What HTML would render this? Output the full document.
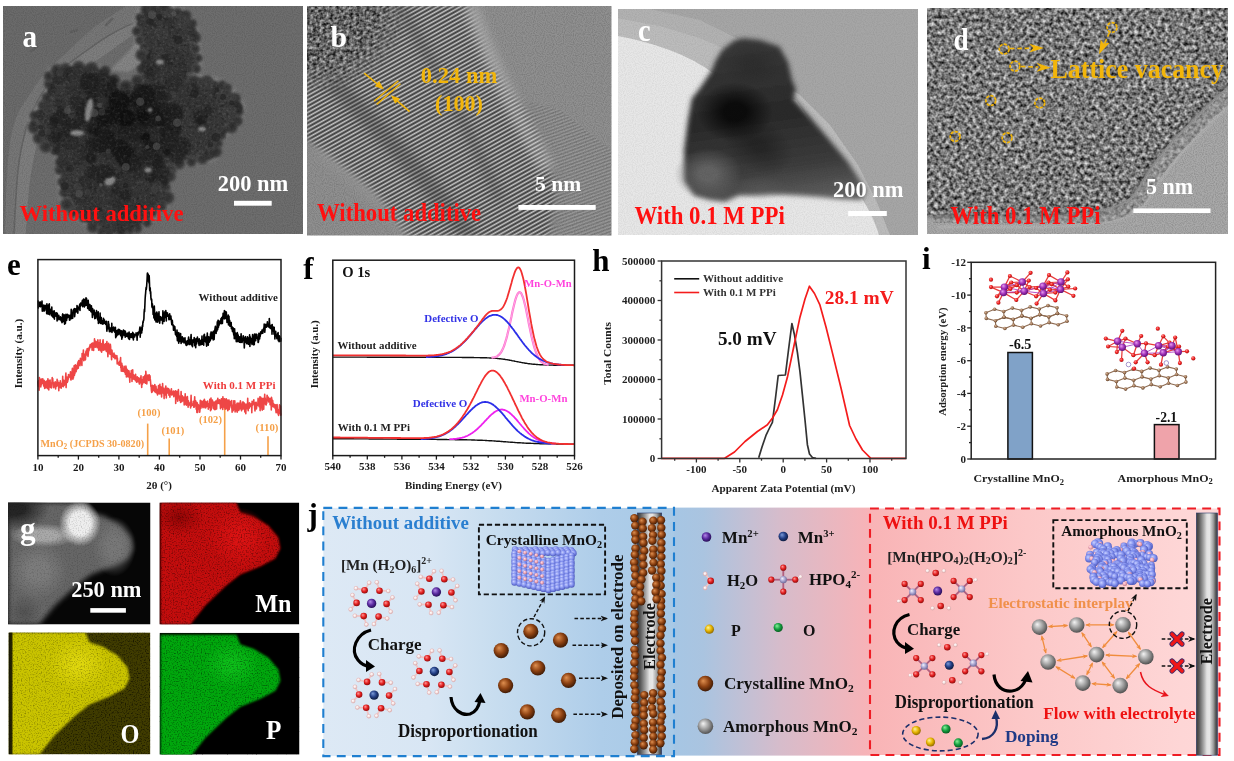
<!DOCTYPE html>
<html lang="en"><head><meta charset="utf-8"><title>MnO2 figure</title>
<style>html,body{margin:0;padding:0;width:1234px;height:761px;overflow:hidden;background:#fff}svg{display:block}</style>
</head><body>
<svg width="1234" height="761" viewBox="0 0 1234 761" font-family='"Liberation Serif","Times New Roman",serif' font-weight="bold">
<defs>

<filter id="blur1" x="-20%" y="-20%" width="140%" height="140%"><feGaussianBlur stdDeviation="1.2"/></filter>
<filter id="blur2" x="-20%" y="-20%" width="140%" height="140%"><feGaussianBlur stdDeviation="2.5"/></filter>
<filter id="blur4" x="-30%" y="-30%" width="160%" height="160%"><feGaussianBlur stdDeviation="4"/></filter>
<filter id="blur8" x="-30%" y="-30%" width="160%" height="160%"><feGaussianBlur stdDeviation="8"/></filter>
<filter id="noiseD" x="0" y="0" width="100%" height="100%">
  <feTurbulence type="fractalNoise" baseFrequency="0.38" numOctaves="2" seed="7" result="n"/>
  <feColorMatrix in="n" type="matrix" values="0 0 0 0 0  0 0 0 0 0  0 0 0 0 0  -2.2 0 0 0 1.1" result="a"/>
  <feComposite in="a" in2="SourceGraphic" operator="in"/>
</filter>
<filter id="noiseL" x="0" y="0" width="100%" height="100%">
  <feTurbulence type="fractalNoise" baseFrequency="0.38" numOctaves="2" seed="11" result="n"/>
  <feColorMatrix in="n" type="matrix" values="0 0 0 0 1  0 0 0 0 1  0 0 0 0 1  2.2 0 0 0 -1.1" result="a"/>
  <feComposite in="a" in2="SourceGraphic" operator="in"/>
</filter>
<filter id="grain" x="0" y="0" width="100%" height="100%">
  <feTurbulence type="fractalNoise" baseFrequency="0.9" numOctaves="1" seed="3" result="n"/>
  <feColorMatrix in="n" type="matrix" values="0 0 0 0 0  0 0 0 0 0  0 0 0 0 0  -1.2 0 0 0 0.75" result="a"/>
  <feComposite in="a" in2="SourceGraphic" operator="in"/>
</filter>
<pattern id="fringe" width="3.7" height="20" patternUnits="userSpaceOnUse" patternTransform="rotate(61)">
  <rect width="3.7" height="20" fill="#c8c8c8"/><rect x="0.3" width="2.3" height="20" fill="#686868"/><rect x="0.8" width="1.3" height="20" fill="#3a3a3a"/>
</pattern>
<radialGradient id="gPart" cx="50%" cy="50%" r="50%"><stop offset="0" stop-color="#2e2e2e"/><stop offset="0.7" stop-color="#3e3e3e"/><stop offset="1" stop-color="#5a5a5a"/></radialGradient>
<filter id="tex" x="0" y="0" width="100%" height="100%" color-interpolation-filters="sRGB">
  <feTurbulence type="fractalNoise" baseFrequency="0.26" numOctaves="2" seed="7" result="n"/>
  <feColorMatrix in="n" type="matrix" values="1.2 0 0 0 -0.13  1.2 0 0 0 -0.13  1.2 0 0 0 -0.13  0 0 0 0 1" result="g"/>
  <feComposite in="g" in2="SourceGraphic" operator="in"/>
</filter>
<filter id="tex2" x="0" y="0" width="100%" height="100%" color-interpolation-filters="sRGB">
  <feTurbulence type="fractalNoise" baseFrequency="0.3" numOctaves="2" seed="2" result="n"/>
  <feColorMatrix in="n" type="matrix" values="1.2 0 0 0 -0.22  1.2 0 0 0 -0.22  1.2 0 0 0 -0.22  0 0 0 0 1" result="g"/>
  <feComposite in="g" in2="SourceGraphic" operator="in"/>
</filter>
<pattern id="fringe2" width="3.2" height="20" patternUnits="userSpaceOnUse" patternTransform="rotate(70)">
  <rect width="3.2" height="20" fill="#aaa"/><rect width="1.5" height="20" fill="#444"/>
</pattern>
<linearGradient id="gPc" x1="0.35" y1="0.05" x2="0.5" y2="1"><stop offset="0" stop-color="#383838"/><stop offset="0.45" stop-color="#2a2a2a"/><stop offset="0.78" stop-color="#3c3c3c"/><stop offset="1" stop-color="#5e5e5e"/></linearGradient>
<radialGradient id="gmB" cx="0.1" cy="0.05" r="0.75"><stop offset="0" stop-color="#fff"/><stop offset="0.6" stop-color="#fff"/><stop offset="1" stop-color="#000"/></radialGradient>
<mask id="mB" maskUnits="userSpaceOnUse" x="307" y="6" width="120" height="110"><rect x="307" y="6" width="120" height="110" fill="url(#gmB)"/></mask>
<clipPath id="cpA"><rect x="3" y="6" width="300" height="228"/></clipPath>
<clipPath id="cpB"><rect x="307" y="6" width="304.5" height="229.5"/></clipPath>
<clipPath id="cpC"><rect x="618" y="9" width="300" height="226"/></clipPath>
<clipPath id="cpD"><rect x="927" y="8" width="301" height="226"/></clipPath>


<clipPath id="cpG1"><rect x="8" y="502.5" width="142.5" height="122"/></clipPath>
<clipPath id="cpG2"><rect x="159.4" y="502.5" width="139.8" height="122"/></clipPath>
<clipPath id="cpG3"><rect x="8.5" y="632.4" width="141.8" height="122"/></clipPath>
<clipPath id="cpG4"><rect x="159.5" y="632.8" width="140" height="121.6"/></clipPath>
<filter id="speck" x="0" y="0" width="100%" height="100%">
  <feTurbulence type="fractalNoise" baseFrequency="0.75" numOctaves="1" seed="5" result="n"/>
  <feColorMatrix in="n" type="matrix" values="0 0 0 0 0  0 0 0 0 0  0 0 0 0 0  -2.6 0 0 0 1.35" result="a"/>
  <feComposite in="a" in2="SourceGraphic" operator="in"/>
</filter>
<filter id="speckS" x="0" y="0" width="100%" height="100%">
  <feTurbulence type="fractalNoise" baseFrequency="0.8" numOctaves="1" seed="9" result="n"/>
  <feColorMatrix in="n" type="matrix" values="0 0 0 0 0  0 0 0 0 0  0 0 0 0 0  9 0 0 0 -5.6" result="a"/>
  <feComposite in="a" in2="SourceGraphic" operator="in"/>
</filter>

<radialGradient id="gBr" cx="45%" cy="42%" r="60%" fx="35%" fy="32%"><stop offset="0" stop-color="#e09050"/><stop offset="0.55" stop-color="#8e4212"/><stop offset="1" stop-color="#3a1804"/></radialGradient>
<radialGradient id="gGy" cx="45%" cy="42%" r="60%" fx="35%" fy="32%"><stop offset="0" stop-color="#f4f4f4"/><stop offset="0.55" stop-color="#9a9a9a"/><stop offset="1" stop-color="#4a4a4a"/></radialGradient>
<radialGradient id="gPu" cx="45%" cy="42%" r="60%" fx="35%" fy="32%"><stop offset="0" stop-color="#b48ae8"/><stop offset="0.55" stop-color="#5a2aa0"/><stop offset="1" stop-color="#220c50"/></radialGradient>
<radialGradient id="gBl" cx="45%" cy="42%" r="60%" fx="35%" fy="32%"><stop offset="0" stop-color="#7a9ad8"/><stop offset="0.55" stop-color="#233f86"/><stop offset="1" stop-color="#0c1838"/></radialGradient>
<radialGradient id="gRd" cx="45%" cy="42%" r="60%" fx="35%" fy="32%"><stop offset="0" stop-color="#ff9a9a"/><stop offset="0.55" stop-color="#e42020"/><stop offset="1" stop-color="#8a0a0a"/></radialGradient>
<radialGradient id="gWh" cx="45%" cy="42%" r="60%" fx="35%" fy="32%"><stop offset="0" stop-color="#ffffff"/><stop offset="0.55" stop-color="#f6e4e4"/><stop offset="1" stop-color="#c8a0a0"/></radialGradient>
<radialGradient id="gYe" cx="45%" cy="42%" r="60%" fx="35%" fy="32%"><stop offset="0" stop-color="#fff59a"/><stop offset="0.55" stop-color="#e6b400"/><stop offset="1" stop-color="#8a6400"/></radialGradient>
<radialGradient id="gGr" cx="45%" cy="42%" r="60%" fx="35%" fy="32%"><stop offset="0" stop-color="#8af09a"/><stop offset="0.55" stop-color="#14a040"/><stop offset="1" stop-color="#06541c"/></radialGradient>
<radialGradient id="gLv" cx="45%" cy="42%" r="60%" fx="35%" fy="32%"><stop offset="0" stop-color="#f4f4ff"/><stop offset="0.55" stop-color="#a8a4d0"/><stop offset="1" stop-color="#6a6494"/></radialGradient>
<radialGradient id="gCb" cx="45%" cy="42%" r="60%" fx="35%" fy="32%"><stop offset="0" stop-color="#c8d0ff"/><stop offset="0.55" stop-color="#8290ee"/><stop offset="1" stop-color="#4a56b8"/></radialGradient>
<radialGradient id="gPk" cx="45%" cy="42%" r="60%" fx="35%" fy="32%"><stop offset="0" stop-color="#ffe0e8"/><stop offset="0.55" stop-color="#f0a8b8"/><stop offset="1" stop-color="#b07080"/></radialGradient>
<radialGradient id="gCa" cx="45%" cy="42%" r="60%" fx="35%" fy="32%"><stop offset="0" stop-color="#d8b8a0"/><stop offset="0.55" stop-color="#a07858"/><stop offset="1" stop-color="#5a3a24"/></radialGradient>
<radialGradient id="gOx" cx="45%" cy="42%" r="60%" fx="35%" fy="32%"><stop offset="0" stop-color="#ff9090"/><stop offset="0.55" stop-color="#ee2020"/><stop offset="1" stop-color="#a01010"/></radialGradient>
<radialGradient id="gMn" cx="45%" cy="42%" r="60%" fx="35%" fy="32%"><stop offset="0" stop-color="#e8a0f0"/><stop offset="0.55" stop-color="#a030b8"/><stop offset="1" stop-color="#5a1070"/></radialGradient>
<linearGradient id="jBlue" x1="0" x2="1" y1="0" y2="0"><stop offset="0" stop-color="#dde9f5"/><stop offset="0.3" stop-color="#d8e6f4"/><stop offset="0.45" stop-color="#cbdff0"/><stop offset="0.79" stop-color="#aecde9"/><stop offset="1" stop-color="#a8c9e6"/></linearGradient>
<linearGradient id="jMid" x1="0" x2="1" y1="0" y2="0"><stop offset="0" stop-color="#a6c6e4"/><stop offset="0.15" stop-color="#aac4e0"/><stop offset="0.54" stop-color="#d6bccb"/><stop offset="1" stop-color="#f8b3b7"/></linearGradient>
<linearGradient id="jPink" x1="0" x2="1" y1="0" y2="0"><stop offset="0" stop-color="#f9b4b6"/><stop offset="0.45" stop-color="#fcc8c8"/><stop offset="0.89" stop-color="#fed6d6"/><stop offset="1" stop-color="#fed8d8"/></linearGradient>
<linearGradient id="gEl" x1="0" x2="1" y1="0" y2="0"><stop offset="0" stop-color="#3a3a3a"/><stop offset="0.12" stop-color="#555"/><stop offset="0.35" stop-color="#a8a8a8"/><stop offset="0.5" stop-color="#e2e2e2"/><stop offset="0.62" stop-color="#e6e6e6"/><stop offset="0.8" stop-color="#a0a0a0"/><stop offset="0.92" stop-color="#555"/><stop offset="1" stop-color="#383c48"/></linearGradient>
<marker id="ahK" viewBox="0 0 10 10" refX="8" refY="5" markerWidth="5" markerHeight="5" orient="auto-start-reverse"><path d="M0,1 L10,5 L0,9 L3,5Z" fill="#111"/></marker>
<marker id="ahO" viewBox="0 0 10 10" refX="8" refY="5" markerWidth="4.2" markerHeight="4.2" orient="auto-start-reverse"><path d="M0,1 L10,5 L0,9 L3,5Z" fill="#f08c3c"/></marker>
<marker id="ahR" viewBox="0 0 10 10" refX="6" refY="5" markerWidth="5" markerHeight="5" orient="auto"><path d="M0,0 L10,5 L0,10 L3,5Z" fill="#e8141c"/></marker>
<radialGradient id="sb1"><stop offset="0.1" stop-color="#0c0c0c" stop-opacity="0.55"/><stop offset="1" stop-color="#0c0c0c" stop-opacity="0"/></radialGradient>
<radialGradient id="sb2"><stop offset="0.3" stop-color="#0a0a0a" stop-opacity="0.95"/><stop offset="1" stop-color="#0a0a0a" stop-opacity="0"/></radialGradient>
<radialGradient id="sb3"><stop offset="0.2" stop-color="#141414" stop-opacity="0.45"/><stop offset="1" stop-color="#141414" stop-opacity="0"/></radialGradient>
<radialGradient id="sb4"><stop offset="0.2" stop-color="#2a2a2a" stop-opacity="0.6"/><stop offset="1" stop-color="#2a2a2a" stop-opacity="0"/></radialGradient>
<radialGradient id="sb5"><stop offset="0.25" stop-color="#6a6a6a" stop-opacity="0.85"/><stop offset="1" stop-color="#6a6a6a" stop-opacity="0"/></radialGradient>
<radialGradient id="sb6"><stop offset="0.0" stop-color="#5a5a5a" stop-opacity="0.6"/><stop offset="1" stop-color="#5a5a5a" stop-opacity="0"/></radialGradient>
<radialGradient id="sb7"><stop offset="0.0" stop-color="#6a6a6a" stop-opacity="0.5"/><stop offset="1" stop-color="#6a6a6a" stop-opacity="0"/></radialGradient>
<radialGradient id="sb8"><stop offset="0.3" stop-color="#222" stop-opacity="0.95"/><stop offset="1" stop-color="#222" stop-opacity="0"/></radialGradient>
<radialGradient id="sb9"><stop offset="0.4" stop-color="#a8a8a8" stop-opacity="1.0"/><stop offset="1" stop-color="#a8a8a8" stop-opacity="0"/></radialGradient>
<radialGradient id="sb10"><stop offset="0.5" stop-color="#eeeeee" stop-opacity="1.0"/><stop offset="1" stop-color="#eeeeee" stop-opacity="0"/></radialGradient>
<radialGradient id="sb11"><stop offset="0.3" stop-color="#7c7c7c" stop-opacity="0.8"/><stop offset="1" stop-color="#7c7c7c" stop-opacity="0"/></radialGradient>
<radialGradient id="sb12"><stop offset="0.3" stop-color="#7e7e7e" stop-opacity="0.9"/><stop offset="1" stop-color="#7e7e7e" stop-opacity="0"/></radialGradient>
<radialGradient id="sb13"><stop offset="0.0" stop-color="#4a4a4a" stop-opacity="0.7"/><stop offset="1" stop-color="#4a4a4a" stop-opacity="0"/></radialGradient>
<radialGradient id="sb14"><stop offset="0.2" stop-color="#e01414" stop-opacity="0.8"/><stop offset="1" stop-color="#e01414" stop-opacity="0"/></radialGradient>
<radialGradient id="sb15"><stop offset="0.0" stop-color="#700000" stop-opacity="0.6"/><stop offset="1" stop-color="#700000" stop-opacity="0"/></radialGradient>
<radialGradient id="sb16"><stop offset="0.2" stop-color="#e4dc10" stop-opacity="0.8"/><stop offset="1" stop-color="#e4dc10" stop-opacity="0"/></radialGradient>
<radialGradient id="sb17"><stop offset="0.2" stop-color="#10c41c" stop-opacity="0.8"/><stop offset="1" stop-color="#10c41c" stop-opacity="0"/></radialGradient>
</defs>
<rect width="1234" height="761" fill="#fff"/>
<text x="7.0" y="275.3" font-size="31" fill="#000">e</text>
<line x1="147.7" y1="423.6" x2="147.7" y2="455.6" stroke="#f5a048" stroke-width="1.6" />
<line x1="169.2" y1="438.6" x2="169.2" y2="455.6" stroke="#f5a048" stroke-width="1.6" />
<line x1="224.7" y1="407.0" x2="224.7" y2="455.6" stroke="#f5a048" stroke-width="1.6" />
<line x1="268.0" y1="436.2" x2="268.0" y2="455.6" stroke="#f5a048" stroke-width="1.6" />
<polyline points="37.9,381.3 38.1,384.4 38.4,386.5 38.6,380.5 38.9,382.1 39.1,390.2 39.4,377.5 39.6,382.0 39.8,383.7 40.1,379.1 40.3,385.8 40.6,383.4 40.8,387.0 41.1,382.8 41.3,384.9 41.5,379.0 41.8,382.9 42.0,379.2 42.3,383.3 42.5,383.0 42.8,378.7 43.0,383.7 43.2,380.4 43.5,384.0 43.7,385.8 44.0,380.2 44.2,386.6 44.5,382.4 44.7,388.4 44.9,381.4 45.2,384.0 45.4,387.8 45.7,387.8 45.9,387.7 46.2,381.7 46.4,383.9 46.7,383.7 46.9,386.7 47.1,380.6 47.4,388.2 47.6,385.0 47.9,378.7 48.1,380.4 48.4,389.4 48.6,381.0 48.8,390.0 49.1,380.6 49.3,384.6 49.6,380.4 49.8,382.6 50.1,380.1 50.3,385.9 50.5,387.4 50.8,382.8 51.0,383.8 51.3,384.0 51.5,387.9 51.8,385.8 52.0,381.9 52.2,377.6 52.5,381.5 52.7,378.5 53.0,382.7 53.2,383.5 53.5,382.4 53.7,387.6 53.9,385.0 54.2,384.4 54.4,384.2 54.7,386.6 54.9,385.9 55.2,381.9 55.4,382.1 55.6,389.0 55.9,385.7 56.1,386.6 56.4,384.9 56.6,385.0 56.9,386.1 57.1,379.4 57.3,385.6 57.6,380.5 57.8,385.6 58.1,385.7 58.3,382.3 58.6,386.1 58.8,390.7 59.0,382.8 59.3,386.3 59.5,383.1 59.8,384.0 60.0,387.5 60.3,380.7 60.5,382.6 60.8,386.0 61.0,384.1 61.2,388.1 61.5,384.0 61.7,386.8 62.0,386.0 62.2,383.1 62.5,383.9 62.7,376.3 62.9,384.9 63.2,381.4 63.4,386.8 63.7,380.2 63.9,382.6 64.2,383.3 64.4,385.1 64.6,380.9 64.9,380.4 65.1,382.6 65.4,381.1 65.6,377.6 65.9,373.1 66.1,387.6 66.3,380.9 66.6,382.5 66.8,381.2 67.1,377.1 67.3,382.4 67.6,379.9 67.8,381.1 68.0,377.9 68.3,379.3 68.5,374.6 68.8,375.3 69.0,375.9 69.3,375.8 69.5,376.8 69.7,374.7 70.0,377.3 70.2,375.9 70.5,371.8 70.7,378.9 71.0,379.9 71.2,372.8 71.4,378.9 71.7,378.4 71.9,375.7 72.2,370.4 72.4,368.2 72.7,375.7 72.9,379.2 73.1,373.1 73.4,377.9 73.6,372.8 73.9,375.2 74.1,365.7 74.4,375.5 74.6,371.6 74.9,373.7 75.1,367.0 75.3,364.7 75.6,366.9 75.8,368.5 76.1,371.8 76.3,365.8 76.6,369.2 76.8,369.6 77.0,368.0 77.3,365.9 77.5,363.9 77.8,363.6 78.0,361.8 78.3,368.2 78.5,363.0 78.7,360.6 79.0,362.8 79.2,362.6 79.5,364.2 79.7,362.5 80.0,365.8 80.2,360.6 80.4,358.3 80.7,360.3 80.9,362.2 81.2,361.1 81.4,361.8 81.7,364.3 81.9,365.4 82.1,353.5 82.4,359.1 82.6,353.5 82.9,358.0 83.1,356.5 83.4,350.1 83.6,357.0 83.8,360.6 84.1,357.2 84.3,354.1 84.6,357.0 84.8,359.0 85.1,354.6 85.3,359.9 85.5,359.5 85.8,352.8 86.0,351.4 86.3,350.7 86.5,350.1 86.8,353.9 87.0,355.0 87.2,348.5 87.5,351.1 87.7,350.4 88.0,356.5 88.2,354.6 88.5,350.7 88.7,348.0 89.0,350.7 89.2,347.7 89.4,349.3 89.7,346.1 89.9,348.0 90.2,344.5 90.4,345.9 90.7,344.9 90.9,347.0 91.1,344.9 91.4,346.7 91.6,343.6 91.9,344.8 92.1,350.3 92.4,346.8 92.6,343.1 92.8,346.1 93.1,346.2 93.3,346.0 93.6,350.4 93.8,342.8 94.1,347.3 94.3,346.0 94.5,338.9 94.8,345.8 95.0,340.8 95.3,341.2 95.5,347.3 95.8,343.9 96.0,344.3 96.2,341.8 96.5,344.6 96.7,345.4 97.0,344.6 97.2,347.8 97.5,344.5 97.7,340.4 97.9,339.9 98.2,347.4 98.4,343.1 98.7,350.1 98.9,345.7 99.2,342.7 99.4,345.3 99.6,349.0 99.9,346.7 100.1,339.8 100.4,350.8 100.6,345.6 100.9,345.7 101.1,349.4 101.3,348.1 101.6,352.3 101.8,343.6 102.1,350.6 102.3,345.0 102.6,349.1 102.8,341.2 103.1,339.9 103.3,342.5 103.5,349.1 103.8,350.2 104.0,344.2 104.3,349.6 104.5,348.0 104.8,345.3 105.0,347.6 105.2,345.7 105.5,343.8 105.7,347.4 106.0,350.5 106.2,351.1 106.5,350.2 106.7,342.8 106.9,341.6 107.2,352.0 107.4,347.9 107.7,352.0 107.9,356.7 108.2,349.6 108.4,352.1 108.6,343.3 108.9,350.3 109.1,348.6 109.4,353.0 109.6,350.2 109.9,352.8 110.1,354.3 110.3,344.2 110.6,346.6 110.8,352.9 111.1,352.5 111.3,354.8 111.6,359.8 111.8,350.1 112.0,350.3 112.3,354.9 112.5,353.7 112.8,356.4 113.0,356.5 113.3,356.5 113.5,354.6 113.7,357.4 114.0,353.0 114.2,354.5 114.5,357.5 114.7,356.6 115.0,358.8 115.2,356.8 115.4,355.3 115.7,358.1 115.9,358.0 116.2,358.4 116.4,358.2 116.7,356.2 116.9,355.7 117.2,363.9 117.4,358.1 117.6,363.5 117.9,362.5 118.1,362.7 118.4,362.9 118.6,364.0 118.9,363.3 119.1,365.1 119.3,363.6 119.6,361.2 119.8,363.0 120.1,365.2 120.3,361.5 120.6,357.5 120.8,367.7 121.0,365.0 121.3,371.3 121.5,368.0 121.8,363.2 122.0,368.5 122.3,365.3 122.5,371.3 122.7,371.0 123.0,368.9 123.2,371.5 123.5,370.7 123.7,369.6 124.0,368.7 124.2,366.4 124.4,370.0 124.7,372.1 124.9,368.9 125.2,370.6 125.4,374.3 125.7,368.8 125.9,366.1 126.1,367.1 126.4,376.9 126.6,369.7 126.9,372.2 127.1,369.3 127.4,370.7 127.6,376.1 127.8,371.9 128.1,376.9 128.3,372.8 128.6,376.4 128.8,370.6 129.1,371.8 129.3,375.6 129.5,375.2 129.8,382.2 130.0,373.8 130.3,376.4 130.5,377.4 130.8,373.2 131.0,375.3 131.3,370.6 131.5,377.6 131.7,370.6 132.0,381.5 132.2,372.2 132.5,376.7 132.7,369.9 133.0,379.0 133.2,376.5 133.4,378.1 133.7,374.9 133.9,379.2 134.2,379.2 134.4,377.3 134.7,375.8 134.9,375.9 135.1,379.0 135.4,380.6 135.6,374.2 135.9,379.1 136.1,379.7 136.4,380.0 136.6,382.2 136.8,378.2 137.1,381.4 137.3,376.7 137.6,381.0 137.8,381.8 138.1,377.8 138.3,379.8 138.5,381.6 138.8,378.0 139.0,379.6 139.3,384.0 139.5,384.0 139.8,382.4 140.0,378.3 140.2,380.4 140.5,382.5 140.7,380.8 141.0,375.8 141.2,381.1 141.5,383.8 141.7,387.5 141.9,383.0 142.2,379.8 142.4,384.2 142.7,380.9 142.9,382.9 143.2,376.9 143.4,381.3 143.6,381.8 143.9,382.5 144.1,376.7 144.4,380.9 144.6,379.4 144.9,375.2 145.1,382.5 145.4,382.5 145.6,383.3 145.8,371.4 146.1,374.7 146.3,378.7 146.6,379.3 146.8,384.0 147.1,379.3 147.3,379.1 147.5,378.9 147.8,375.1 148.0,378.8 148.3,379.5 148.5,379.0 148.8,380.5 149.0,378.4 149.2,374.7 149.5,377.0 149.7,379.9 150.0,375.9 150.2,378.4 150.5,381.1 150.7,383.5 150.9,386.5 151.2,386.6 151.4,390.5 151.7,392.4 151.9,387.2 152.2,391.9 152.4,385.3 152.6,390.6 152.9,386.5 153.1,389.7 153.4,388.7 153.6,385.9 153.9,390.5 154.1,385.5 154.3,390.9 154.6,391.6 154.8,384.6 155.1,388.5 155.3,390.3 155.6,387.0 155.8,392.5 156.0,386.4 156.3,390.3 156.5,392.9 156.8,389.4 157.0,392.4 157.3,391.1 157.5,395.0 157.7,392.1 158.0,389.0 158.2,391.8 158.5,385.6 158.7,392.9 159.0,389.8 159.2,393.9 159.5,387.8 159.7,386.6 159.9,384.4 160.2,393.7 160.4,390.9 160.7,391.6 160.9,386.7 161.2,390.1 161.4,393.5 161.6,397.0 161.9,388.8 162.1,393.1 162.4,392.9 162.6,383.5 162.9,390.8 163.1,391.3 163.3,390.6 163.6,393.6 163.8,388.3 164.1,398.6 164.3,390.6 164.6,389.9 164.8,390.7 165.0,390.9 165.3,395.0 165.5,387.9 165.8,386.1 166.0,388.2 166.3,397.9 166.5,393.0 166.7,390.0 167.0,390.5 167.2,393.1 167.5,388.4 167.7,389.3 168.0,388.4 168.2,392.5 168.4,390.6 168.7,388.7 168.9,395.3 169.2,390.7 169.4,390.1 169.7,393.9 169.9,397.3 170.1,393.5 170.4,391.9 170.6,392.5 170.9,394.3 171.1,391.2 171.4,388.8 171.6,393.9 171.8,395.0 172.1,392.7 172.3,394.6 172.6,391.9 172.8,393.1 173.1,392.3 173.3,391.0 173.5,391.8 173.8,396.7 174.0,393.9 174.3,395.3 174.5,391.6 174.8,395.6 175.0,394.8 175.3,393.9 175.5,390.8 175.7,403.4 176.0,395.7 176.2,393.9 176.5,399.0 176.7,398.6 177.0,391.4 177.2,395.4 177.4,392.5 177.7,401.1 177.9,395.0 178.2,396.5 178.4,389.6 178.7,395.4 178.9,397.5 179.1,398.1 179.4,396.0 179.6,400.4 179.9,397.0 180.1,399.1 180.4,396.5 180.6,402.4 180.8,399.5 181.1,391.6 181.3,397.0 181.6,399.1 181.8,401.7 182.1,401.1 182.3,395.7 182.5,399.1 182.8,400.8 183.0,399.2 183.3,397.8 183.5,400.7 183.8,397.1 184.0,398.7 184.2,405.0 184.5,399.9 184.7,403.9 185.0,403.0 185.2,393.7 185.5,402.8 185.7,403.0 185.9,404.5 186.2,397.4 186.4,405.2 186.7,400.3 186.9,398.9 187.2,398.2 187.4,396.6 187.6,400.7 187.9,400.6 188.1,407.2 188.4,400.8 188.6,405.7 188.9,403.4 189.1,403.1 189.4,404.3 189.6,403.6 189.8,403.4 190.1,405.1 190.3,402.3 190.6,407.9 190.8,403.7 191.1,395.3 191.3,406.1 191.5,403.8 191.8,403.8 192.0,404.4 192.3,404.7 192.5,405.3 192.8,403.9 193.0,405.1 193.2,401.4 193.5,404.7 193.7,407.2 194.0,401.3 194.2,407.1 194.5,400.8 194.7,396.8 194.9,403.4 195.2,405.9 195.4,404.7 195.7,400.8 195.9,401.7 196.2,409.2 196.4,403.3 196.6,404.6 196.9,412.5 197.1,402.6 197.4,404.7 197.6,412.4 197.9,404.8 198.1,404.4 198.3,409.0 198.6,405.0 198.8,408.7 199.1,406.1 199.3,406.9 199.6,412.3 199.8,411.7 200.0,408.9 200.3,400.4 200.5,404.0 200.8,408.4 201.0,406.9 201.3,405.9 201.5,404.8 201.7,401.0 202.0,406.8 202.2,401.6 202.5,405.5 202.7,404.5 203.0,407.7 203.2,402.0 203.5,401.0 203.7,400.4 203.9,406.9 204.2,402.9 204.4,399.4 204.7,402.3 204.9,404.4 205.2,408.0 205.4,406.7 205.6,401.5 205.9,407.6 206.1,404.5 206.4,406.0 206.6,404.0 206.9,402.9 207.1,401.8 207.3,406.3 207.6,401.0 207.8,406.4 208.1,405.9 208.3,409.3 208.6,405.4 208.8,403.7 209.0,406.5 209.3,406.4 209.5,407.4 209.8,399.3 210.0,405.1 210.3,401.3 210.5,410.8 210.7,402.8 211.0,398.1 211.2,409.8 211.5,403.7 211.7,405.5 212.0,405.5 212.2,402.1 212.4,400.1 212.7,402.5 212.9,401.9 213.2,408.3 213.4,403.8 213.7,402.4 213.9,407.3 214.1,409.1 214.4,402.0 214.6,409.6 214.9,402.9 215.1,405.3 215.4,405.2 215.6,409.4 215.8,401.0 216.1,404.5 216.3,403.0 216.6,408.9 216.8,402.1 217.1,400.1 217.3,400.3 217.6,402.3 217.8,398.3 218.0,403.4 218.3,401.6 218.5,403.1 218.8,400.4 219.0,403.3 219.3,401.2 219.5,403.7 219.7,399.9 220.0,403.4 220.2,402.6 220.5,408.8 220.7,405.2 221.0,403.7 221.2,405.9 221.4,398.7 221.7,407.2 221.9,404.1 222.2,403.1 222.4,398.5 222.7,409.5 222.9,396.8 223.1,404.4 223.4,398.8 223.6,403.3 223.9,402.7 224.1,404.4 224.4,407.6 224.6,398.7 224.8,399.4 225.1,405.5 225.3,409.1 225.6,400.6 225.8,407.3 226.1,405.4 226.3,398.7 226.5,406.7 226.8,408.8 227.0,399.7 227.3,403.3 227.5,404.4 227.8,410.7 228.0,403.5 228.2,400.4 228.5,401.7 228.7,405.0 229.0,400.0 229.2,409.4 229.5,402.6 229.7,401.6 229.9,401.7 230.2,404.5 230.4,405.5 230.7,404.9 230.9,401.3 231.2,406.9 231.4,407.8 231.7,400.5 231.9,407.9 232.1,412.3 232.4,405.0 232.6,409.9 232.9,409.0 233.1,410.7 233.4,405.2 233.6,408.2 233.8,400.8 234.1,406.3 234.3,409.4 234.6,407.6 234.8,400.9 235.1,411.9 235.3,404.6 235.5,405.4 235.8,410.6 236.0,408.2 236.3,407.9 236.5,408.2 236.8,405.4 237.0,403.3 237.2,412.3 237.5,408.8 237.7,405.5 238.0,403.1 238.2,406.2 238.5,408.1 238.7,410.5 238.9,409.3 239.2,407.1 239.4,403.2 239.7,405.0 239.9,409.0 240.2,406.6 240.4,400.8 240.6,402.5 240.9,406.7 241.1,404.6 241.4,409.8 241.6,410.8 241.9,406.8 242.1,404.0 242.3,405.5 242.6,402.1 242.8,403.9 243.1,409.1 243.3,402.1 243.6,405.2 243.8,407.7 244.0,406.7 244.3,403.0 244.5,404.6 244.8,412.0 245.0,403.8 245.3,405.3 245.5,404.7 245.8,413.7 246.0,406.0 246.2,408.0 246.5,405.2 246.7,404.7 247.0,403.7 247.2,408.7 247.5,407.3 247.7,398.4 247.9,404.1 248.2,410.7 248.4,403.5 248.7,403.5 248.9,408.2 249.2,408.2 249.4,406.8 249.6,402.9 249.9,404.1 250.1,405.4 250.4,405.6 250.6,406.5 250.9,404.5 251.1,405.5 251.3,403.7 251.6,403.6 251.8,412.7 252.1,401.2 252.3,405.3 252.6,403.7 252.8,402.9 253.0,403.6 253.3,401.5 253.5,403.0 253.8,399.9 254.0,404.3 254.3,405.1 254.5,402.8 254.7,408.1 255.0,410.9 255.2,405.1 255.5,402.6 255.7,404.4 256.0,405.0 256.2,402.4 256.4,408.9 256.7,406.1 256.9,405.2 257.2,405.0 257.4,405.5 257.7,404.5 257.9,403.1 258.1,398.4 258.4,401.3 258.6,404.8 258.9,403.7 259.1,406.6 259.4,399.3 259.6,402.2 259.9,396.7 260.1,410.6 260.3,406.1 260.6,402.7 260.8,397.3 261.1,407.7 261.3,402.3 261.6,403.6 261.8,398.5 262.0,409.5 262.3,410.1 262.5,403.0 262.8,407.5 263.0,398.3 263.3,403.2 263.5,406.7 263.7,409.3 264.0,401.8 264.2,398.7 264.5,400.1 264.7,394.2 265.0,403.8 265.2,398.1 265.4,403.7 265.7,404.6 265.9,400.2 266.2,404.9 266.4,402.8 266.7,403.3 266.9,398.2 267.1,395.3 267.4,396.5 267.6,397.0 267.9,400.5 268.1,399.6 268.4,397.3 268.6,402.0 268.8,401.6 269.1,399.7 269.3,401.4 269.6,401.3 269.8,398.5 270.1,404.6 270.3,398.5 270.5,403.1 270.8,402.5 271.0,400.0 271.3,410.0 271.5,397.4 271.8,399.1 272.0,406.7 272.2,402.7 272.5,402.5 272.7,400.5 273.0,405.2 273.2,403.4 273.5,407.0 273.7,406.1 274.0,406.8 274.2,404.3 274.4,404.8 274.7,406.9 274.9,407.2 275.2,408.6 275.4,408.5 275.7,404.9 275.9,410.9 276.1,412.7 276.4,406.9 276.6,407.3 276.9,412.5 277.1,404.6 277.4,409.6 277.6,410.2 277.8,409.6 278.1,414.2 278.3,412.1 278.6,415.4 278.8,410.6 279.1,411.7 279.3,409.9 279.5,404.8 279.8,409.9 280.0,411.3 280.3,413.8 280.5,406.0 280.8,415.2 281.0,413.3" fill="none" stroke="#ee4646" stroke-width="1.6" stroke-linejoin="round" />
<polyline points="37.9,301.6 38.1,301.1 38.4,307.9 38.6,302.8 38.9,304.4 39.1,302.8 39.4,305.0 39.6,305.9 39.8,306.2 40.1,301.7 40.3,304.2 40.6,306.8 40.8,302.6 41.1,305.0 41.3,306.1 41.5,303.8 41.8,304.4 42.0,301.1 42.3,311.2 42.5,309.6 42.8,309.7 43.0,306.5 43.2,305.6 43.5,305.1 43.7,308.1 44.0,311.2 44.2,306.6 44.5,308.1 44.7,310.5 44.9,305.3 45.2,306.6 45.4,306.8 45.7,308.6 45.9,305.6 46.2,306.2 46.4,307.5 46.7,313.7 46.9,303.7 47.1,311.2 47.4,307.0 47.6,311.4 47.9,308.2 48.1,314.2 48.4,308.1 48.6,304.8 48.8,312.7 49.1,310.6 49.3,303.7 49.6,314.8 49.8,312.3 50.1,312.5 50.3,309.3 50.5,311.9 50.8,313.2 51.0,312.3 51.3,311.4 51.5,315.6 51.8,307.0 52.0,313.8 52.2,314.5 52.5,311.1 52.7,317.0 53.0,312.3 53.2,311.5 53.5,313.5 53.7,313.9 53.9,317.9 54.2,310.8 54.4,319.1 54.7,312.3 54.9,315.1 55.2,314.5 55.4,315.4 55.6,314.4 55.9,316.1 56.1,315.7 56.4,312.7 56.6,314.9 56.9,315.0 57.1,321.0 57.3,313.3 57.6,316.7 57.8,318.4 58.1,319.7 58.3,317.5 58.6,318.3 58.8,315.2 59.0,317.6 59.3,318.5 59.5,318.4 59.8,319.5 60.0,318.6 60.3,319.9 60.5,316.9 60.8,320.0 61.0,317.6 61.2,317.9 61.5,321.4 61.7,318.0 62.0,322.6 62.2,322.2 62.5,314.6 62.7,313.9 62.9,316.1 63.2,314.9 63.4,319.5 63.7,321.6 63.9,321.6 64.2,314.9 64.4,317.9 64.6,324.1 64.9,317.0 65.1,316.9 65.4,323.5 65.6,319.0 65.9,314.4 66.1,319.5 66.3,314.5 66.6,320.4 66.8,318.5 67.1,318.3 67.3,314.3 67.6,316.8 67.8,317.3 68.0,317.0 68.3,315.6 68.5,315.4 68.8,315.1 69.0,315.4 69.3,317.7 69.5,320.2 69.7,318.3 70.0,320.0 70.2,317.7 70.5,315.0 70.7,316.3 71.0,317.5 71.2,309.4 71.4,313.0 71.7,318.6 71.9,314.3 72.2,315.7 72.4,315.7 72.7,318.1 72.9,313.2 73.1,310.6 73.4,309.8 73.6,311.1 73.9,310.5 74.1,309.0 74.4,308.6 74.6,316.7 74.9,314.1 75.1,311.3 75.3,310.9 75.6,309.1 75.8,308.8 76.1,310.0 76.3,311.9 76.6,311.1 76.8,311.5 77.0,305.5 77.3,306.6 77.5,307.3 77.8,313.2 78.0,309.4 78.3,308.3 78.5,307.4 78.7,309.0 79.0,308.9 79.2,307.0 79.5,305.4 79.7,304.6 80.0,310.5 80.2,303.6 80.4,306.4 80.7,303.0 80.9,304.9 81.2,304.7 81.4,305.1 81.7,304.2 81.9,303.5 82.1,301.9 82.4,300.4 82.6,306.7 82.9,301.4 83.1,300.4 83.4,302.3 83.6,299.1 83.8,301.6 84.1,302.6 84.3,307.0 84.6,305.2 84.8,301.3 85.1,299.3 85.3,305.7 85.5,301.1 85.8,302.8 86.0,297.8 86.3,305.2 86.5,298.3 86.8,301.5 87.0,301.2 87.2,303.1 87.5,302.4 87.7,308.5 88.0,301.8 88.2,300.4 88.5,305.1 88.7,304.0 89.0,309.5 89.2,310.1 89.4,307.9 89.7,310.3 89.9,304.5 90.2,307.2 90.4,308.4 90.7,307.7 90.9,311.7 91.1,310.4 91.4,305.8 91.6,311.9 91.9,312.5 92.1,310.5 92.4,317.4 92.6,308.6 92.8,315.2 93.1,313.1 93.3,310.8 93.6,312.1 93.8,312.9 94.1,310.1 94.3,311.8 94.5,316.0 94.8,318.7 95.0,313.8 95.3,313.0 95.5,314.5 95.8,318.1 96.0,315.0 96.2,317.0 96.5,310.6 96.7,316.5 97.0,314.8 97.2,316.8 97.5,313.9 97.7,320.0 97.9,317.7 98.2,311.7 98.4,323.4 98.7,320.4 98.9,322.3 99.2,321.4 99.4,321.4 99.6,317.3 99.9,318.7 100.1,313.0 100.4,323.4 100.6,317.1 100.9,317.3 101.1,321.3 101.3,317.6 101.6,320.6 101.8,323.6 102.1,321.4 102.3,320.7 102.6,320.9 102.8,324.2 103.1,323.9 103.3,322.7 103.5,318.2 103.8,323.2 104.0,320.1 104.3,323.3 104.5,320.1 104.8,323.4 105.0,321.6 105.2,321.5 105.5,323.7 105.7,324.4 106.0,324.2 106.2,323.8 106.5,321.2 106.7,328.2 106.9,331.2 107.2,326.6 107.4,328.4 107.7,326.2 107.9,328.8 108.2,327.2 108.4,321.6 108.6,325.8 108.9,324.0 109.1,329.2 109.4,331.7 109.6,327.7 109.9,327.5 110.1,329.6 110.3,328.4 110.6,330.9 110.8,331.6 111.1,331.0 111.3,329.6 111.6,331.2 111.8,323.4 112.0,332.4 112.3,327.6 112.5,327.7 112.8,330.8 113.0,328.9 113.3,328.8 113.5,329.5 113.7,327.0 114.0,330.7 114.2,328.1 114.5,330.0 114.7,332.1 115.0,331.0 115.2,332.5 115.4,327.2 115.7,337.7 115.9,334.2 116.2,336.8 116.4,331.0 116.7,332.7 116.9,335.8 117.2,330.6 117.4,330.3 117.6,333.4 117.9,330.5 118.1,334.6 118.4,329.4 118.6,332.4 118.9,331.8 119.1,330.8 119.3,334.0 119.6,329.5 119.8,333.1 120.1,330.5 120.3,330.8 120.6,335.6 120.8,332.4 121.0,333.9 121.3,335.3 121.5,330.7 121.8,339.1 122.0,332.9 122.3,337.7 122.5,335.6 122.7,336.3 123.0,331.1 123.2,331.0 123.5,330.1 123.7,332.3 124.0,333.2 124.2,335.1 124.4,332.4 124.7,334.1 124.9,330.9 125.2,337.1 125.4,331.6 125.7,336.2 125.9,333.8 126.1,333.3 126.4,335.1 126.6,335.9 126.9,336.3 127.1,335.1 127.4,333.8 127.6,336.7 127.8,333.1 128.1,335.0 128.3,335.1 128.6,338.6 128.8,334.7 129.1,332.0 129.3,338.0 129.5,339.4 129.8,334.0 130.0,333.8 130.3,334.1 130.5,334.2 130.8,335.3 131.0,337.4 131.3,333.7 131.5,335.0 131.7,336.8 132.0,333.6 132.2,336.5 132.5,337.7 132.7,332.4 133.0,332.9 133.2,336.6 133.4,340.0 133.7,333.9 133.9,333.8 134.2,335.8 134.4,334.8 134.7,336.9 134.9,335.9 135.1,335.0 135.4,334.6 135.6,335.1 135.9,334.8 136.1,332.8 136.4,334.6 136.6,334.7 136.8,334.9 137.1,340.1 137.3,333.9 137.6,335.6 137.8,332.5 138.1,334.9 138.3,333.2 138.5,332.1 138.8,332.9 139.0,331.8 139.3,332.5 139.5,330.6 139.8,327.9 140.0,327.0 140.2,337.3 140.5,332.8 140.7,329.1 141.0,331.5 141.2,330.5 141.5,328.1 141.7,333.0 141.9,327.1 142.2,330.1 142.4,325.3 142.7,326.5 142.9,321.9 143.2,322.4 143.4,320.6 143.6,320.6 143.9,318.7 144.1,312.9 144.4,309.2 144.6,311.7 144.9,304.7 145.1,299.5 145.4,295.1 145.6,293.3 145.8,290.6 146.1,287.6 146.3,289.4 146.6,286.7 146.8,283.7 147.1,279.1 147.3,274.0 147.5,273.0 147.8,280.9 148.0,276.2 148.3,274.4 148.5,276.0 148.8,275.8 149.0,282.9 149.2,275.8 149.5,283.9 149.7,290.3 150.0,291.0 150.2,287.7 150.5,294.0 150.7,291.9 150.9,297.6 151.2,299.9 151.4,298.9 151.7,299.6 151.9,306.6 152.2,307.6 152.4,303.9 152.6,308.0 152.9,306.9 153.1,314.4 153.4,309.4 153.6,310.2 153.9,317.9 154.1,311.1 154.3,306.0 154.6,313.5 154.8,320.0 155.1,317.0 155.3,314.8 155.6,313.4 155.8,316.4 156.0,322.0 156.3,318.9 156.5,315.8 156.8,312.1 157.0,312.5 157.3,322.2 157.5,317.5 157.7,320.0 158.0,316.9 158.2,320.7 158.5,313.7 158.7,316.6 159.0,311.7 159.2,322.3 159.5,316.9 159.7,323.1 159.9,319.9 160.2,316.5 160.4,320.0 160.7,320.0 160.9,319.3 161.2,317.5 161.4,319.4 161.6,318.2 161.9,320.2 162.1,317.9 162.4,316.7 162.6,323.8 162.9,310.7 163.1,313.2 163.3,316.7 163.6,318.9 163.8,318.2 164.1,321.4 164.3,312.7 164.6,315.8 164.8,317.4 165.0,311.5 165.3,313.2 165.5,313.5 165.8,310.6 166.0,316.0 166.3,321.0 166.5,313.8 166.7,312.5 167.0,312.9 167.2,312.9 167.5,313.0 167.7,316.1 168.0,314.6 168.2,315.8 168.4,315.0 168.7,315.9 168.9,319.8 169.2,318.3 169.4,319.4 169.7,313.8 169.9,319.2 170.1,316.1 170.4,318.5 170.6,319.0 170.9,316.0 171.1,319.0 171.4,320.8 171.6,322.7 171.8,324.6 172.1,321.8 172.3,320.3 172.6,323.9 172.8,324.7 173.1,326.2 173.3,325.0 173.5,330.2 173.8,329.0 174.0,326.9 174.3,326.2 174.5,330.0 174.8,326.5 175.0,328.6 175.3,332.4 175.5,334.5 175.7,334.8 176.0,334.9 176.2,333.8 176.5,334.0 176.7,336.4 177.0,330.1 177.2,338.0 177.4,340.7 177.7,332.3 177.9,335.6 178.2,336.3 178.4,336.3 178.7,343.3 178.9,332.9 179.1,336.6 179.4,336.9 179.6,341.4 179.9,338.3 180.1,334.6 180.4,339.4 180.6,333.5 180.8,338.7 181.1,343.5 181.3,338.5 181.6,340.1 181.8,338.0 182.1,338.5 182.3,336.7 182.5,341.9 182.8,337.5 183.0,338.1 183.3,340.1 183.5,339.9 183.8,341.6 184.0,343.0 184.2,340.3 184.5,338.3 184.7,341.0 185.0,337.7 185.2,342.2 185.5,341.2 185.7,344.1 185.9,341.2 186.2,345.5 186.4,345.2 186.7,341.8 186.9,342.8 187.2,340.9 187.4,343.7 187.6,344.7 187.9,342.5 188.1,342.7 188.4,338.6 188.6,337.1 188.9,339.4 189.1,343.0 189.4,344.5 189.6,343.9 189.8,344.5 190.1,342.7 190.3,339.9 190.6,339.6 190.8,338.4 191.1,334.6 191.3,339.5 191.5,344.8 191.8,340.1 192.0,345.7 192.3,341.9 192.5,346.7 192.8,342.8 193.0,339.9 193.2,341.8 193.5,342.1 193.7,341.3 194.0,340.9 194.2,337.5 194.5,338.2 194.7,345.7 194.9,340.0 195.2,339.3 195.4,340.7 195.7,347.8 195.9,341.9 196.2,338.8 196.4,341.3 196.6,344.0 196.9,339.8 197.1,338.9 197.4,337.1 197.6,339.1 197.9,339.2 198.1,339.3 198.3,341.5 198.6,342.3 198.8,343.5 199.1,345.5 199.3,338.8 199.6,341.4 199.8,341.3 200.0,343.3 200.3,342.2 200.5,340.7 200.8,345.0 201.0,341.2 201.3,340.0 201.5,340.5 201.7,342.5 202.0,336.0 202.2,344.3 202.5,343.2 202.7,343.9 203.0,339.7 203.2,341.2 203.5,342.6 203.7,345.3 203.9,335.1 204.2,339.6 204.4,334.4 204.7,341.3 204.9,337.9 205.2,336.9 205.4,339.5 205.6,341.9 205.9,339.2 206.1,340.8 206.4,343.7 206.6,346.3 206.9,336.1 207.1,341.9 207.3,333.1 207.6,340.5 207.8,340.4 208.1,343.6 208.3,345.3 208.6,336.7 208.8,338.9 209.0,341.8 209.3,342.2 209.5,337.2 209.8,338.1 210.0,339.6 210.3,340.7 210.5,333.9 210.7,338.9 211.0,332.0 211.2,334.1 211.5,338.6 211.7,332.4 212.0,334.2 212.2,337.9 212.4,336.0 212.7,333.4 212.9,332.2 213.2,340.0 213.4,331.2 213.7,335.3 213.9,331.2 214.1,339.5 214.4,334.5 214.6,330.8 214.9,329.6 215.1,328.2 215.4,326.3 215.6,332.5 215.8,332.8 216.1,333.4 216.3,328.3 216.6,330.6 216.8,331.1 217.1,326.8 217.3,321.8 217.6,329.7 217.8,327.9 218.0,320.4 218.3,324.5 218.5,327.3 218.8,320.6 219.0,325.5 219.3,322.8 219.5,324.1 219.7,323.4 220.0,322.2 220.2,321.6 220.5,321.5 220.7,321.7 221.0,318.5 221.2,323.7 221.4,318.6 221.7,323.4 221.9,317.5 222.2,317.3 222.4,323.4 222.7,316.3 222.9,318.7 223.1,313.2 223.4,318.8 223.6,313.6 223.9,317.1 224.1,316.3 224.4,310.6 224.6,311.0 224.8,318.9 225.1,315.6 225.3,313.4 225.6,318.3 225.8,311.5 226.1,317.5 226.3,312.1 226.5,315.9 226.8,318.7 227.0,322.4 227.3,322.1 227.5,317.3 227.8,316.4 228.0,317.1 228.2,315.1 228.5,324.9 228.7,323.4 229.0,316.3 229.2,323.0 229.5,322.5 229.7,320.3 229.9,326.3 230.2,324.4 230.4,322.4 230.7,325.6 230.9,325.9 231.2,322.5 231.4,328.8 231.7,327.6 231.9,326.6 232.1,326.9 232.4,331.3 232.6,331.6 232.9,330.2 233.1,327.7 233.4,328.5 233.6,333.7 233.8,335.2 234.1,333.3 234.3,338.7 234.6,328.7 234.8,333.8 235.1,338.5 235.3,332.9 235.5,334.1 235.8,333.6 236.0,338.2 236.3,341.7 236.5,337.1 236.8,339.6 237.0,340.2 237.2,332.6 237.5,333.5 237.7,341.6 238.0,336.3 238.2,335.0 238.5,341.2 238.7,339.2 238.9,338.9 239.2,340.7 239.4,342.1 239.7,336.9 239.9,338.4 240.2,342.5 240.4,340.7 240.6,339.9 240.9,337.6 241.1,333.7 241.4,342.3 241.6,339.0 241.9,342.5 242.1,341.4 242.3,342.0 242.6,338.5 242.8,339.1 243.1,336.0 243.3,335.8 243.6,338.4 243.8,340.6 244.0,340.5 244.3,347.9 244.5,343.1 244.8,340.3 245.0,338.3 245.3,337.0 245.5,336.7 245.8,341.9 246.0,338.4 246.2,342.8 246.5,340.0 246.7,343.6 247.0,341.9 247.2,342.8 247.5,336.8 247.7,341.9 247.9,339.4 248.2,344.3 248.4,338.1 248.7,339.6 248.9,340.8 249.2,338.4 249.4,344.8 249.6,334.9 249.9,346.5 250.1,341.4 250.4,337.0 250.6,341.3 250.9,342.7 251.1,342.2 251.3,341.0 251.6,338.8 251.8,343.3 252.1,344.5 252.3,340.7 252.6,334.6 252.8,335.1 253.0,339.8 253.3,337.3 253.5,342.4 253.8,345.0 254.0,339.8 254.3,344.4 254.5,334.0 254.7,339.6 255.0,337.9 255.2,339.6 255.5,340.4 255.7,340.6 256.0,334.0 256.2,335.6 256.4,337.6 256.7,336.8 256.9,334.5 257.2,338.4 257.4,337.3 257.7,339.0 257.9,337.4 258.1,342.5 258.4,342.1 258.6,340.6 258.9,333.2 259.1,335.6 259.4,335.9 259.6,338.9 259.9,336.3 260.1,336.5 260.3,335.3 260.6,332.0 260.8,331.8 261.1,333.6 261.3,331.8 261.6,332.0 261.8,333.5 262.0,330.0 262.3,330.2 262.5,330.2 262.8,333.1 263.0,331.1 263.3,330.3 263.5,328.9 263.7,328.1 264.0,328.9 264.2,324.0 264.5,328.3 264.7,332.3 265.0,329.9 265.2,324.8 265.4,326.5 265.7,326.2 265.9,324.3 266.2,325.1 266.4,327.1 266.7,325.0 266.9,326.2 267.1,326.6 267.4,321.8 267.6,325.0 267.9,324.6 268.1,324.6 268.4,324.3 268.6,324.1 268.8,326.9 269.1,327.2 269.3,318.5 269.6,323.3 269.8,326.4 270.1,328.1 270.3,325.8 270.5,327.2 270.8,325.5 271.0,328.7 271.3,325.5 271.5,328.3 271.8,326.5 272.0,334.2 272.2,324.5 272.5,329.6 272.7,328.5 273.0,330.3 273.2,330.8 273.5,328.7 273.7,327.0 274.0,334.3 274.2,327.3 274.4,334.3 274.7,331.2 274.9,338.9 275.2,333.3 275.4,333.3 275.7,331.3 275.9,335.7 276.1,336.4 276.4,335.9 276.6,335.2 276.9,338.8 277.1,334.8 277.4,337.3 277.6,333.5 277.8,338.4 278.1,332.6 278.3,340.7 278.6,338.4 278.8,336.8 279.1,341.7 279.3,335.8 279.5,339.8 279.8,336.2 280.0,336.8 280.3,339.0 280.5,341.2 280.8,341.2 281.0,337.6" fill="none" stroke="#000" stroke-width="1.6" stroke-linejoin="round" />
<rect x="37.9" y="259.6" width="243.1" height="196.0" fill="none" stroke="#1a1a1a" stroke-width="1.5"/>
<line x1="37.9" y1="455.6" x2="37.9" y2="459.6" stroke="#1a1a1a" stroke-width="1.3" />
<line x1="58.2" y1="455.6" x2="58.2" y2="457.8" stroke="#1a1a1a" stroke-width="1.3" />
<line x1="78.4" y1="455.6" x2="78.4" y2="459.6" stroke="#1a1a1a" stroke-width="1.3" />
<line x1="98.7" y1="455.6" x2="98.7" y2="457.8" stroke="#1a1a1a" stroke-width="1.3" />
<line x1="118.9" y1="455.6" x2="118.9" y2="459.6" stroke="#1a1a1a" stroke-width="1.3" />
<line x1="139.2" y1="455.6" x2="139.2" y2="457.8" stroke="#1a1a1a" stroke-width="1.3" />
<line x1="159.4" y1="455.6" x2="159.4" y2="459.6" stroke="#1a1a1a" stroke-width="1.3" />
<line x1="179.7" y1="455.6" x2="179.7" y2="457.8" stroke="#1a1a1a" stroke-width="1.3" />
<line x1="200.0" y1="455.6" x2="200.0" y2="459.6" stroke="#1a1a1a" stroke-width="1.3" />
<line x1="220.2" y1="455.6" x2="220.2" y2="457.8" stroke="#1a1a1a" stroke-width="1.3" />
<line x1="240.5" y1="455.6" x2="240.5" y2="459.6" stroke="#1a1a1a" stroke-width="1.3" />
<line x1="260.7" y1="455.6" x2="260.7" y2="457.8" stroke="#1a1a1a" stroke-width="1.3" />
<line x1="281.0" y1="455.6" x2="281.0" y2="459.6" stroke="#1a1a1a" stroke-width="1.3" />
<text x="37.9" y="471.0" font-size="11" fill="#1a1a1a" text-anchor="middle">10</text>
<text x="78.4" y="471.0" font-size="11" fill="#1a1a1a" text-anchor="middle">20</text>
<text x="118.9" y="471.0" font-size="11" fill="#1a1a1a" text-anchor="middle">30</text>
<text x="159.4" y="471.0" font-size="11" fill="#1a1a1a" text-anchor="middle">40</text>
<text x="200.0" y="471.0" font-size="11" fill="#1a1a1a" text-anchor="middle">50</text>
<text x="240.5" y="471.0" font-size="11" fill="#1a1a1a" text-anchor="middle">60</text>
<text x="281.0" y="471.0" font-size="11" fill="#1a1a1a" text-anchor="middle">70</text>
<text x="146.3" y="489.4" font-size="11" fill="#1a1a1a" textLength="25.5" lengthAdjust="spacingAndGlyphs">2θ (°)</text>
<text x="22.3" y="353.6" font-size="11" fill="#1a1a1a" textLength="69.5" lengthAdjust="spacingAndGlyphs" text-anchor="middle" transform="rotate(-90 22.3 353.6)">Intensity (a.u.)</text>
<text x="198.6" y="301.3" font-size="10.9" fill="#222" textLength="79.4" lengthAdjust="spacingAndGlyphs">Without additive</text>
<text x="202.8" y="389.2" font-size="10.9" fill="#ee3b3b" textLength="72.8" lengthAdjust="spacingAndGlyphs">With 0.1 M PPi</text>
<text x="40.6" y="446.7" font-size="10.3" fill="#f5a048" textLength="103.5" lengthAdjust="spacingAndGlyphs">MnO<tspan font-size="7.5" dy="2">2</tspan><tspan dy="-2"> (JCPDS 30-0820)</tspan></text>
<text x="149.0" y="415.6" font-size="10.3" fill="#f5a048" textLength="22.8" lengthAdjust="spacingAndGlyphs" text-anchor="middle">(100)</text>
<text x="172.8" y="433.6" font-size="10.3" fill="#f5a048" textLength="22.8" lengthAdjust="spacingAndGlyphs" text-anchor="middle">(101)</text>
<text x="210.5" y="422.6" font-size="10.3" fill="#f5a048" textLength="22.8" lengthAdjust="spacingAndGlyphs" text-anchor="middle">(102)</text>
<text x="267.0" y="431.2" font-size="10.3" fill="#f5a048" textLength="22.8" lengthAdjust="spacingAndGlyphs" text-anchor="middle">(110)</text>
<text x="303.3" y="278.8" font-size="31" fill="#000">f</text>
<polyline points="332.8,357.1 333.7,357.1 334.5,357.1 335.4,357.1 336.3,357.1 337.1,357.1 338.0,357.1 338.8,357.1 339.7,357.1 340.6,357.1 341.4,357.1 342.3,357.1 343.2,357.1 344.0,357.1 344.9,357.1 345.7,357.1 346.6,357.1 347.5,357.1 348.3,357.1 349.2,357.1 350.1,357.1 350.9,357.1 351.8,357.1 352.7,357.1 353.5,357.1 354.4,357.1 355.2,357.1 356.1,357.1 357.0,357.1 357.8,357.1 358.7,357.1 359.6,357.1 360.4,357.1 361.3,357.1 362.1,357.1 363.0,357.1 363.9,357.1 364.7,357.1 365.6,357.1 366.5,357.1 367.3,357.2 368.2,357.2 369.1,357.2 369.9,357.2 370.8,357.2 371.6,357.2 372.5,357.2 373.4,357.2 374.2,357.2 375.1,357.2 376.0,357.2 376.8,357.2 377.7,357.2 378.6,357.2 379.4,357.2 380.3,357.2 381.1,357.2 382.0,357.2 382.9,357.2 383.7,357.2 384.6,357.2 385.5,357.2 386.3,357.2 387.2,357.2 388.0,357.2 388.9,357.2 389.8,357.2 390.6,357.2 391.5,357.2 392.4,357.2 393.2,357.2 394.1,357.2 395.0,357.2 395.8,357.2 396.7,357.2 397.5,357.2 398.4,357.2 399.3,357.2 400.1,357.2 401.0,357.2 401.9,357.3 402.7,357.3 403.6,357.3 404.4,357.3 405.3,357.3 406.2,357.3 407.0,357.3 407.9,357.3 408.8,357.3 409.6,357.3 410.5,357.3 411.4,357.3 412.2,357.3 413.1,357.3 413.9,357.3 414.8,357.3 415.7,357.3 416.5,357.3 417.4,357.3 418.3,357.3 419.1,357.3 420.0,357.3 420.8,357.3 421.7,357.3 422.6,357.3 423.4,357.3 424.3,357.3 425.2,357.3 426.0,357.3 426.9,357.3 427.8,357.3 428.6,357.3 429.5,357.3 430.3,357.3 431.2,357.3 432.1,357.3 432.9,357.3 433.8,357.3 434.7,357.3 435.5,357.3 436.4,357.4 437.2,357.4 438.1,357.4 439.0,357.4 439.8,357.4 440.7,357.4 441.6,357.4 442.4,357.4 443.3,357.4 444.2,357.4 445.0,357.4 445.9,357.4 446.7,357.4 447.6,357.4 448.5,357.4 449.3,357.4 450.2,357.4 451.1,357.4 451.9,357.4 452.8,357.4 453.6,357.4 454.5,357.4 455.4,357.4 456.2,357.4 457.1,357.4 458.0,357.4 458.8,357.4 459.7,357.4 460.6,357.4 461.4,357.4 462.3,357.5 463.1,357.5 464.0,357.5 464.9,357.5 465.7,357.5 466.6,357.5 467.5,357.5 468.3,357.5 469.2,357.5 470.1,357.5 470.9,357.5 471.8,357.5 472.6,357.5 473.5,357.5 474.4,357.6 475.2,357.6 476.1,357.6 477.0,357.6 477.8,357.6 478.7,357.6 479.5,357.6 480.4,357.7 481.3,357.7 482.1,357.7 483.0,357.7 483.9,357.7 484.7,357.8 485.6,357.8 486.5,357.8 487.3,357.9 488.2,357.9 489.0,357.9 489.9,358.0 490.8,358.0 491.6,358.1 492.5,358.1 493.4,358.2 494.2,358.2 495.1,358.3 495.9,358.4 496.8,358.4 497.7,358.5 498.5,358.6 499.4,358.7 500.3,358.8 501.1,358.9 502.0,359.0 502.9,359.1 503.7,359.2 504.6,359.3 505.4,359.5 506.3,359.6 507.2,359.7 508.0,359.9 508.9,360.0 509.8,360.2 510.6,360.4 511.5,360.5 512.3,360.7 513.2,360.9 514.1,361.0 514.9,361.2 515.8,361.4 516.7,361.6 517.5,361.7 518.4,361.9 519.3,362.1 520.1,362.2 521.0,362.4 521.8,362.6 522.7,362.7 523.6,362.9 524.4,363.0 525.3,363.2 526.2,363.3 527.0,363.4 527.9,363.6 528.7,363.7 529.6,363.8 530.5,363.9 531.3,364.0 532.2,364.1 533.1,364.2 533.9,364.3 534.8,364.3 535.7,364.4 536.5,364.5 537.4,364.5 538.2,364.6 539.1,364.6 540.0,364.7 540.8,364.7 541.7,364.8 542.6,364.8 543.4,364.9 544.3,364.9 545.2,364.9 546.0,365.0 546.9,365.0 547.7,365.0 548.6,365.0 549.5,365.1 550.3,365.1 551.2,365.1 552.1,365.1 552.9,365.1 553.8,365.2 554.6,365.2 555.5,365.2 556.4,365.2 557.2,365.2 558.1,365.2 559.0,365.2 559.8,365.2 560.7,365.2 561.6,365.3 562.4,365.3 563.3,365.3 564.1,365.3 565.0,365.3 565.9,365.3 566.7,365.3 567.6,365.3 568.5,365.3 569.3,365.3 570.2,365.3 571.0,365.3 571.9,365.3 572.8,365.3 573.6,365.3 574.5,365.3" fill="none" stroke="#111" stroke-width="1.4" stroke-linejoin="round" />
<polyline points="332.8,438.7 333.7,438.7 334.5,438.7 335.4,438.7 336.3,438.7 337.1,438.7 338.0,438.7 338.8,438.7 339.7,438.7 340.6,438.8 341.4,438.8 342.3,438.8 343.2,438.8 344.0,438.8 344.9,438.8 345.7,438.8 346.6,438.8 347.5,438.8 348.3,438.8 349.2,438.8 350.1,438.8 350.9,438.8 351.8,438.8 352.7,438.8 353.5,438.8 354.4,438.9 355.2,438.9 356.1,438.9 357.0,438.9 357.8,438.9 358.7,438.9 359.6,438.9 360.4,438.9 361.3,438.9 362.1,438.9 363.0,438.9 363.9,438.9 364.7,438.9 365.6,438.9 366.5,438.9 367.3,438.9 368.2,438.9 369.1,439.0 369.9,439.0 370.8,439.0 371.6,439.0 372.5,439.0 373.4,439.0 374.2,439.0 375.1,439.0 376.0,439.0 376.8,439.0 377.7,439.0 378.6,439.0 379.4,439.0 380.3,439.0 381.1,439.0 382.0,439.0 382.9,439.0 383.7,439.1 384.6,439.1 385.5,439.1 386.3,439.1 387.2,439.1 388.0,439.1 388.9,439.1 389.8,439.1 390.6,439.1 391.5,439.1 392.4,439.1 393.2,439.1 394.1,439.1 395.0,439.1 395.8,439.1 396.7,439.1 397.5,439.2 398.4,439.2 399.3,439.2 400.1,439.2 401.0,439.2 401.9,439.2 402.7,439.2 403.6,439.2 404.4,439.2 405.3,439.2 406.2,439.2 407.0,439.2 407.9,439.2 408.8,439.2 409.6,439.2 410.5,439.2 411.4,439.3 412.2,439.3 413.1,439.3 413.9,439.3 414.8,439.3 415.7,439.3 416.5,439.3 417.4,439.3 418.3,439.3 419.1,439.3 420.0,439.3 420.8,439.3 421.7,439.3 422.6,439.3 423.4,439.3 424.3,439.3 425.2,439.4 426.0,439.4 426.9,439.4 427.8,439.4 428.6,439.4 429.5,439.4 430.3,439.4 431.2,439.4 432.1,439.4 432.9,439.4 433.8,439.4 434.7,439.4 435.5,439.4 436.4,439.4 437.2,439.5 438.1,439.5 439.0,439.5 439.8,439.5 440.7,439.5 441.6,439.5 442.4,439.5 443.3,439.5 444.2,439.5 445.0,439.5 445.9,439.5 446.7,439.5 447.6,439.6 448.5,439.6 449.3,439.6 450.2,439.6 451.1,439.6 451.9,439.6 452.8,439.6 453.6,439.6 454.5,439.6 455.4,439.7 456.2,439.7 457.1,439.7 458.0,439.7 458.8,439.7 459.7,439.7 460.6,439.7 461.4,439.7 462.3,439.8 463.1,439.8 464.0,439.8 464.9,439.8 465.7,439.8 466.6,439.8 467.5,439.9 468.3,439.9 469.2,439.9 470.1,439.9 470.9,439.9 471.8,440.0 472.6,440.0 473.5,440.0 474.4,440.0 475.2,440.1 476.1,440.1 477.0,440.1 477.8,440.2 478.7,440.2 479.5,440.2 480.4,440.3 481.3,440.3 482.1,440.3 483.0,440.4 483.9,440.4 484.7,440.4 485.6,440.5 486.5,440.5 487.3,440.6 488.2,440.6 489.0,440.7 489.9,440.7 490.8,440.8 491.6,440.8 492.5,440.9 493.4,440.9 494.2,441.0 495.1,441.0 495.9,441.1 496.8,441.2 497.7,441.2 498.5,441.3 499.4,441.3 500.3,441.4 501.1,441.5 502.0,441.5 502.9,441.6 503.7,441.7 504.6,441.7 505.4,441.8 506.3,441.9 507.2,441.9 508.0,442.0 508.9,442.1 509.8,442.1 510.6,442.2 511.5,442.3 512.3,442.3 513.2,442.4 514.1,442.4 514.9,442.5 515.8,442.6 516.7,442.6 517.5,442.7 518.4,442.7 519.3,442.8 520.1,442.8 521.0,442.9 521.8,442.9 522.7,443.0 523.6,443.0 524.4,443.1 525.3,443.1 526.2,443.2 527.0,443.2 527.9,443.2 528.7,443.3 529.6,443.3 530.5,443.3 531.3,443.4 532.2,443.4 533.1,443.4 533.9,443.5 534.8,443.5 535.7,443.5 536.5,443.6 537.4,443.6 538.2,443.6 539.1,443.6 540.0,443.7 540.8,443.7 541.7,443.7 542.6,443.7 543.4,443.7 544.3,443.8 545.2,443.8 546.0,443.8 546.9,443.8 547.7,443.8 548.6,443.8 549.5,443.9 550.3,443.9 551.2,443.9 552.1,443.9 552.9,443.9 553.8,443.9 554.6,443.9 555.5,443.9 556.4,444.0 557.2,444.0 558.1,444.0 559.0,444.0 559.8,444.0 560.7,444.0 561.6,444.0 562.4,444.0 563.3,444.0 564.1,444.1 565.0,444.1 565.9,444.1 566.7,444.1 567.6,444.1 568.5,444.1 569.3,444.1 570.2,444.1 571.0,444.1 571.9,444.1 572.8,444.1 573.6,444.1 574.5,444.2" fill="none" stroke="#111" stroke-width="1.4" stroke-linejoin="round" />
<polyline points="491.6,357.7 492.5,357.6 493.4,357.5 494.2,357.4 495.1,357.1 495.9,356.8 496.8,356.4 497.7,355.9 498.5,355.2 499.4,354.4 500.3,353.3 501.1,352.1 502.0,350.6 502.9,348.8 503.7,346.8 504.6,344.5 505.4,341.8 506.3,338.9 507.2,335.6 508.0,332.1 508.9,328.4 509.8,324.5 510.6,320.4 511.5,316.4 512.3,312.3 513.2,308.4 514.1,304.7 514.9,301.4 515.8,298.4 516.7,295.9 517.5,294.1 518.4,292.8 519.3,292.2 520.1,292.3 521.0,293.1 521.8,294.6 522.7,296.7 523.6,299.3 524.4,302.5 525.3,306.1 526.2,310.1 527.0,314.2 527.9,318.6 528.7,322.9 529.6,327.2 530.5,331.4 531.3,335.5 532.2,339.3 533.1,342.8 533.9,346.0 534.8,348.9 535.7,351.5 536.5,353.8 537.4,355.8 538.2,357.5 539.1,359.0 540.0,360.2 540.8,361.2 541.7,362.0 542.6,362.7 543.4,363.2 544.3,363.7 545.2,364.0 546.0,364.3 546.9,364.5 547.7,364.7 548.6,364.8" fill="none" stroke="#ff6ccf" stroke-width="2.2" stroke-linejoin="round" />
<polyline points="491.6,357.7 492.5,357.6 493.4,357.5 494.2,357.4 495.1,357.1 495.9,356.8 496.8,356.4 497.7,355.9 498.5,355.2 499.4,354.4 500.3,353.3 501.1,352.1 502.0,350.6 502.9,348.8 503.7,346.8 504.6,344.5 505.4,341.8 506.3,338.9 507.2,335.6 508.0,332.1 508.9,328.4 509.8,324.5 510.6,320.4 511.5,316.4 512.3,312.3 513.2,308.4 514.1,304.7 514.9,301.4 515.8,298.4 516.7,295.9 517.5,294.1 518.4,292.8 519.3,292.2 520.1,292.3 521.0,293.1 521.8,294.6 522.7,296.7 523.6,299.3 524.4,302.5 525.3,306.1 526.2,310.1 527.0,314.2 527.9,318.6 528.7,322.9 529.6,327.2 530.5,331.4 531.3,335.5 532.2,339.3 533.1,342.8 533.9,346.0 534.8,348.9 535.7,351.5 536.5,353.8 537.4,355.8 538.2,357.5 539.1,359.0 540.0,360.2 540.8,361.2 541.7,362.0 542.6,362.7 543.4,363.2 544.3,363.7 545.2,364.0 546.0,364.3 546.9,364.5 547.7,364.7 548.6,364.8" fill="none" stroke="#ffd0f0" stroke-width="0.6" stroke-linejoin="round" />
<polyline points="426.0,357.0 426.9,357.0 427.8,357.0 428.6,356.9 429.5,356.9 430.3,356.8 431.2,356.8 432.1,356.7 432.9,356.6 433.8,356.5 434.7,356.4 435.5,356.3 436.4,356.2 437.2,356.1 438.1,356.0 439.0,355.8 439.8,355.6 440.7,355.5 441.6,355.3 442.4,355.1 443.3,354.8 444.2,354.6 445.0,354.3 445.9,354.1 446.7,353.8 447.6,353.4 448.5,353.1 449.3,352.7 450.2,352.3 451.1,351.9 451.9,351.4 452.8,350.9 453.6,350.4 454.5,349.9 455.4,349.3 456.2,348.7 457.1,348.1 458.0,347.5 458.8,346.8 459.7,346.1 460.6,345.3 461.4,344.5 462.3,343.7 463.1,342.9 464.0,342.1 464.9,341.2 465.7,340.3 466.6,339.3 467.5,338.4 468.3,337.4 469.2,336.4 470.1,335.4 470.9,334.4 471.8,333.4 472.6,332.4 473.5,331.4 474.4,330.3 475.2,329.3 476.1,328.3 477.0,327.3 477.8,326.3 478.7,325.3 479.5,324.4 480.4,323.4 481.3,322.5 482.1,321.7 483.0,320.8 483.9,320.1 484.7,319.3 485.6,318.6 486.5,318.0 487.3,317.4 488.2,316.8 489.0,316.3 489.9,315.9 490.8,315.6 491.6,315.3 492.5,315.0 493.4,314.9 494.2,314.8 495.1,314.8 495.9,314.9 496.8,315.0 497.7,315.2 498.5,315.5 499.4,315.8 500.3,316.2 501.1,316.7 502.0,317.3 502.9,317.9 503.7,318.6 504.6,319.3 505.4,320.1 506.3,321.0 507.2,321.9 508.0,322.8 508.9,323.8 509.8,324.9 510.6,326.0 511.5,327.1 512.3,328.2 513.2,329.3 514.1,330.5 514.9,331.7 515.8,332.9 516.7,334.1 517.5,335.3 518.4,336.6 519.3,337.8 520.1,339.0 521.0,340.1 521.8,341.3 522.7,342.5 523.6,343.6 524.4,344.7 525.3,345.8 526.2,346.8 527.0,347.8 527.9,348.8 528.7,349.8 529.6,350.7 530.5,351.6 531.3,352.5 532.2,353.3 533.1,354.1 533.9,354.8 534.8,355.5 535.7,356.2 536.5,356.8 537.4,357.5 538.2,358.0 539.1,358.6 540.0,359.1 540.8,359.6 541.7,360.0 542.6,360.4 543.4,360.8 544.3,361.2 545.2,361.5 546.0,361.9 546.9,362.2 547.7,362.4 548.6,362.7 549.5,362.9 550.3,363.2 551.2,363.4 552.1,363.5 552.9,363.7 553.8,363.9 554.6,364.0 555.5,364.1 556.4,364.3 557.2,364.4 558.1,364.5 559.0,364.6 559.8,364.6 560.7,364.7 561.6,364.8 562.4,364.8 563.3,364.9 564.1,364.9 565.0,365.0 565.9,365.0" fill="none" stroke="#2a2ee8" stroke-width="1.8" stroke-linejoin="round" />
<polyline points="332.8,355.3 333.7,355.3 334.5,355.3 335.4,355.3 336.3,355.3 337.1,355.3 338.0,355.3 338.8,355.3 339.7,355.3 340.6,355.3 341.4,355.3 342.3,355.3 343.2,355.3 344.0,355.3 344.9,355.3 345.7,355.3 346.6,355.3 347.5,355.3 348.3,355.3 349.2,355.3 350.1,355.3 350.9,355.3 351.8,355.3 352.7,355.3 353.5,355.3 354.4,355.3 355.2,355.3 356.1,355.3 357.0,355.3 357.8,355.3 358.7,355.3 359.6,355.3 360.4,355.3 361.3,355.3 362.1,355.3 363.0,355.3 363.9,355.3 364.7,355.3 365.6,355.4 366.5,355.4 367.3,355.4 368.2,355.4 369.1,355.4 369.9,355.4 370.8,355.4 371.6,355.4 372.5,355.4 373.4,355.4 374.2,355.4 375.1,355.4 376.0,355.4 376.8,355.4 377.7,355.4 378.6,355.4 379.4,355.4 380.3,355.4 381.1,355.4 382.0,355.4 382.9,355.4 383.7,355.4 384.6,355.4 385.5,355.4 386.3,355.4 387.2,355.4 388.0,355.4 388.9,355.4 389.8,355.4 390.6,355.5 391.5,355.5 392.4,355.5 393.2,355.5 394.1,355.5 395.0,355.5 395.8,355.5 396.7,355.5 397.5,355.5 398.4,355.5 399.3,355.5 400.1,355.5 401.0,355.5 401.9,355.5 402.7,355.5 403.6,355.5 404.4,355.5 405.3,355.5 406.2,355.6 407.0,355.6 407.9,355.6 408.8,355.6 409.6,355.6 410.5,355.6 411.4,355.6 412.2,355.6 413.1,355.6 413.9,355.6 414.8,355.6 415.7,355.6 416.5,355.6 417.4,355.6 418.3,355.6 419.1,355.6 420.0,355.6 420.8,355.6 421.7,355.6 422.6,355.6 423.4,355.6 424.3,355.6 425.2,355.6 426.0,355.6 426.9,355.6 427.8,355.6 428.6,355.5 429.5,355.5 430.3,355.5 431.2,355.4 432.1,355.4 432.9,355.3 433.8,355.3 434.7,355.2 435.5,355.1 436.4,355.0 437.2,354.9 438.1,354.8 439.0,354.7 439.8,354.6 440.7,354.4 441.6,354.3 442.4,354.1 443.3,353.9 444.2,353.7 445.0,353.4 445.9,353.2 446.7,352.9 447.6,352.6 448.5,352.3 449.3,351.9 450.2,351.6 451.1,351.2 451.9,350.7 452.8,350.3 453.6,349.8 454.5,349.3 455.4,348.8 456.2,348.2 457.1,347.6 458.0,347.0 458.8,346.3 459.7,345.6 460.6,344.9 461.4,344.1 462.3,343.3 463.1,342.5 464.0,341.7 464.9,340.8 465.7,339.9 466.6,339.0 467.5,338.1 468.3,337.1 469.2,336.2 470.1,335.2 470.9,334.2 471.8,333.1 472.6,332.1 473.5,331.1 474.4,330.0 475.2,328.9 476.1,327.8 477.0,326.7 477.8,325.6 478.7,324.5 479.5,323.3 480.4,322.1 481.3,321.0 482.1,319.8 483.0,318.6 483.9,317.5 484.7,316.4 485.6,315.4 486.5,314.4 487.3,313.6 488.2,312.8 489.0,312.2 489.9,311.7 490.8,311.3 491.6,311.0 492.5,310.9 493.4,310.8 494.2,310.8 495.1,310.8 495.9,310.8 496.8,310.8 497.7,310.8 498.5,310.6 499.4,310.3 500.3,309.8 501.1,309.2 502.0,308.3 502.9,307.2 503.7,305.9 504.6,304.2 505.4,302.3 506.3,300.1 507.2,297.7 508.0,295.0 508.9,292.1 509.8,289.1 510.6,286.0 511.5,282.9 512.3,279.8 513.2,276.9 514.1,274.2 514.9,271.9 515.8,269.9 516.7,268.5 517.5,267.7 518.4,267.4 519.3,267.9 520.1,269.0 521.0,270.8 521.8,273.3 522.7,276.4 523.6,280.0 524.4,284.2 525.3,288.7 526.2,293.6 527.0,298.7 527.9,303.8 528.7,309.0 529.6,314.2 530.5,319.2 531.3,323.9 532.2,328.5 533.1,332.7 533.9,336.6 534.8,340.1 535.7,343.3 536.5,346.2 537.4,348.7 538.2,350.9 539.1,352.9 540.0,354.6 540.8,356.0 541.7,357.2 542.6,358.3 543.4,359.2 544.3,360.0 545.2,360.6 546.0,361.2 546.9,361.7 547.7,362.1 548.6,362.4 549.5,362.7 550.3,363.0 551.2,363.3 552.1,363.5 552.9,363.7 553.8,363.8 554.6,364.0 555.5,364.1 556.4,364.2 557.2,364.4 558.1,364.5 559.0,364.6 559.8,364.6 560.7,364.7 561.6,364.8 562.4,364.8 563.3,364.9 564.1,364.9 565.0,365.0 565.9,365.0 566.7,365.1 567.6,365.1 568.5,365.1 569.3,365.2 570.2,365.2 571.0,365.2 571.9,365.2 572.8,365.2 573.6,365.3 574.5,365.3" fill="none" stroke="#f23030" stroke-width="1.8" stroke-linejoin="round" />
<polyline points="449.3,439.3 450.2,439.2 451.1,439.2 451.9,439.2 452.8,439.1 453.6,439.0 454.5,438.9 455.4,438.9 456.2,438.8 457.1,438.6 458.0,438.5 458.8,438.4 459.7,438.2 460.6,438.0 461.4,437.8 462.3,437.6 463.1,437.3 464.0,437.1 464.9,436.8 465.7,436.4 466.6,436.1 467.5,435.7 468.3,435.3 469.2,434.8 470.1,434.4 470.9,433.8 471.8,433.3 472.6,432.7 473.5,432.1 474.4,431.4 475.2,430.7 476.1,430.0 477.0,429.3 477.8,428.5 478.7,427.7 479.5,426.8 480.4,426.0 481.3,425.1 482.1,424.2 483.0,423.3 483.9,422.4 484.7,421.4 485.6,420.5 486.5,419.6 487.3,418.7 488.2,417.8 489.0,416.9 489.9,416.0 490.8,415.2 491.6,414.4 492.5,413.7 493.4,413.0 494.2,412.3 495.1,411.7 495.9,411.2 496.8,410.8 497.7,410.4 498.5,410.1 499.4,409.8 500.3,409.6 501.1,409.6 502.0,409.5 502.9,409.6 503.7,409.8 504.6,410.0 505.4,410.3 506.3,410.7 507.2,411.2 508.0,411.7 508.9,412.3 509.8,413.0 510.6,413.7 511.5,414.4 512.3,415.3 513.2,416.1 514.1,417.0 514.9,418.0 515.8,418.9 516.7,419.9 517.5,420.9 518.4,422.0 519.3,423.0 520.1,424.0 521.0,425.0 521.8,426.0 522.7,427.0 523.6,428.0 524.4,429.0 525.3,429.9 526.2,430.8 527.0,431.7 527.9,432.5 528.7,433.3 529.6,434.1 530.5,434.9 531.3,435.6 532.2,436.2 533.1,436.9 533.9,437.5 534.8,438.0 535.7,438.6 536.5,439.0 537.4,439.5 538.2,439.9 539.1,440.3 540.0,440.7 540.8,441.0 541.7,441.3 542.6,441.6 543.4,441.9 544.3,442.1 545.2,442.3 546.0,442.5 546.9,442.7 547.7,442.8 548.6,443.0 549.5,443.1 550.3,443.2 551.2,443.3 552.1,443.4 552.9,443.5 553.8,443.5 554.6,443.6 555.5,443.7" fill="none" stroke="#ee22ee" stroke-width="1.8" stroke-linejoin="round" />
<polyline points="420.8,439.0 421.7,439.0 422.6,439.0 423.4,438.9 424.3,438.9 425.2,438.8 426.0,438.8 426.9,438.7 427.8,438.6 428.6,438.5 429.5,438.4 430.3,438.3 431.2,438.2 432.1,438.1 432.9,437.9 433.8,437.8 434.7,437.6 435.5,437.4 436.4,437.2 437.2,437.0 438.1,436.7 439.0,436.5 439.8,436.2 440.7,435.9 441.6,435.5 442.4,435.2 443.3,434.8 444.2,434.4 445.0,434.0 445.9,433.5 446.7,433.0 447.6,432.5 448.5,431.9 449.3,431.4 450.2,430.8 451.1,430.1 451.9,429.5 452.8,428.8 453.6,428.0 454.5,427.3 455.4,426.5 456.2,425.7 457.1,424.9 458.0,424.0 458.8,423.2 459.7,422.3 460.6,421.4 461.4,420.4 462.3,419.5 463.1,418.6 464.0,417.6 464.9,416.7 465.7,415.7 466.6,414.7 467.5,413.8 468.3,412.9 469.2,411.9 470.1,411.0 470.9,410.2 471.8,409.3 472.6,408.5 473.5,407.7 474.4,407.0 475.2,406.2 476.1,405.6 477.0,405.0 477.8,404.4 478.7,403.9 479.5,403.4 480.4,403.0 481.3,402.7 482.1,402.4 483.0,402.2 483.9,402.1 484.7,402.0 485.6,402.0 486.5,402.1 487.3,402.2 488.2,402.4 489.0,402.7 489.9,403.0 490.8,403.4 491.6,403.8 492.5,404.4 493.4,404.9 494.2,405.6 495.1,406.3 495.9,407.0 496.8,407.8 497.7,408.6 498.5,409.5 499.4,410.3 500.3,411.3 501.1,412.2 502.0,413.2 502.9,414.2 503.7,415.2 504.6,416.2 505.4,417.3 506.3,418.3 507.2,419.4 508.0,420.4 508.9,421.4 509.8,422.4 510.6,423.4 511.5,424.4 512.3,425.4 513.2,426.4 514.1,427.3 514.9,428.2 515.8,429.1 516.7,430.0 517.5,430.8 518.4,431.6 519.3,432.4 520.1,433.1 521.0,433.8 521.8,434.5 522.7,435.1 523.6,435.7 524.4,436.3 525.3,436.9 526.2,437.4 527.0,437.9 527.9,438.4 528.7,438.8 529.6,439.2 530.5,439.6 531.3,440.0 532.2,440.3 533.1,440.6 533.9,440.9 534.8,441.2 535.7,441.4 536.5,441.6 537.4,441.9 538.2,442.0 539.1,442.2 540.0,442.4 540.8,442.5 541.7,442.7 542.6,442.8 543.4,442.9 544.3,443.0 545.2,443.1 546.0,443.2 546.9,443.3 547.7,443.4 548.6,443.5 549.5,443.5 550.3,443.6 551.2,443.6" fill="none" stroke="#2a2ee8" stroke-width="1.8" stroke-linejoin="round" />
<polyline points="332.8,437.5 333.7,437.5 334.5,437.5 335.4,437.5 336.3,437.5 337.1,437.5 338.0,437.5 338.8,437.5 339.7,437.5 340.6,437.6 341.4,437.6 342.3,437.6 343.2,437.6 344.0,437.6 344.9,437.6 345.7,437.6 346.6,437.6 347.5,437.6 348.3,437.6 349.2,437.6 350.1,437.6 350.9,437.6 351.8,437.6 352.7,437.6 353.5,437.6 354.4,437.7 355.2,437.7 356.1,437.7 357.0,437.7 357.8,437.7 358.7,437.7 359.6,437.7 360.4,437.7 361.3,437.7 362.1,437.7 363.0,437.7 363.9,437.7 364.7,437.7 365.6,437.7 366.5,437.7 367.3,437.7 368.2,437.8 369.1,437.8 369.9,437.8 370.8,437.8 371.6,437.8 372.5,437.8 373.4,437.8 374.2,437.8 375.1,437.8 376.0,437.8 376.8,437.8 377.7,437.8 378.6,437.8 379.4,437.8 380.3,437.9 381.1,437.9 382.0,437.9 382.9,437.9 383.7,437.9 384.6,437.9 385.5,437.9 386.3,437.9 387.2,437.9 388.0,437.9 388.9,437.9 389.8,437.9 390.6,437.9 391.5,438.0 392.4,438.0 393.2,438.0 394.1,438.0 395.0,438.0 395.8,438.0 396.7,438.0 397.5,438.0 398.4,438.0 399.3,438.0 400.1,438.0 401.0,438.1 401.9,438.1 402.7,438.1 403.6,438.1 404.4,438.1 405.3,438.1 406.2,438.1 407.0,438.1 407.9,438.1 408.8,438.1 409.6,438.1 410.5,438.2 411.4,438.2 412.2,438.2 413.1,438.2 413.9,438.2 414.8,438.2 415.7,438.2 416.5,438.2 417.4,438.2 418.3,438.2 419.1,438.2 420.0,438.1 420.8,438.1 421.7,438.1 422.6,438.1 423.4,438.1 424.3,438.0 425.2,438.0 426.0,437.9 426.9,437.9 427.8,437.8 428.6,437.8 429.5,437.7 430.3,437.6 431.2,437.5 432.1,437.4 432.9,437.2 433.8,437.1 434.7,436.9 435.5,436.8 436.4,436.6 437.2,436.4 438.1,436.1 439.0,435.9 439.8,435.6 440.7,435.3 441.6,435.0 442.4,434.6 443.3,434.3 444.2,433.8 445.0,433.4 445.9,432.9 446.7,432.4 447.6,431.9 448.5,431.3 449.3,430.7 450.2,430.1 451.1,429.4 451.9,428.7 452.8,428.0 453.6,427.2 454.5,426.3 455.4,425.5 456.2,424.6 457.1,423.6 458.0,422.6 458.8,421.6 459.7,420.5 460.6,419.4 461.4,418.2 462.3,417.0 463.1,415.8 464.0,414.5 464.9,413.2 465.7,411.8 466.6,410.4 467.5,409.0 468.3,407.5 469.2,406.0 470.1,404.4 470.9,402.8 471.8,401.2 472.6,399.5 473.5,397.9 474.4,396.1 475.2,394.4 476.1,392.7 477.0,390.9 477.8,389.2 478.7,387.4 479.5,385.7 480.4,384.1 481.3,382.4 482.1,380.9 483.0,379.4 483.9,377.9 484.7,376.6 485.6,375.4 486.5,374.3 487.3,373.4 488.2,372.5 489.0,371.8 489.9,371.3 490.8,370.9 491.6,370.7 492.5,370.6 493.4,370.7 494.2,370.9 495.1,371.2 495.9,371.7 496.8,372.3 497.7,373.1 498.5,374.0 499.4,374.9 500.3,376.0 501.1,377.2 502.0,378.4 502.9,379.8 503.7,381.2 504.6,382.7 505.4,384.2 506.3,385.8 507.2,387.4 508.0,389.1 508.9,390.9 509.8,392.6 510.6,394.4 511.5,396.2 512.3,398.0 513.2,399.9 514.1,401.7 514.9,403.5 515.8,405.4 516.7,407.2 517.5,409.0 518.4,410.8 519.3,412.5 520.1,414.2 521.0,415.9 521.8,417.6 522.7,419.2 523.6,420.7 524.4,422.2 525.3,423.7 526.2,425.0 527.0,426.4 527.9,427.7 528.7,428.9 529.6,430.0 530.5,431.1 531.3,432.1 532.2,433.1 533.1,434.0 533.9,434.9 534.8,435.7 535.7,436.4 536.5,437.1 537.4,437.8 538.2,438.4 539.1,438.9 540.0,439.4 540.8,439.9 541.7,440.3 542.6,440.7 543.4,441.1 544.3,441.4 545.2,441.7 546.0,441.9 546.9,442.2 547.7,442.4 548.6,442.6 549.5,442.7 550.3,442.9 551.2,443.0 552.1,443.2 552.9,443.3 553.8,443.4 554.6,443.5 555.5,443.5 556.4,443.6 557.2,443.7 558.1,443.7 559.0,443.8 559.8,443.8 560.7,443.9 561.6,443.9 562.4,443.9 563.3,443.9 564.1,444.0 565.0,444.0 565.9,444.0 566.7,444.0 567.6,444.0 568.5,444.1 569.3,444.1 570.2,444.1 571.0,444.1 571.9,444.1 572.8,444.1 573.6,444.1 574.5,444.1" fill="none" stroke="#f23030" stroke-width="1.8" stroke-linejoin="round" />
<rect x="332.8" y="260.2" width="241.7" height="195.4" fill="none" stroke="#1a1a1a" stroke-width="1.5"/>
<line x1="332.8" y1="455.6" x2="332.8" y2="459.6" stroke="#1a1a1a" stroke-width="1.3" />
<line x1="350.1" y1="455.6" x2="350.1" y2="457.8" stroke="#1a1a1a" stroke-width="1.3" />
<line x1="367.3" y1="455.6" x2="367.3" y2="459.6" stroke="#1a1a1a" stroke-width="1.3" />
<line x1="384.6" y1="455.6" x2="384.6" y2="457.8" stroke="#1a1a1a" stroke-width="1.3" />
<line x1="401.9" y1="455.6" x2="401.9" y2="459.6" stroke="#1a1a1a" stroke-width="1.3" />
<line x1="419.1" y1="455.6" x2="419.1" y2="457.8" stroke="#1a1a1a" stroke-width="1.3" />
<line x1="436.4" y1="455.6" x2="436.4" y2="459.6" stroke="#1a1a1a" stroke-width="1.3" />
<line x1="453.6" y1="455.6" x2="453.6" y2="457.8" stroke="#1a1a1a" stroke-width="1.3" />
<line x1="470.9" y1="455.6" x2="470.9" y2="459.6" stroke="#1a1a1a" stroke-width="1.3" />
<line x1="488.2" y1="455.6" x2="488.2" y2="457.8" stroke="#1a1a1a" stroke-width="1.3" />
<line x1="505.4" y1="455.6" x2="505.4" y2="459.6" stroke="#1a1a1a" stroke-width="1.3" />
<line x1="522.7" y1="455.6" x2="522.7" y2="457.8" stroke="#1a1a1a" stroke-width="1.3" />
<line x1="540.0" y1="455.6" x2="540.0" y2="459.6" stroke="#1a1a1a" stroke-width="1.3" />
<line x1="557.2" y1="455.6" x2="557.2" y2="457.8" stroke="#1a1a1a" stroke-width="1.3" />
<line x1="574.5" y1="455.6" x2="574.5" y2="459.6" stroke="#1a1a1a" stroke-width="1.3" />
<text x="332.8" y="470.4" font-size="11" fill="#1a1a1a" text-anchor="middle">540</text>
<text x="367.3" y="470.4" font-size="11" fill="#1a1a1a" text-anchor="middle">538</text>
<text x="401.9" y="470.4" font-size="11" fill="#1a1a1a" text-anchor="middle">536</text>
<text x="436.4" y="470.4" font-size="11" fill="#1a1a1a" text-anchor="middle">534</text>
<text x="470.9" y="470.4" font-size="11" fill="#1a1a1a" text-anchor="middle">532</text>
<text x="505.4" y="470.4" font-size="11" fill="#1a1a1a" text-anchor="middle">530</text>
<text x="540.0" y="470.4" font-size="11" fill="#1a1a1a" text-anchor="middle">528</text>
<text x="574.5" y="470.4" font-size="11" fill="#1a1a1a" text-anchor="middle">526</text>
<text x="405.0" y="488.6" font-size="11" fill="#1a1a1a" textLength="97.0" lengthAdjust="spacingAndGlyphs">Binding Energy (eV)</text>
<text x="318.2" y="354.3" font-size="11" fill="#1a1a1a" textLength="68.0" lengthAdjust="spacingAndGlyphs" text-anchor="middle" transform="rotate(-90 318.2 354.3)">Intensity (a.u.)</text>
<text x="342.3" y="276.8" font-size="14" fill="#111" textLength="28.0" lengthAdjust="spacingAndGlyphs">O 1s</text>
<text x="337.6" y="348.5" font-size="10.9" fill="#222" textLength="79.0" lengthAdjust="spacingAndGlyphs">Without additive</text>
<text x="337.7" y="431.3" font-size="10.9" fill="#222" textLength="72.3" lengthAdjust="spacingAndGlyphs">With 0.1 M PPi</text>
<text x="424.3" y="322.0" font-size="10.9" fill="#3232e6" textLength="54.3" lengthAdjust="spacingAndGlyphs">Defective O</text>
<text x="412.7" y="406.6" font-size="10.9" fill="#3232e6" textLength="54.7" lengthAdjust="spacingAndGlyphs">Defective O</text>
<text x="524.3" y="287.3" font-size="10.6" fill="#ff44dd" textLength="47.3" lengthAdjust="spacingAndGlyphs">Mn-O-Mn</text>
<text x="519.4" y="401.5" font-size="10.6" fill="#ff44dd" textLength="48.0" lengthAdjust="spacingAndGlyphs">Mn-O-Mn</text>
<text x="592.3" y="271.3" font-size="31" fill="#000">h</text>
<polyline points="758.7,457.8 762.0,447.0 766.2,434.8 769.5,428.0 772.4,422.3 775.5,398.0 778.2,375.5 785.4,375.0 788.5,350.0 791.9,323.5 794.5,335.0 797.4,352.4 800.0,372.0 802.4,394.8 805.0,420.0 807.4,444.7 809.5,454.0 812.4,457.5 816.0,458.3" fill="none" stroke="#333" stroke-width="1.7" stroke-linejoin="round" />
<polyline points="661.6,458.3 724.6,458.3 734.5,452.0 745.0,441.5 757.4,431.5 767.4,424.8 772.5,418.0 777.4,409.8 782.5,395.0 787.4,377.3 793.5,348.0 799.9,317.4 805.0,299.0 809.4,286.2 814.5,293.5 819.9,304.9 826.0,327.0 832.3,352.4 841.0,388.0 849.6,425.5 856.0,439.0 862.5,450.0 870.8,458.3 906.0,458.3" fill="none" stroke="#f41c1c" stroke-width="1.7" stroke-linejoin="round" />
<rect x="661.6" y="261.0" width="244.4" height="197.5" fill="none" stroke="#333" stroke-width="1.5"/>
<line x1="657.6" y1="458.5" x2="661.6" y2="458.5" stroke="#333" stroke-width="1.3" />
<line x1="659.4" y1="438.8" x2="661.6" y2="438.8" stroke="#333" stroke-width="1.3" />
<line x1="657.6" y1="419.0" x2="661.6" y2="419.0" stroke="#333" stroke-width="1.3" />
<line x1="659.4" y1="399.2" x2="661.6" y2="399.2" stroke="#333" stroke-width="1.3" />
<line x1="657.6" y1="379.5" x2="661.6" y2="379.5" stroke="#333" stroke-width="1.3" />
<line x1="659.4" y1="359.8" x2="661.6" y2="359.8" stroke="#333" stroke-width="1.3" />
<line x1="657.6" y1="340.0" x2="661.6" y2="340.0" stroke="#333" stroke-width="1.3" />
<line x1="659.4" y1="320.2" x2="661.6" y2="320.2" stroke="#333" stroke-width="1.3" />
<line x1="657.6" y1="300.5" x2="661.6" y2="300.5" stroke="#333" stroke-width="1.3" />
<line x1="659.4" y1="280.8" x2="661.6" y2="280.8" stroke="#333" stroke-width="1.3" />
<line x1="657.6" y1="261.0" x2="661.6" y2="261.0" stroke="#333" stroke-width="1.3" />
<text x="655.2" y="462.2" font-size="11" fill="#222" text-anchor="end">0</text>
<text x="655.2" y="422.7" font-size="11" fill="#222" textLength="33.2" lengthAdjust="spacingAndGlyphs" text-anchor="end">100000</text>
<text x="655.2" y="383.2" font-size="11" fill="#222" textLength="33.2" lengthAdjust="spacingAndGlyphs" text-anchor="end">200000</text>
<text x="655.2" y="343.7" font-size="11" fill="#222" textLength="33.2" lengthAdjust="spacingAndGlyphs" text-anchor="end">300000</text>
<text x="655.2" y="304.2" font-size="11" fill="#222" textLength="33.2" lengthAdjust="spacingAndGlyphs" text-anchor="end">400000</text>
<text x="655.2" y="264.7" font-size="11" fill="#222" textLength="33.2" lengthAdjust="spacingAndGlyphs" text-anchor="end">500000</text>
<line x1="674.7" y1="458.5" x2="674.7" y2="460.7" stroke="#333" stroke-width="1.3" />
<line x1="696.4" y1="458.5" x2="696.4" y2="462.5" stroke="#333" stroke-width="1.3" />
<line x1="718.1" y1="458.5" x2="718.1" y2="460.7" stroke="#333" stroke-width="1.3" />
<line x1="739.8" y1="458.5" x2="739.8" y2="462.5" stroke="#333" stroke-width="1.3" />
<line x1="761.5" y1="458.5" x2="761.5" y2="460.7" stroke="#333" stroke-width="1.3" />
<line x1="783.2" y1="458.5" x2="783.2" y2="462.5" stroke="#333" stroke-width="1.3" />
<line x1="804.9" y1="458.5" x2="804.9" y2="460.7" stroke="#333" stroke-width="1.3" />
<line x1="826.6" y1="458.5" x2="826.6" y2="462.5" stroke="#333" stroke-width="1.3" />
<line x1="848.3" y1="458.5" x2="848.3" y2="460.7" stroke="#333" stroke-width="1.3" />
<line x1="870.0" y1="458.5" x2="870.0" y2="462.5" stroke="#333" stroke-width="1.3" />
<line x1="891.7" y1="458.5" x2="891.7" y2="460.7" stroke="#333" stroke-width="1.3" />
<text x="696.4" y="473.2" font-size="11" fill="#222" text-anchor="middle">-100</text>
<text x="739.8" y="473.2" font-size="11" fill="#222" text-anchor="middle">-50</text>
<text x="783.2" y="473.2" font-size="11" fill="#222" text-anchor="middle">0</text>
<text x="826.6" y="473.2" font-size="11" fill="#222" text-anchor="middle">50</text>
<text x="870.0" y="473.2" font-size="11" fill="#222" text-anchor="middle">100</text>
<text x="711.5" y="491.6" font-size="11" fill="#222" textLength="143.9" lengthAdjust="spacingAndGlyphs">Apparent Zata Potential (mV)</text>
<text x="611.3" y="353.4" font-size="11" fill="#222" textLength="62.6" lengthAdjust="spacingAndGlyphs" text-anchor="middle" transform="rotate(-90 611.3 353.4)">Total Counts</text>
<line x1="674.2" y1="278.8" x2="699.2" y2="278.8" stroke="#111" stroke-width="1.6" />
<line x1="674.2" y1="292.5" x2="699.2" y2="292.5" stroke="#f41c1c" stroke-width="1.6" />
<text x="702.9" y="282.4" font-size="10.9" fill="#333" textLength="80.2" lengthAdjust="spacingAndGlyphs">Without additive</text>
<text x="702.9" y="296.2" font-size="10.9" fill="#333" textLength="72.9" lengthAdjust="spacingAndGlyphs">With 0.1 M PPi</text>
<text x="824.8" y="304.1" font-size="19.6" fill="#f41c1c" textLength="69.0" lengthAdjust="spacingAndGlyphs">28.1 mV</text>
<text x="718.0" y="345.2" font-size="19.6" fill="#111" textLength="58.5" lengthAdjust="spacingAndGlyphs">5.0 mV</text>
<text x="922.0" y="269.0" font-size="31" fill="#000">i</text>
<rect x="1007.9" y="352.5" width="24.5" height="106.5" fill="#80a2c8" stroke="#111" stroke-width="1.5"/>
<rect x="1154.4" y="424.6" width="24.6" height="34.4" fill="#efa3aa" stroke="#111" stroke-width="1.5"/>
<rect x="971.2" y="262.3" width="244.4" height="196.7" fill="none" stroke="#222" stroke-width="1.5"/>
<line x1="967.2" y1="459.0" x2="971.2" y2="459.0" stroke="#222" stroke-width="1.3" />
<line x1="969.0" y1="442.6" x2="971.2" y2="442.6" stroke="#222" stroke-width="1.3" />
<line x1="967.2" y1="426.2" x2="971.2" y2="426.2" stroke="#222" stroke-width="1.3" />
<line x1="969.0" y1="409.8" x2="971.2" y2="409.8" stroke="#222" stroke-width="1.3" />
<line x1="967.2" y1="393.4" x2="971.2" y2="393.4" stroke="#222" stroke-width="1.3" />
<line x1="969.0" y1="377.0" x2="971.2" y2="377.0" stroke="#222" stroke-width="1.3" />
<line x1="967.2" y1="360.7" x2="971.2" y2="360.7" stroke="#222" stroke-width="1.3" />
<line x1="969.0" y1="344.3" x2="971.2" y2="344.3" stroke="#222" stroke-width="1.3" />
<line x1="967.2" y1="327.9" x2="971.2" y2="327.9" stroke="#222" stroke-width="1.3" />
<line x1="969.0" y1="311.5" x2="971.2" y2="311.5" stroke="#222" stroke-width="1.3" />
<line x1="967.2" y1="295.1" x2="971.2" y2="295.1" stroke="#222" stroke-width="1.3" />
<line x1="969.0" y1="278.7" x2="971.2" y2="278.7" stroke="#222" stroke-width="1.3" />
<line x1="967.2" y1="262.3" x2="971.2" y2="262.3" stroke="#222" stroke-width="1.3" />
<text x="966.0" y="462.7" font-size="11" fill="#222" text-anchor="end">0</text>
<text x="966.0" y="429.9" font-size="11" fill="#222" text-anchor="end">-2</text>
<text x="966.0" y="397.1" font-size="11" fill="#222" text-anchor="end">-4</text>
<text x="966.0" y="364.4" font-size="11" fill="#222" text-anchor="end">-6</text>
<text x="966.0" y="331.6" font-size="11" fill="#222" text-anchor="end">-8</text>
<text x="966.0" y="298.8" font-size="11" fill="#222" text-anchor="end">-10</text>
<text x="966.0" y="266.0" font-size="11" fill="#222" text-anchor="end">-12</text>
<text x="1020.2" y="349.3" font-size="14" fill="#111" textLength="22.5" lengthAdjust="spacingAndGlyphs" text-anchor="middle">-6.5</text>
<text x="1166.4" y="421.9" font-size="14" fill="#111" textLength="21.6" lengthAdjust="spacingAndGlyphs" text-anchor="middle">-2.1</text>
<text x="973.4" y="482.2" font-size="11.3" fill="#222" textLength="90.5" lengthAdjust="spacingAndGlyphs">Crystalline MnO<tspan font-size="8" dy="2.5">2</tspan></text>
<text x="1117.5" y="481.5" font-size="11.3" fill="#222" textLength="95.3" lengthAdjust="spacingAndGlyphs">Amorphous MnO<tspan font-size="8" dy="2.5">2</tspan></text>
<text x="946.0" y="361.6" font-size="10.8" fill="#222" textLength="108.4" lengthAdjust="spacingAndGlyphs" text-anchor="middle" transform="rotate(-90 946.0 361.6)">Adsorption energy (eV)</text>
<g stroke="#8d6a50" stroke-width="1.1">
<line x1="1057.4" y1="313.5" x2="1066.6" y2="315.7"/>
<line x1="1004.1" y1="317.2" x2="1013.2" y2="319.4"/>
<line x1="1031.0" y1="318.2" x2="1039.7" y2="314.7"/>
<line x1="995.4" y1="320.7" x2="1004.1" y2="317.2"/>
<line x1="1057.0" y1="307.8" x2="1057.4" y2="313.4"/>
<line x1="1031.0" y1="318.2" x2="1031.4" y2="323.8"/>
<line x1="1039.3" y1="309.0" x2="1048.0" y2="305.6"/>
<line x1="1048.8" y1="316.9" x2="1057.4" y2="313.5"/>
<line x1="1048.0" y1="305.6" x2="1057.0" y2="307.8"/>
<line x1="1013.2" y1="319.4" x2="1021.9" y2="316.0"/>
<line x1="1030.2" y1="306.9" x2="1039.3" y2="309.0"/>
<line x1="995.8" y1="326.3" x2="1004.9" y2="328.5"/>
<line x1="1039.7" y1="314.7" x2="1048.8" y2="316.9"/>
<line x1="1039.3" y1="309.0" x2="1039.7" y2="314.7"/>
<line x1="1013.5" y1="325.1" x2="1022.7" y2="327.3"/>
<line x1="1021.5" y1="310.3" x2="1021.9" y2="315.9"/>
<line x1="1012.4" y1="308.1" x2="1021.5" y2="310.3"/>
<line x1="1021.5" y1="310.3" x2="1030.2" y2="306.9"/>
<line x1="995.4" y1="320.7" x2="1004.1" y2="317.2"/>
<line x1="1066.6" y1="315.7" x2="1067.0" y2="321.3"/>
<line x1="985.9" y1="312.8" x2="994.6" y2="309.3"/>
<line x1="1048.8" y1="316.9" x2="1057.4" y2="313.4"/>
<line x1="1013.2" y1="319.4" x2="1021.9" y2="315.9"/>
<line x1="1031.4" y1="323.8" x2="1040.5" y2="326.0"/>
<line x1="1021.9" y1="315.9" x2="1031.0" y2="318.2"/>
<line x1="1048.8" y1="316.9" x2="1049.2" y2="322.6"/>
<line x1="1021.9" y1="316.0" x2="1031.0" y2="318.2"/>
<line x1="1004.9" y1="328.5" x2="1013.5" y2="325.1"/>
<line x1="1004.1" y1="317.2" x2="1013.2" y2="319.4"/>
<line x1="1031.0" y1="318.2" x2="1039.7" y2="314.7"/>
<line x1="1058.2" y1="324.8" x2="1067.0" y2="321.3"/>
<line x1="1040.5" y1="326.0" x2="1049.2" y2="322.6"/>
<line x1="1039.7" y1="314.7" x2="1048.8" y2="316.9"/>
<line x1="986.3" y1="318.4" x2="995.4" y2="320.7"/>
<line x1="1013.2" y1="319.4" x2="1013.5" y2="325.1"/>
<line x1="1049.2" y1="322.6" x2="1058.2" y2="324.8"/>
<line x1="1003.7" y1="311.5" x2="1004.1" y2="317.2"/>
<line x1="1022.7" y1="327.3" x2="1031.4" y2="323.8"/>
<line x1="985.9" y1="312.8" x2="986.3" y2="318.4"/>
<line x1="994.6" y1="309.3" x2="1003.7" y2="311.5"/>
<line x1="1003.7" y1="311.5" x2="1012.4" y2="308.1"/>
<line x1="995.4" y1="320.7" x2="995.8" y2="326.3"/>
</g>
<circle cx="1004.1" cy="317.2" r="1.8" fill="url(#gCa)"/>
<circle cx="995.4" cy="320.7" r="1.8" fill="url(#gCa)"/>
<circle cx="986.3" cy="318.4" r="1.8" fill="url(#gCa)"/>
<circle cx="985.9" cy="312.8" r="1.8" fill="url(#gCa)"/>
<circle cx="994.6" cy="309.3" r="1.8" fill="url(#gCa)"/>
<circle cx="1003.7" cy="311.5" r="1.8" fill="url(#gCa)"/>
<circle cx="1021.9" cy="315.9" r="1.8" fill="url(#gCa)"/>
<circle cx="1013.2" cy="319.4" r="1.8" fill="url(#gCa)"/>
<circle cx="1012.4" cy="308.1" r="1.8" fill="url(#gCa)"/>
<circle cx="1021.5" cy="310.3" r="1.8" fill="url(#gCa)"/>
<circle cx="1039.7" cy="314.7" r="1.8" fill="url(#gCa)"/>
<circle cx="1031.0" cy="318.2" r="1.8" fill="url(#gCa)"/>
<circle cx="1030.2" cy="306.9" r="1.8" fill="url(#gCa)"/>
<circle cx="1039.3" cy="309.0" r="1.8" fill="url(#gCa)"/>
<circle cx="1057.4" cy="313.4" r="1.8" fill="url(#gCa)"/>
<circle cx="1048.8" cy="316.9" r="1.8" fill="url(#gCa)"/>
<circle cx="1048.0" cy="305.6" r="1.8" fill="url(#gCa)"/>
<circle cx="1057.0" cy="307.8" r="1.8" fill="url(#gCa)"/>
<circle cx="1013.5" cy="325.1" r="1.8" fill="url(#gCa)"/>
<circle cx="1004.9" cy="328.5" r="1.8" fill="url(#gCa)"/>
<circle cx="995.8" cy="326.3" r="1.8" fill="url(#gCa)"/>
<circle cx="1004.1" cy="317.2" r="1.8" fill="url(#gCa)"/>
<circle cx="1031.4" cy="323.8" r="1.8" fill="url(#gCa)"/>
<circle cx="1022.7" cy="327.3" r="1.8" fill="url(#gCa)"/>
<circle cx="1021.9" cy="316.0" r="1.8" fill="url(#gCa)"/>
<circle cx="1049.2" cy="322.6" r="1.8" fill="url(#gCa)"/>
<circle cx="1040.5" cy="326.0" r="1.8" fill="url(#gCa)"/>
<circle cx="1039.7" cy="314.7" r="1.8" fill="url(#gCa)"/>
<circle cx="1067.0" cy="321.3" r="1.8" fill="url(#gCa)"/>
<circle cx="1058.2" cy="324.8" r="1.8" fill="url(#gCa)"/>
<circle cx="1057.4" cy="313.5" r="1.8" fill="url(#gCa)"/>
<circle cx="1066.6" cy="315.7" r="1.8" fill="url(#gCa)"/>
<g stroke="#e83a3a" stroke-width="1.25">
<line x1="991.0" y1="287.1" x2="1004.4" y2="287.1"/>
<line x1="991.0" y1="287.1" x2="1003.5" y2="292.6"/>
<line x1="997.0" y1="296.3" x2="1003.5" y2="292.6"/>
<line x1="997.0" y1="296.3" x2="1004.4" y2="287.1"/>
<line x1="998.4" y1="302.7" x2="1003.5" y2="292.6"/>
<line x1="1009.9" y1="276.0" x2="1004.4" y2="287.1"/>
<line x1="1009.9" y1="276.0" x2="1022.3" y2="282.0"/>
<line x1="1011.3" y1="282.5" x2="1004.4" y2="287.1"/>
<line x1="1011.3" y1="282.5" x2="1022.3" y2="282.0"/>
<line x1="1011.3" y1="282.5" x2="1003.5" y2="292.6"/>
<line x1="1010.4" y1="288.9" x2="1004.4" y2="287.1"/>
<line x1="1010.4" y1="288.9" x2="1003.5" y2="292.6"/>
<line x1="1010.4" y1="288.9" x2="1022.3" y2="282.0"/>
<line x1="1016.8" y1="292.6" x2="1024.2" y2="291.2"/>
<line x1="1016.8" y1="292.6" x2="1022.3" y2="282.0"/>
<line x1="1016.8" y1="292.6" x2="1003.5" y2="292.6"/>
<line x1="1016.3" y1="300.0" x2="1024.2" y2="291.2"/>
<line x1="1016.3" y1="300.0" x2="1003.5" y2="292.6"/>
<line x1="1030.6" y1="272.8" x2="1022.3" y2="282.0"/>
<line x1="1028.8" y1="280.6" x2="1022.3" y2="282.0"/>
<line x1="1028.8" y1="280.6" x2="1024.2" y2="291.2"/>
<line x1="1029.7" y1="287.1" x2="1024.2" y2="291.2"/>
<line x1="1029.7" y1="287.1" x2="1022.3" y2="282.0"/>
<line x1="1029.7" y1="287.1" x2="1043.0" y2="286.2"/>
<line x1="1036.1" y1="296.3" x2="1043.5" y2="293.5"/>
<line x1="1036.1" y1="296.3" x2="1043.0" y2="286.2"/>
<line x1="1036.1" y1="296.3" x2="1024.2" y2="291.2"/>
<line x1="1036.6" y1="303.6" x2="1043.5" y2="293.5"/>
<line x1="1049.0" y1="275.1" x2="1043.0" y2="286.2"/>
<line x1="1049.0" y1="275.1" x2="1061.0" y2="282.0"/>
<line x1="1048.5" y1="282.5" x2="1043.0" y2="286.2"/>
<line x1="1048.5" y1="282.5" x2="1043.5" y2="293.5"/>
<line x1="1048.5" y1="282.5" x2="1061.0" y2="282.0"/>
<line x1="1049.9" y1="289.8" x2="1043.5" y2="293.5"/>
<line x1="1049.9" y1="289.8" x2="1043.0" y2="286.2"/>
<line x1="1049.9" y1="289.8" x2="1060.5" y2="289.4"/>
<line x1="1055.4" y1="292.6" x2="1060.5" y2="289.4"/>
<line x1="1055.4" y1="292.6" x2="1061.0" y2="282.0"/>
<line x1="1055.4" y1="292.6" x2="1043.5" y2="293.5"/>
<line x1="1055.4" y1="300.4" x2="1060.5" y2="289.4"/>
<line x1="1055.4" y1="300.4" x2="1043.5" y2="293.5"/>
<line x1="1067.4" y1="272.4" x2="1061.0" y2="282.0"/>
<line x1="1067.9" y1="279.3" x2="1061.0" y2="282.0"/>
<line x1="1067.9" y1="279.3" x2="1060.5" y2="289.4"/>
<line x1="1068.3" y1="286.6" x2="1060.5" y2="289.4"/>
<line x1="1068.3" y1="286.6" x2="1061.0" y2="282.0"/>
<line x1="1075.2" y1="288.5" x2="1060.5" y2="289.4"/>
<line x1="1073.4" y1="295.8" x2="1060.5" y2="289.4"/>
<line x1="1016.8" y1="285.2" x2="1022.3" y2="282.0"/>
<line x1="1016.8" y1="285.2" x2="1024.2" y2="291.2"/>
<line x1="1016.8" y1="285.2" x2="1004.4" y2="287.1"/>
<line x1="1036.1" y1="288.0" x2="1043.0" y2="286.2"/>
<line x1="1036.1" y1="288.0" x2="1043.5" y2="293.5"/>
<line x1="1036.1" y1="288.0" x2="1024.2" y2="291.2"/>
<line x1="1051.8" y1="284.3" x2="1043.0" y2="286.2"/>
<line x1="1051.8" y1="284.3" x2="1061.0" y2="282.0"/>
<line x1="1051.8" y1="284.3" x2="1060.5" y2="289.4"/>
</g><g stroke="#b040c0" stroke-width="0.9">
<line x1="1004.4" y1="287.1" x2="1003.5" y2="292.6"/>
<line x1="1004.4" y1="287.1" x2="1022.3" y2="282.0"/>
<line x1="1004.4" y1="287.1" x2="1024.2" y2="291.2"/>
<line x1="1003.5" y1="292.6" x2="1024.2" y2="291.2"/>
<line x1="1022.3" y1="282.0" x2="1024.2" y2="291.2"/>
<line x1="1024.2" y1="291.2" x2="1043.0" y2="286.2"/>
<line x1="1024.2" y1="291.2" x2="1043.5" y2="293.5"/>
<line x1="1043.0" y1="286.2" x2="1043.5" y2="293.5"/>
<line x1="1043.0" y1="286.2" x2="1061.0" y2="282.0"/>
<line x1="1043.0" y1="286.2" x2="1060.5" y2="289.4"/>
<line x1="1043.5" y1="293.5" x2="1061.0" y2="282.0"/>
<line x1="1043.5" y1="293.5" x2="1060.5" y2="289.4"/>
<line x1="1061.0" y1="282.0" x2="1060.5" y2="289.4"/>
</g>
<circle cx="991.0" cy="279.7" r="2.1" fill="url(#gOx)"/>
<circle cx="991.0" cy="287.1" r="2.1" fill="url(#gOx)"/>
<circle cx="997.0" cy="296.3" r="2.1" fill="url(#gOx)"/>
<circle cx="998.4" cy="302.7" r="2.1" fill="url(#gOx)"/>
<circle cx="1009.9" cy="276.0" r="2.1" fill="url(#gOx)"/>
<circle cx="1011.3" cy="282.5" r="2.1" fill="url(#gOx)"/>
<circle cx="1010.4" cy="288.9" r="2.1" fill="url(#gOx)"/>
<circle cx="1016.8" cy="292.6" r="2.1" fill="url(#gOx)"/>
<circle cx="1016.3" cy="300.0" r="2.1" fill="url(#gOx)"/>
<circle cx="1030.6" cy="272.8" r="2.1" fill="url(#gOx)"/>
<circle cx="1028.8" cy="280.6" r="2.1" fill="url(#gOx)"/>
<circle cx="1029.7" cy="287.1" r="2.1" fill="url(#gOx)"/>
<circle cx="1036.1" cy="296.3" r="2.1" fill="url(#gOx)"/>
<circle cx="1036.6" cy="303.6" r="2.1" fill="url(#gOx)"/>
<circle cx="1049.0" cy="275.1" r="2.1" fill="url(#gOx)"/>
<circle cx="1048.5" cy="282.5" r="2.1" fill="url(#gOx)"/>
<circle cx="1049.9" cy="289.8" r="2.1" fill="url(#gOx)"/>
<circle cx="1055.4" cy="292.6" r="2.1" fill="url(#gOx)"/>
<circle cx="1055.4" cy="300.4" r="2.1" fill="url(#gOx)"/>
<circle cx="1067.4" cy="272.4" r="2.1" fill="url(#gOx)"/>
<circle cx="1067.9" cy="279.3" r="2.1" fill="url(#gOx)"/>
<circle cx="1068.3" cy="286.6" r="2.1" fill="url(#gOx)"/>
<circle cx="1075.2" cy="288.5" r="2.1" fill="url(#gOx)"/>
<circle cx="1073.4" cy="295.8" r="2.1" fill="url(#gOx)"/>
<circle cx="1016.8" cy="285.2" r="2.1" fill="url(#gOx)"/>
<circle cx="1036.1" cy="288.0" r="2.1" fill="url(#gOx)"/>
<circle cx="1051.8" cy="284.3" r="2.1" fill="url(#gOx)"/>
<circle cx="1004.4" cy="287.1" r="3.7" fill="url(#gMn)"/>
<circle cx="1003.5" cy="292.6" r="3.7" fill="url(#gMn)"/>
<circle cx="1022.3" cy="282.0" r="3.7" fill="url(#gMn)"/>
<circle cx="1024.2" cy="291.2" r="3.7" fill="url(#gMn)"/>
<circle cx="1043.0" cy="286.2" r="3.7" fill="url(#gMn)"/>
<circle cx="1043.5" cy="293.5" r="3.7" fill="url(#gMn)"/>
<circle cx="1061.0" cy="282.0" r="3.7" fill="url(#gMn)"/>
<circle cx="1060.5" cy="289.4" r="3.7" fill="url(#gMn)"/>
<g stroke="#8d6a50" stroke-width="1.1">
<line x1="1167.5" y1="366.9" x2="1176.3" y2="369.0"/>
<line x1="1151.3" y1="384.6" x2="1160.2" y2="386.7"/>
<line x1="1177.4" y1="385.5" x2="1185.9" y2="382.1"/>
<line x1="1116.8" y1="387.0" x2="1125.6" y2="389.1"/>
<line x1="1132.9" y1="369.3" x2="1141.7" y2="371.4"/>
<line x1="1116.4" y1="381.5" x2="1116.8" y2="387.0"/>
<line x1="1168.3" y1="377.9" x2="1168.6" y2="383.3"/>
<line x1="1176.6" y1="374.5" x2="1185.5" y2="376.7"/>
<line x1="1159.0" y1="370.2" x2="1159.4" y2="375.7"/>
<line x1="1168.3" y1="377.9" x2="1176.6" y2="374.5"/>
<line x1="1150.1" y1="368.1" x2="1159.0" y2="370.2"/>
<line x1="1116.4" y1="381.5" x2="1124.9" y2="378.1"/>
<line x1="1168.6" y1="383.3" x2="1177.4" y2="385.5"/>
<line x1="1185.5" y1="376.7" x2="1185.9" y2="382.1"/>
<line x1="1115.6" y1="370.5" x2="1124.5" y2="372.6"/>
<line x1="1142.9" y1="387.9" x2="1151.3" y2="384.6"/>
<line x1="1134.0" y1="385.8" x2="1142.9" y2="387.9"/>
<line x1="1107.1" y1="373.9" x2="1107.5" y2="379.4"/>
<line x1="1133.6" y1="380.3" x2="1142.1" y2="376.9"/>
<line x1="1160.2" y1="386.7" x2="1168.6" y2="383.3"/>
<line x1="1133.6" y1="380.3" x2="1134.0" y2="385.8"/>
<line x1="1124.9" y1="378.1" x2="1133.6" y2="380.3"/>
<line x1="1141.7" y1="371.4" x2="1150.1" y2="368.1"/>
<line x1="1159.0" y1="370.2" x2="1167.5" y2="366.9"/>
<line x1="1124.5" y1="372.6" x2="1132.9" y2="369.3"/>
<line x1="1124.5" y1="372.6" x2="1124.9" y2="378.1"/>
<line x1="1176.3" y1="369.0" x2="1176.6" y2="374.5"/>
<line x1="1107.5" y1="379.4" x2="1116.4" y2="381.5"/>
<line x1="1107.1" y1="373.9" x2="1115.6" y2="370.5"/>
<line x1="1125.6" y1="389.1" x2="1134.0" y2="385.8"/>
<line x1="1142.1" y1="376.9" x2="1150.9" y2="379.1"/>
<line x1="1141.7" y1="371.4" x2="1142.1" y2="376.9"/>
<line x1="1150.9" y1="379.1" x2="1159.4" y2="375.7"/>
<line x1="1150.9" y1="379.1" x2="1151.3" y2="384.6"/>
<line x1="1159.4" y1="375.7" x2="1168.3" y2="377.9"/>
</g>
<circle cx="1124.9" cy="378.1" r="1.8" fill="url(#gCa)"/>
<circle cx="1116.4" cy="381.5" r="1.8" fill="url(#gCa)"/>
<circle cx="1107.5" cy="379.4" r="1.8" fill="url(#gCa)"/>
<circle cx="1107.1" cy="373.9" r="1.8" fill="url(#gCa)"/>
<circle cx="1115.6" cy="370.5" r="1.8" fill="url(#gCa)"/>
<circle cx="1124.5" cy="372.6" r="1.8" fill="url(#gCa)"/>
<circle cx="1142.1" cy="376.9" r="1.8" fill="url(#gCa)"/>
<circle cx="1133.6" cy="380.3" r="1.8" fill="url(#gCa)"/>
<circle cx="1132.9" cy="369.3" r="1.8" fill="url(#gCa)"/>
<circle cx="1141.7" cy="371.4" r="1.8" fill="url(#gCa)"/>
<circle cx="1159.4" cy="375.7" r="1.8" fill="url(#gCa)"/>
<circle cx="1150.9" cy="379.1" r="1.8" fill="url(#gCa)"/>
<circle cx="1150.1" cy="368.1" r="1.8" fill="url(#gCa)"/>
<circle cx="1159.0" cy="370.2" r="1.8" fill="url(#gCa)"/>
<circle cx="1176.6" cy="374.5" r="1.8" fill="url(#gCa)"/>
<circle cx="1168.3" cy="377.9" r="1.8" fill="url(#gCa)"/>
<circle cx="1167.5" cy="366.9" r="1.8" fill="url(#gCa)"/>
<circle cx="1176.3" cy="369.0" r="1.8" fill="url(#gCa)"/>
<circle cx="1134.0" cy="385.8" r="1.8" fill="url(#gCa)"/>
<circle cx="1125.6" cy="389.1" r="1.8" fill="url(#gCa)"/>
<circle cx="1116.8" cy="387.0" r="1.8" fill="url(#gCa)"/>
<circle cx="1151.3" cy="384.6" r="1.8" fill="url(#gCa)"/>
<circle cx="1142.9" cy="387.9" r="1.8" fill="url(#gCa)"/>
<circle cx="1168.6" cy="383.3" r="1.8" fill="url(#gCa)"/>
<circle cx="1160.2" cy="386.7" r="1.8" fill="url(#gCa)"/>
<circle cx="1185.9" cy="382.1" r="1.8" fill="url(#gCa)"/>
<circle cx="1177.4" cy="385.5" r="1.8" fill="url(#gCa)"/>
<circle cx="1185.5" cy="376.7" r="1.8" fill="url(#gCa)"/>
<g stroke="#e83a3a" stroke-width="1.25">
<line x1="1105.8" y1="338.6" x2="1117.6" y2="341.3"/>
<line x1="1108.1" y1="346.5" x2="1117.6" y2="341.3"/>
<line x1="1108.1" y1="346.5" x2="1122.3" y2="347.3"/>
<line x1="1116.8" y1="352.1" x2="1122.3" y2="347.3"/>
<line x1="1116.8" y1="352.1" x2="1117.6" y2="341.3"/>
<line x1="1122.3" y1="330.8" x2="1117.6" y2="341.3"/>
<line x1="1125.5" y1="338.6" x2="1117.6" y2="341.3"/>
<line x1="1125.5" y1="338.6" x2="1122.3" y2="347.3"/>
<line x1="1125.5" y1="338.6" x2="1137.3" y2="343.8"/>
<line x1="1133.4" y1="355.2" x2="1144.4" y2="353.3"/>
<line x1="1133.4" y1="355.2" x2="1137.3" y2="343.8"/>
<line x1="1133.4" y1="355.2" x2="1122.3" y2="347.3"/>
<line x1="1121.5" y1="359.9" x2="1122.3" y2="347.3"/>
<line x1="1141.2" y1="336.0" x2="1137.3" y2="343.8"/>
<line x1="1146.0" y1="343.4" x2="1137.3" y2="343.8"/>
<line x1="1146.0" y1="343.4" x2="1144.4" y2="353.3"/>
<line x1="1146.0" y1="343.4" x2="1158.6" y2="345.7"/>
<line x1="1147.6" y1="362.3" x2="1144.4" y2="353.3"/>
<line x1="1154.7" y1="355.2" x2="1163.3" y2="352.8"/>
<line x1="1154.7" y1="355.2" x2="1158.6" y2="345.7"/>
<line x1="1154.7" y1="355.2" x2="1144.4" y2="353.3"/>
<line x1="1163.3" y1="336.3" x2="1158.6" y2="345.7"/>
<line x1="1163.3" y1="336.3" x2="1172.0" y2="345.7"/>
<line x1="1161.0" y1="364.7" x2="1163.3" y2="352.8"/>
<line x1="1168.1" y1="346.5" x2="1172.0" y2="345.7"/>
<line x1="1168.1" y1="346.5" x2="1163.3" y2="352.8"/>
<line x1="1168.1" y1="346.5" x2="1158.6" y2="345.7"/>
<line x1="1169.6" y1="342.6" x2="1172.0" y2="345.7"/>
<line x1="1169.6" y1="342.6" x2="1158.6" y2="345.7"/>
<line x1="1169.6" y1="342.6" x2="1163.3" y2="352.8"/>
<line x1="1175.2" y1="337.5" x2="1172.0" y2="345.7"/>
<line x1="1175.2" y1="337.5" x2="1178.3" y2="351.7"/>
<line x1="1175.9" y1="348.9" x2="1178.3" y2="351.7"/>
<line x1="1175.9" y1="348.9" x2="1172.0" y2="345.7"/>
<line x1="1175.9" y1="348.9" x2="1163.3" y2="352.8"/>
<line x1="1179.1" y1="346.5" x2="1178.3" y2="351.7"/>
<line x1="1179.1" y1="346.5" x2="1172.0" y2="345.7"/>
<line x1="1179.9" y1="363.1" x2="1178.3" y2="351.7"/>
<line x1="1187.0" y1="351.3" x2="1178.3" y2="351.7"/>
<line x1="1135.7" y1="362.3" x2="1144.4" y2="353.3"/>
</g><g stroke="#b040c0" stroke-width="0.9">
<line x1="1117.6" y1="341.3" x2="1122.3" y2="347.3"/>
<line x1="1117.6" y1="341.3" x2="1137.3" y2="343.8"/>
<line x1="1122.3" y1="347.3" x2="1137.3" y2="343.8"/>
<line x1="1137.3" y1="343.8" x2="1144.4" y2="353.3"/>
<line x1="1144.4" y1="353.3" x2="1158.6" y2="345.7"/>
<line x1="1144.4" y1="353.3" x2="1163.3" y2="352.8"/>
<line x1="1158.6" y1="345.7" x2="1163.3" y2="352.8"/>
<line x1="1158.6" y1="345.7" x2="1172.0" y2="345.7"/>
<line x1="1158.6" y1="345.7" x2="1178.3" y2="351.7"/>
<line x1="1163.3" y1="352.8" x2="1172.0" y2="345.7"/>
<line x1="1163.3" y1="352.8" x2="1178.3" y2="351.7"/>
<line x1="1172.0" y1="345.7" x2="1178.3" y2="351.7"/>
</g>
<circle cx="1105.8" cy="338.6" r="2.1" fill="url(#gOx)"/>
<circle cx="1108.1" cy="346.5" r="2.1" fill="url(#gOx)"/>
<circle cx="1116.8" cy="352.1" r="2.1" fill="url(#gOx)"/>
<circle cx="1122.3" cy="330.8" r="2.1" fill="url(#gOx)"/>
<circle cx="1125.5" cy="338.6" r="2.1" fill="url(#gOx)"/>
<circle cx="1133.4" cy="355.2" r="2.1" fill="url(#gOx)"/>
<circle cx="1121.5" cy="359.9" r="2.1" fill="url(#gOx)"/>
<circle cx="1134.1" cy="368.6" r="2.1" fill="url(#gOx)"/>
<circle cx="1141.2" cy="336.0" r="2.1" fill="url(#gOx)"/>
<circle cx="1146.0" cy="343.4" r="2.1" fill="url(#gOx)"/>
<circle cx="1147.6" cy="362.3" r="2.1" fill="url(#gOx)"/>
<circle cx="1154.7" cy="355.2" r="2.1" fill="url(#gOx)"/>
<circle cx="1157.8" cy="328.7" r="2.1" fill="url(#gOx)"/>
<circle cx="1163.3" cy="336.3" r="2.1" fill="url(#gOx)"/>
<circle cx="1161.0" cy="364.7" r="2.1" fill="url(#gOx)"/>
<circle cx="1168.1" cy="346.5" r="2.1" fill="url(#gOx)"/>
<circle cx="1169.6" cy="342.6" r="2.1" fill="url(#gOx)"/>
<circle cx="1175.2" cy="337.5" r="2.1" fill="url(#gOx)"/>
<circle cx="1175.9" cy="348.9" r="2.1" fill="url(#gOx)"/>
<circle cx="1179.1" cy="346.5" r="2.1" fill="url(#gOx)"/>
<circle cx="1179.9" cy="363.1" r="2.1" fill="url(#gOx)"/>
<circle cx="1187.0" cy="351.3" r="2.1" fill="url(#gOx)"/>
<circle cx="1193.3" cy="358.4" r="2.1" fill="url(#gOx)"/>
<circle cx="1135.7" cy="362.3" r="2.1" fill="url(#gOx)"/>
<circle cx="1117.6" cy="341.3" r="3.7" fill="url(#gMn)"/>
<circle cx="1122.3" cy="347.3" r="3.7" fill="url(#gMn)"/>
<circle cx="1137.3" cy="343.8" r="3.7" fill="url(#gMn)"/>
<circle cx="1144.4" cy="353.3" r="3.7" fill="url(#gMn)"/>
<circle cx="1158.6" cy="345.7" r="3.7" fill="url(#gMn)"/>
<circle cx="1163.3" cy="352.8" r="3.7" fill="url(#gMn)"/>
<circle cx="1172.0" cy="345.7" r="3.7" fill="url(#gMn)"/>
<circle cx="1178.3" cy="351.7" r="3.7" fill="url(#gMn)"/>
<circle cx="1128.5" cy="364.5" r="2.3" fill="none" stroke="#9a8ac8" stroke-width="0.9"/>
<circle cx="1166.3" cy="363" r="2.3" fill="none" stroke="#9a8ac8" stroke-width="0.9"/>
<g clip-path="url(#cpA)">
<rect x="3" y="6" width="300" height="228" fill="#6e6e6e"/>
<path d="M175.0,6.0 C171.6,8.6 162.0,16.6 154.4,21.8 C146.8,27.1 137.9,31.7 129.2,37.5 C120.5,43.3 109.8,51.8 102.4,56.5 C95.0,61.2 90.5,63.9 85.0,66.0 C79.5,68.1 73.7,66.7 69.2,69.0 C64.7,71.3 61.7,74.8 58.2,80.0 C54.7,85.2 51.0,91.7 48.0,100.0 C45.0,108.3 43.0,116.7 40.0,130.0 C37.0,143.3 32.3,162.7 30.0,180.0 C27.7,197.3 26.7,225.0 26.0,234.0 L3,234 L3,6Z" fill="#7e7e7e"/>
<path d="M150.0,6.0 C149.7,7.6 154.1,11.0 148.0,15.5 C141.9,20.0 123.9,26.8 113.4,32.8 C102.9,38.8 92.9,46.2 85.0,51.7 C77.1,57.2 71.8,61.0 66.0,66.0 C60.2,71.0 55.0,75.9 50.3,81.7 C45.6,87.5 41.6,93.2 37.7,100.6 C33.8,108.0 30.0,114.4 26.7,126.0 C23.4,137.6 20.1,152.0 18.0,170.0 C15.9,188.0 14.7,223.3 14.0,234.0 L3,234 L3,6Z" fill="#777"/>
<path d="M150.0,6.0 C149.7,7.6 154.1,11.0 148.0,15.5 C141.9,20.0 123.9,26.8 113.4,32.8 C102.9,38.8 92.9,46.2 85.0,51.7 C77.1,57.2 71.8,61.0 66.0,66.0 C60.2,71.0 55.0,75.9 50.3,81.7 C45.6,87.5 41.6,93.2 37.7,100.6 C33.8,108.0 30.0,114.4 26.7,126.0 C23.4,137.6 20.1,152.0 18.0,170.0 C15.9,188.0 14.7,223.3 14.0,234.0" fill="none" stroke="#666" stroke-width="1.6"/>
<path d="M126.0,6.0 C120.2,9.9 101.3,21.8 91.3,29.7 C81.3,37.6 73.7,46.2 66.1,53.3 C58.5,60.4 51.6,65.4 45.6,72.2 C39.6,79.0 34.8,86.4 29.8,94.3 C24.8,102.2 19.2,108.6 15.6,119.6 C12.0,130.5 9.8,140.9 8.0,160.0 C6.2,179.1 5.5,221.7 5.0,234.0 L3,234 L3,6Z" fill="#6b6b6b"/>
<path d="M150,20 L160,45 L150,60 L128,72 L110,70 L130,50Z" fill="#858585" filter="url(#blur1)"/>
<path d="M105,26 L113,18 M30,52 L38,46 M70,32 L78,30" stroke="#5e5e5e" stroke-width="2.5" opacity="0.7"/>
<polygon points="142.0,9.0 160.0,7.0 183.0,12.0 195.0,30.0 198.6,65.5 183.3,83.4 200.0,78.0 216.4,80.8 232.0,92.0 241.9,106.3 236.8,124.2 219.0,137.0 213.9,157.3 196.0,160.0 183.3,160.0 168.0,172.7 165.4,203.3 150.0,218.0 134.8,228.8 115.0,234.0 96.5,228.8 78.0,215.0 63.4,198.2 58.3,154.8 43.0,142.0 30.2,121.6 40.0,108.0 48.0,101.2 50.6,70.6 71.0,68.0 96.5,68.0 110.0,74.0 120.0,84.0 132.0,87.0 141.0,77.0 142.0,60.0 140.0,47.7 136.0,25.0" fill="none" stroke="#909090" stroke-width="6" stroke-linejoin="round" filter="url(#blur2)" opacity="0.8"/>
<g filter="url(#blur1)"><polygon points="142.0,9.0 160.0,7.0 183.0,12.0 195.0,30.0 198.6,65.5 183.3,83.4 200.0,78.0 216.4,80.8 232.0,92.0 241.9,106.3 236.8,124.2 219.0,137.0 213.9,157.3 196.0,160.0 183.3,160.0 168.0,172.7 165.4,203.3 150.0,218.0 134.8,228.8 115.0,234.0 96.5,228.8 78.0,215.0 63.4,198.2 58.3,154.8 43.0,142.0 30.2,121.6 40.0,108.0 48.0,101.2 50.6,70.6 71.0,68.0 96.5,68.0 110.0,74.0 120.0,84.0 132.0,87.0 141.0,77.0 142.0,60.0 140.0,47.7 136.0,25.0" fill="#383838"/>
<circle cx="147.0" cy="9.5" r="6.9" fill="url(#gPart)"/>
<circle cx="157.3" cy="8.5" r="7.3" fill="url(#gPart)"/>
<circle cx="163.9" cy="8.1" r="7.3" fill="url(#gPart)"/>
<circle cx="177.8" cy="12.4" r="4.8" fill="url(#gPart)"/>
<circle cx="185.9" cy="15.5" r="6.1" fill="url(#gPart)"/>
<circle cx="192.3" cy="23.6" r="5.2" fill="url(#gPart)"/>
<circle cx="194.7" cy="37.6" r="6.8" fill="url(#gPart)"/>
<circle cx="195.4" cy="48.9" r="4.9" fill="url(#gPart)"/>
<circle cx="198.5" cy="58.1" r="4.5" fill="url(#gPart)"/>
<circle cx="196.3" cy="68.8" r="5.1" fill="url(#gPart)"/>
<circle cx="189.1" cy="80.4" r="5.4" fill="url(#gPart)"/>
<circle cx="193.5" cy="80.9" r="6.5" fill="url(#gPart)"/>
<circle cx="207.0" cy="81.2" r="6.6" fill="url(#gPart)"/>
<circle cx="222.2" cy="85.2" r="5.4" fill="url(#gPart)"/>
<circle cx="227.5" cy="87.9" r="4.9" fill="url(#gPart)"/>
<circle cx="235.2" cy="98.4" r="6.3" fill="url(#gPart)"/>
<circle cx="238.6" cy="111.5" r="5.5" fill="url(#gPart)"/>
<circle cx="237.3" cy="121.0" r="5.9" fill="url(#gPart)"/>
<circle cx="231.6" cy="127.3" r="6.6" fill="url(#gPart)"/>
<circle cx="221.7" cy="135.7" r="4.6" fill="url(#gPart)"/>
<circle cx="218.7" cy="143.5" r="4.6" fill="url(#gPart)"/>
<circle cx="216.3" cy="151.7" r="6.2" fill="url(#gPart)"/>
<circle cx="207.5" cy="156.2" r="5.0" fill="url(#gPart)"/>
<circle cx="202.3" cy="158.1" r="6.8" fill="url(#gPart)"/>
<circle cx="191.4" cy="161.8" r="5.5" fill="url(#gPart)"/>
<circle cx="178.9" cy="163.3" r="6.8" fill="url(#gPart)"/>
<circle cx="170.3" cy="170.5" r="6.9" fill="url(#gPart)"/>
<circle cx="169.0" cy="175.9" r="7.3" fill="url(#gPart)"/>
<circle cx="165.1" cy="187.4" r="6.3" fill="url(#gPart)"/>
<circle cx="167.5" cy="197.6" r="7.3" fill="url(#gPart)"/>
<circle cx="161.7" cy="206.2" r="5.5" fill="url(#gPart)"/>
<circle cx="152.6" cy="212.6" r="4.9" fill="url(#gPart)"/>
<circle cx="147.0" cy="222.7" r="5.0" fill="url(#gPart)"/>
<circle cx="136.8" cy="228.0" r="6.1" fill="url(#gPart)"/>
<circle cx="129.5" cy="229.0" r="6.3" fill="url(#gPart)"/>
<circle cx="121.3" cy="232.5" r="5.8" fill="url(#gPart)"/>
<circle cx="108.6" cy="234.4" r="4.6" fill="url(#gPart)"/>
<circle cx="101.1" cy="231.5" r="4.9" fill="url(#gPart)"/>
<circle cx="92.8" cy="227.1" r="6.4" fill="url(#gPart)"/>
<circle cx="83.8" cy="216.9" r="5.8" fill="url(#gPart)"/>
<circle cx="72.9" cy="212.2" r="5.4" fill="url(#gPart)"/>
<circle cx="66.9" cy="204.4" r="7.1" fill="url(#gPart)"/>
<circle cx="64.7" cy="192.6" r="6.0" fill="url(#gPart)"/>
<circle cx="62.4" cy="181.8" r="5.4" fill="url(#gPart)"/>
<circle cx="59.8" cy="169.7" r="5.6" fill="url(#gPart)"/>
<circle cx="60.9" cy="162.1" r="6.4" fill="url(#gPart)"/>
<circle cx="54.5" cy="151.0" r="4.8" fill="url(#gPart)"/>
<circle cx="45.9" cy="146.3" r="7.1" fill="url(#gPart)"/>
<circle cx="39.2" cy="138.0" r="6.8" fill="url(#gPart)"/>
<circle cx="34.2" cy="127.4" r="6.8" fill="url(#gPart)"/>
<circle cx="34.6" cy="115.6" r="5.3" fill="url(#gPart)"/>
<circle cx="43.9" cy="105.7" r="6.6" fill="url(#gPart)"/>
<circle cx="47.6" cy="97.9" r="6.4" fill="url(#gPart)"/>
<circle cx="49.6" cy="83.9" r="6.1" fill="url(#gPart)"/>
<circle cx="49.2" cy="76.4" r="5.9" fill="url(#gPart)"/>
<circle cx="57.0" cy="70.5" r="6.9" fill="url(#gPart)"/>
<circle cx="65.3" cy="69.2" r="6.7" fill="url(#gPart)"/>
<circle cx="78.7" cy="67.4" r="7.0" fill="url(#gPart)"/>
<circle cx="91.6" cy="68.8" r="7.4" fill="url(#gPart)"/>
<circle cx="105.1" cy="71.1" r="6.1" fill="url(#gPart)"/>
<circle cx="113.7" cy="80.3" r="7.3" fill="url(#gPart)"/>
<circle cx="125.9" cy="86.3" r="6.7" fill="url(#gPart)"/>
<circle cx="137.4" cy="80.7" r="6.8" fill="url(#gPart)"/>
<circle cx="141.8" cy="69.2" r="5.8" fill="url(#gPart)"/>
<circle cx="141.5" cy="54.9" r="6.4" fill="url(#gPart)"/>
<circle cx="139.9" cy="40.1" r="5.0" fill="url(#gPart)"/>
<circle cx="136.8" cy="31.3" r="5.2" fill="url(#gPart)"/>
<circle cx="139.7" cy="17.5" r="4.6" fill="url(#gPart)"/>
<circle cx="162.1" cy="175.4" r="7.2" fill="#343434"/>
<circle cx="145.3" cy="137.3" r="5.1" fill="#191919"/>
<circle cx="89.4" cy="215.0" r="8.3" fill="#313131"/>
<circle cx="160.9" cy="35.8" r="5.0" fill="#3e3e3e"/>
<circle cx="144.4" cy="160.9" r="6.2" fill="#2c2c2c"/>
<circle cx="94.0" cy="143.9" r="5.0" fill="#272727"/>
<circle cx="101.7" cy="77.4" r="7.9" fill="#2a2a2a"/>
<circle cx="97.1" cy="116.2" r="9.2" fill="#1a1a1a"/>
<circle cx="107.7" cy="138.3" r="5.1" fill="#171717"/>
<circle cx="71.8" cy="178.6" r="10.6" fill="#3a3a3a"/>
<circle cx="103.1" cy="87.5" r="8.1" fill="#2c2c2c"/>
<circle cx="225.9" cy="130.7" r="2.6" fill="#343434"/>
<circle cx="61.7" cy="163.4" r="3.9" fill="#2c2c2c"/>
<circle cx="143.1" cy="99.1" r="6.4" fill="#232323"/>
<circle cx="205.1" cy="110.4" r="7.5" fill="#2b2b2b"/>
<circle cx="134.7" cy="197.3" r="5.8" fill="#343434"/>
<circle cx="126.2" cy="117.8" r="9.4" fill="#191919"/>
<circle cx="91.8" cy="98.7" r="5.9" fill="#242424"/>
<circle cx="162.9" cy="120.3" r="7.0" fill="#1c1c1c"/>
<circle cx="87.8" cy="184.5" r="10.2" fill="#2d2d2d"/>
<circle cx="177.2" cy="157.7" r="7.1" fill="#292929"/>
<circle cx="179.3" cy="70.8" r="7.9" fill="#373737"/>
<circle cx="176.5" cy="73.7" r="10.7" fill="#333333"/>
<circle cx="153.1" cy="9.6" r="3.4" fill="#323232"/>
<circle cx="172.4" cy="112.1" r="9.9" fill="#2a2a2a"/>
<circle cx="199.1" cy="86.0" r="8.8" fill="#383838"/>
<circle cx="205.5" cy="86.5" r="8.9" fill="#3d3d3d"/>
<circle cx="232.7" cy="124.6" r="3.6" fill="#313131"/>
<circle cx="131.2" cy="164.0" r="9.3" fill="#282828"/>
<circle cx="66.6" cy="184.1" r="6.3" fill="#383838"/>
<circle cx="119.3" cy="148.6" r="9.6" fill="#222222"/>
<circle cx="182.7" cy="13.3" r="2.4" fill="#363636"/>
<circle cx="167.8" cy="56.7" r="9.1" fill="#363636"/>
<circle cx="39.1" cy="114.0" r="4.3" fill="#2e2e2e"/>
<circle cx="58.5" cy="79.0" r="6.1" fill="#2f2f2f"/>
<circle cx="37.7" cy="112.6" r="2.4" fill="#393939"/>
<circle cx="155.1" cy="61.0" r="10.4" fill="#272727"/>
<circle cx="206.2" cy="91.9" r="5.2" fill="#383838"/>
<circle cx="50.3" cy="130.8" r="7.0" fill="#343434"/>
<circle cx="118.9" cy="191.5" r="8.9" fill="#2c2c2c"/>
<circle cx="60.3" cy="142.3" r="8.4" fill="#373737"/>
<circle cx="104.5" cy="209.8" r="5.0" fill="#2f2f2f"/>
<circle cx="150.0" cy="146.6" r="5.8" fill="#242424"/>
<circle cx="218.9" cy="92.3" r="7.6" fill="#323232"/>
<circle cx="110.6" cy="225.2" r="8.8" fill="#393939"/>
<circle cx="135.3" cy="101.3" r="6.9" fill="#292929"/>
<circle cx="161.8" cy="107.7" r="6.8" fill="#2a2a2a"/>
<circle cx="142.9" cy="69.1" r="3.0" fill="#313131"/>
<circle cx="92.3" cy="145.0" r="7.8" fill="#272727"/>
<circle cx="158.0" cy="175.8" r="5.7" fill="#303030"/>
<circle cx="93.9" cy="128.1" r="7.0" fill="#1f1f1f"/>
<circle cx="142.4" cy="112.4" r="7.2" fill="#222222"/>
<circle cx="155.3" cy="15.3" r="6.5" fill="#363636"/>
<circle cx="145.7" cy="10.3" r="3.2" fill="#363636"/>
<circle cx="152.1" cy="167.8" r="8.8" fill="#282828"/>
<circle cx="223.2" cy="94.5" r="7.4" fill="#3d3d3d"/>
<circle cx="71.8" cy="74.3" r="7.8" fill="#2a2a2a"/>
<circle cx="60.4" cy="115.6" r="8.3" fill="#2f2f2f"/>
<circle cx="154.2" cy="191.3" r="5.4" fill="#2b2b2b"/>
<circle cx="170.7" cy="12.8" r="4.9" fill="#404040"/>
<circle cx="76.6" cy="153.6" r="10.7" fill="#2f2f2f"/>
<circle cx="58.7" cy="73.4" r="5.3" fill="#2f2f2f"/>
<circle cx="159.5" cy="101.0" r="6.0" fill="#272727"/>
<circle cx="42.4" cy="137.6" r="3.3" fill="#3c3c3c"/>
<circle cx="58.6" cy="105.0" r="6.9" fill="#323232"/>
<circle cx="133.8" cy="220.0" r="7.2" fill="#2f2f2f"/>
<circle cx="177.8" cy="41.3" r="8.8" fill="#373737"/>
<circle cx="222.9" cy="133.0" r="2.5" fill="#333333"/>
<circle cx="147.0" cy="64.7" r="6.8" fill="#2e2e2e"/>
<circle cx="108.8" cy="174.2" r="6.1" fill="#2d2d2d"/>
<circle cx="168.9" cy="26.4" r="9.0" fill="#303030"/>
<circle cx="56.6" cy="141.8" r="6.4" fill="#373737"/>
<circle cx="183.7" cy="19.2" r="4.9" fill="#3f3f3f"/>
<circle cx="174.4" cy="57.6" r="5.7" fill="#3d3d3d"/>
<circle cx="59.8" cy="148.8" r="7.0" fill="#2b2b2b"/>
<circle cx="100.8" cy="146.3" r="7.1" fill="#202020"/>
<circle cx="121.9" cy="200.3" r="8.1" fill="#333333"/>
<circle cx="151.6" cy="175.0" r="7.4" fill="#232323"/>
<circle cx="132.0" cy="179.6" r="5.0" fill="#292929"/>
<circle cx="120.9" cy="112.7" r="5.6" fill="#161616"/>
<circle cx="63.9" cy="92.0" r="7.3" fill="#373737"/>
<circle cx="225.9" cy="90.8" r="4.0" fill="#3a3a3a"/>
<circle cx="172.8" cy="114.1" r="10.7" fill="#212121"/>
<circle cx="171.7" cy="73.1" r="9.0" fill="#343434"/>
<circle cx="96.2" cy="113.2" r="6.7" fill="#272727"/>
<circle cx="182.2" cy="44.1" r="6.4" fill="#3a3a3a"/>
<circle cx="121.4" cy="228.4" r="5.0" fill="#2f2f2f"/>
<circle cx="195.2" cy="100.1" r="5.3" fill="#323232"/>
<circle cx="134.2" cy="219.4" r="5.3" fill="#323232"/>
<circle cx="137.9" cy="98.3" r="8.2" fill="#1a1a1a"/>
<circle cx="144.9" cy="216.1" r="6.0" fill="#3d3d3d"/>
<circle cx="144.4" cy="117.4" r="8.4" fill="#1b1b1b"/>
<circle cx="162.5" cy="171.7" r="7.1" fill="#282828"/>
<circle cx="125.3" cy="194.6" r="6.3" fill="#282828"/>
<circle cx="48.1" cy="104.3" r="3.9" fill="#2f2f2f"/>
<circle cx="90.8" cy="91.8" r="5.6" fill="#272727"/>
<circle cx="96.7" cy="177.8" r="8.3" fill="#333333"/>
<circle cx="151.9" cy="107.4" r="9.9" fill="#242424"/>
<circle cx="178.6" cy="67.8" r="9.9" fill="#303030"/>
<circle cx="173.3" cy="71.8" r="5.4" fill="#353535"/>
<circle cx="148.2" cy="13.2" r="5.3" fill="#303030"/>
<circle cx="105.8" cy="202.2" r="10.7" fill="#353535"/>
<circle cx="79.1" cy="104.4" r="7.2" fill="#262626"/>
<circle cx="50.4" cy="127.4" r="6.0" fill="#363636"/>
<circle cx="124.7" cy="220.0" r="9.8" fill="#303030"/>
<circle cx="97.3" cy="214.7" r="7.8" fill="#363636"/>
<circle cx="123.6" cy="181.2" r="10.6" fill="#2b2b2b"/>
<circle cx="152.3" cy="116.4" r="10.3" fill="#1e1e1e"/>
<circle cx="75.8" cy="69.9" r="3.4" fill="#333333"/>
<circle cx="105.8" cy="177.5" r="6.4" fill="#282828"/>
<circle cx="161.1" cy="98.0" r="5.9" fill="#2c2c2c"/>
<circle cx="72.4" cy="187.9" r="6.9" fill="#383838"/>
<circle cx="212.9" cy="148.4" r="4.6" fill="#343434"/>
<circle cx="32.3" cy="123.2" r="2.5" fill="#313131"/>
<circle cx="112.6" cy="79.0" r="3.2" fill="#252525"/>
<circle cx="111.2" cy="115.1" r="9.2" fill="#1c1c1c"/>
<circle cx="172.1" cy="128.8" r="9.8" fill="#242424"/>
<circle cx="155.9" cy="161.2" r="8.1" fill="#232323"/>
<circle cx="105.5" cy="138.7" r="9.6" fill="#232323"/>
<circle cx="95.1" cy="217.9" r="6.6" fill="#3b3b3b"/>
<circle cx="159.5" cy="54.4" r="8.1" fill="#3a3a3a"/>
<circle cx="145.4" cy="96.3" r="5.0" fill="#212121"/>
<circle cx="67.9" cy="155.3" r="10.4" fill="#363636"/>
<circle cx="160.1" cy="94.8" r="5.7" fill="#2a2a2a"/>
<circle cx="147.4" cy="169.4" r="7.2" fill="#2f2f2f"/>
<circle cx="75.2" cy="76.4" r="6.6" fill="#333333"/>
<circle cx="164.2" cy="181.0" r="4.6" fill="#272727"/>
<circle cx="150.0" cy="195.5" r="10.3" fill="#353535"/>
<circle cx="118.4" cy="103.6" r="8.2" fill="#262626"/>
<circle cx="94.2" cy="70.7" r="4.2" fill="#363636"/>
<circle cx="54.7" cy="134.7" r="8.6" fill="#2b2b2b"/>
<circle cx="70.5" cy="142.0" r="8.9" fill="#2f2f2f"/>
<circle cx="184.5" cy="20.9" r="5.2" fill="#3d3d3d"/>
<circle cx="210.2" cy="153.5" r="5.9" fill="#313131"/>
<circle cx="160.6" cy="30.8" r="9.5" fill="#3b3b3b"/>
<circle cx="73.9" cy="92.0" r="7.8" fill="#303030"/>
<circle cx="187.5" cy="26.0" r="5.5" fill="#383838"/>
<circle cx="156.6" cy="92.0" r="9.1" fill="#272727"/>
<circle cx="182.9" cy="74.2" r="5.7" fill="#323232"/>
<circle cx="105.2" cy="174.4" r="10.5" fill="#272727"/>
<circle cx="91.7" cy="120.2" r="9.2" fill="#292929"/>
<circle cx="152.1" cy="74.2" r="7.0" fill="#313131"/>
<circle cx="140.1" cy="18.4" r="3.1" fill="#323232"/>
<circle cx="171.2" cy="23.7" r="6.6" fill="#303030"/>
<circle cx="144.8" cy="94.7" r="10.6" fill="#1c1c1c"/>
<circle cx="105.5" cy="191.0" r="5.0" fill="#343434"/>
<circle cx="83.3" cy="111.0" r="7.3" fill="#272727"/>
<circle cx="236.5" cy="107.5" r="6.4" fill="#2f2f2f"/>
<circle cx="175.7" cy="122.3" r="5.3" fill="#262626"/>
<circle cx="195.0" cy="105.7" r="8.6" fill="#373737"/>
<circle cx="166.8" cy="151.3" r="5.2" fill="#1f1f1f"/>
<circle cx="193.1" cy="100.8" r="10.2" fill="#363636"/>
<circle cx="224.0" cy="92.9" r="6.9" fill="#3c3c3c"/>
<circle cx="195.5" cy="102.8" r="10.8" fill="#393939"/>
<circle cx="76.1" cy="102.7" r="6.6" fill="#2a2a2a"/>
<circle cx="90.9" cy="158.3" r="5.7" fill="#222222"/>
<circle cx="110.9" cy="210.7" r="10.3" fill="#303030"/>
<circle cx="189.8" cy="91.7" r="9.7" fill="#2a2a2a"/>
<circle cx="178.8" cy="27.4" r="5.7" fill="#393939"/>
<circle cx="109.6" cy="90.7" r="7.9" fill="#262626"/>
<circle cx="150.6" cy="66.7" r="8.3" fill="#323232"/>
<circle cx="58.5" cy="116.2" r="9.2" fill="#272727"/>
<circle cx="193.4" cy="102.1" r="8.0" fill="#323232"/>
<circle cx="111.8" cy="85.5" r="5.1" fill="#222222"/>
<circle cx="125.5" cy="155.7" r="10.5" fill="#1f1f1f"/>
<circle cx="142.4" cy="168.9" r="10.6" fill="#2f2f2f"/>
<circle cx="46.6" cy="108.9" r="6.4" fill="#353535"/>
<circle cx="112.5" cy="216.9" r="6.8" fill="#383838"/>
<circle cx="104.5" cy="119.2" r="8.4" fill="#1a1a1a"/>
<circle cx="85.9" cy="69.6" r="3.1" fill="#343434"/>
<circle cx="85.7" cy="195.2" r="8.8" fill="#323232"/>
<circle cx="163.3" cy="62.8" r="6.6" fill="#383838"/>
<circle cx="123.1" cy="210.7" r="6.1" fill="#2e2e2e"/>
<circle cx="149.0" cy="9.2" r="2.5" fill="#3d3d3d"/>
<circle cx="134.9" cy="204.8" r="5.2" fill="#353535"/>
<circle cx="159.6" cy="145.9" r="6.3" fill="#2c2c2c"/>
<circle cx="175.0" cy="28.1" r="5.4" fill="#363636"/>
<circle cx="182.8" cy="22.7" r="7.6" fill="#3d3d3d"/>
<circle cx="85.0" cy="74.8" r="5.0" fill="#333333"/>
<circle cx="139.4" cy="211.7" r="7.8" fill="#2f2f2f"/>
<circle cx="46.9" cy="103.5" r="2.6" fill="#373737"/>
<circle cx="134.2" cy="163.0" r="7.7" fill="#252525"/>
<circle cx="86.9" cy="119.1" r="8.2" fill="#2c2c2c"/>
<circle cx="147.8" cy="157.4" r="7.5" fill="#292929"/>
<circle cx="105.9" cy="209.0" r="6.6" fill="#383838"/>
<circle cx="164.0" cy="198.7" r="3.3" fill="#2c2c2c"/>
<circle cx="164.9" cy="171.3" r="4.9" fill="#2a2a2a"/>
<circle cx="117.1" cy="204.4" r="5.4" fill="#2f2f2f"/>
<circle cx="149.8" cy="72.8" r="5.6" fill="#2c2c2c"/>
<circle cx="192.9" cy="33.1" r="3.9" fill="#2f2f2f"/>
<circle cx="139.2" cy="215.4" r="7.3" fill="#393939"/>
<circle cx="201.9" cy="127.1" r="5.8" fill="#292929"/>
<circle cx="229.0" cy="112.8" r="7.7" fill="#3e3e3e"/>
<circle cx="151.7" cy="120.5" r="6.7" fill="#242424"/>
<circle cx="84.4" cy="113.8" r="9.6" fill="#282828"/>
<circle cx="49.2" cy="108.3" r="7.7" fill="#3a3a3a"/>
<circle cx="64.7" cy="165.6" r="5.6" fill="#333333"/>
<circle cx="83.5" cy="87.9" r="5.3" fill="#2f2f2f"/>
<circle cx="101.4" cy="141.3" r="8.8" fill="#212121"/>
<circle cx="89.9" cy="82.8" r="10.3" fill="#242424"/>
<circle cx="119.1" cy="101.1" r="10.9" fill="#191919"/>
<circle cx="210.8" cy="157.1" r="2.1" fill="#3d3d3d"/>
<circle cx="173.3" cy="84.1" r="9.4" fill="#2d2d2d"/>
<circle cx="180.8" cy="146.5" r="9.8" fill="#252525"/>
<circle cx="143.5" cy="115.6" r="5.7" fill="#181818"/>
<circle cx="80.6" cy="195.2" r="8.9" fill="#323232"/>
<circle cx="166.7" cy="59.0" r="6.6" fill="#2a2a2a"/>
<circle cx="169.2" cy="139.0" r="9.5" fill="#262626"/>
<circle cx="185.9" cy="91.6" r="8.6" fill="#343434"/>
<circle cx="124.3" cy="162.8" r="5.4" fill="#1f1f1f"/>
<circle cx="192.4" cy="31.1" r="4.2" fill="#363636"/>
<circle cx="200.2" cy="115.2" r="8.1" fill="#292929"/>
<circle cx="162.2" cy="196.5" r="5.3" fill="#373737"/>
<circle cx="210.4" cy="147.1" r="5.1" fill="#3c3c3c"/>
<circle cx="51.4" cy="90.8" r="4.0" fill="#2f2f2f"/>
<circle cx="93.7" cy="172.4" r="7.3" fill="#252525"/>
<circle cx="176.1" cy="56.3" r="7.4" fill="#343434"/>
<circle cx="126.7" cy="181.3" r="9.2" fill="#313131"/>
<circle cx="198.1" cy="101.5" r="9.0" fill="#343434"/>
<circle cx="70.9" cy="128.1" r="10.0" fill="#282828"/>
</g>
<ellipse cx="128.0" cy="126.0" rx="55.0" ry="48.0" fill="url(#sb1)"/>
<mask id="mCl" maskUnits="userSpaceOnUse" x="0" y="0" width="310" height="240"><polygon points="142.0,9.0 160.0,7.0 183.0,12.0 195.0,30.0 198.6,65.5 183.3,83.4 200.0,78.0 216.4,80.8 232.0,92.0 241.9,106.3 236.8,124.2 219.0,137.0 213.9,157.3 196.0,160.0 183.3,160.0 168.0,172.7 165.4,203.3 150.0,218.0 134.8,228.8 115.0,234.0 96.5,228.8 78.0,215.0 63.4,198.2 58.3,154.8 43.0,142.0 30.2,121.6 40.0,108.0 48.0,101.2 50.6,70.6 71.0,68.0 96.5,68.0 110.0,74.0 120.0,84.0 132.0,87.0 141.0,77.0 142.0,60.0 140.0,47.7 136.0,25.0" fill="#fff" filter="url(#blur4)"/></mask>
<rect x="3" y="6" width="300" height="228" fill="#000" filter="url(#noiseD)" mask="url(#mCl)" opacity="0.35"/>
<rect x="3" y="6" width="300" height="228" fill="#fff" filter="url(#noiseL)" mask="url(#mCl)" opacity="0.12"/>
<g fill="#a4a4a4" filter="url(#blur1)" opacity="0.8"><ellipse cx="89" cy="110" rx="3.5" ry="12" transform="rotate(10 89 110)"/><ellipse cx="77" cy="133" rx="7" ry="3"/><ellipse cx="110" cy="181" rx="6" ry="4" transform="rotate(-30 110 181)"/><ellipse cx="160" cy="62" rx="4" ry="2.5"/><ellipse cx="202" cy="129" rx="4" ry="2.5"/><ellipse cx="148" cy="170" rx="3.5" ry="2.5"/><ellipse cx="150" cy="110" rx="2.5" ry="2"/></g>
<circle opacity="0.5" cx="128.2" cy="91.7" r="2.3" fill="#191919"/>
<circle opacity="0.5" cx="101.8" cy="112.3" r="3.5" fill="#464646"/>
<circle opacity="0.5" cx="147.5" cy="147.0" r="2.1" fill="#5f5f5f"/>
<circle opacity="0.5" cx="231.6" cy="102.9" r="2.4" fill="#191919"/>
<circle opacity="0.5" cx="53.7" cy="121.9" r="4.3" fill="#191919"/>
<circle opacity="0.5" cx="194.1" cy="94.1" r="3.9" fill="#191919"/>
<circle opacity="0.5" cx="77.7" cy="187.0" r="4.2" fill="#464646"/>
<circle opacity="0.5" cx="223.1" cy="97.0" r="2.9" fill="#191919"/>
<circle opacity="0.5" cx="120.1" cy="212.8" r="2.3" fill="#191919"/>
<circle opacity="0.5" cx="55.9" cy="138.4" r="4.2" fill="#1e1e1e"/>
<circle opacity="0.5" cx="100.1" cy="209.6" r="2.3" fill="#191919"/>
<circle opacity="0.5" cx="136.2" cy="137.1" r="3.3" fill="#1e1e1e"/>
<circle opacity="0.5" cx="119.1" cy="97.4" r="3.6" fill="#191919"/>
<circle opacity="0.5" cx="178.6" cy="40.0" r="4.3" fill="#191919"/>
<circle opacity="0.5" cx="41.7" cy="133.0" r="3.5" fill="#1e1e1e"/>
<circle opacity="0.5" cx="152.0" cy="14.8" r="4.2" fill="#5f5f5f"/>
<circle opacity="0.5" cx="159.6" cy="16.8" r="2.9" fill="#191919"/>
<circle opacity="0.5" cx="216.9" cy="90.0" r="2.5" fill="#1e1e1e"/>
<circle opacity="0.5" cx="99.8" cy="105.4" r="2.5" fill="#5f5f5f"/>
<circle opacity="0.5" cx="87.3" cy="191.9" r="2.8" fill="#464646"/>
<circle opacity="0.5" cx="201.2" cy="119.9" r="3.8" fill="#1e1e1e"/>
<circle opacity="0.5" cx="150.0" cy="22.0" r="3.6" fill="#191919"/>
<circle opacity="0.5" cx="234.3" cy="98.0" r="2.9" fill="#464646"/>
<circle opacity="0.5" cx="59.7" cy="72.9" r="3.7" fill="#464646"/>
<circle opacity="0.5" cx="125.6" cy="185.6" r="2.7" fill="#191919"/>
<circle opacity="0.5" cx="60.0" cy="134.6" r="2.3" fill="#191919"/>
<circle opacity="0.5" cx="188.4" cy="74.2" r="2.3" fill="#5f5f5f"/>
<circle opacity="0.5" cx="125.8" cy="166.8" r="3.9" fill="#5f5f5f"/>
<circle opacity="0.5" cx="154.7" cy="189.2" r="3.7" fill="#464646"/>
<circle opacity="0.5" cx="40.5" cy="127.0" r="2.4" fill="#191919"/>
<circle opacity="0.5" cx="64.5" cy="186.3" r="4.0" fill="#1e1e1e"/>
<circle opacity="0.5" cx="67.4" cy="110.7" r="3.4" fill="#5f5f5f"/>
<circle opacity="0.5" cx="47.8" cy="131.5" r="3.5" fill="#464646"/>
<circle opacity="0.5" cx="143.6" cy="220.7" r="2.1" fill="#5f5f5f"/>
<circle opacity="0.5" cx="145.4" cy="125.8" r="3.3" fill="#191919"/>
<circle opacity="0.5" cx="216.0" cy="137.3" r="4.4" fill="#191919"/>
<circle opacity="0.5" cx="126.2" cy="118.3" r="3.6" fill="#191919"/>
<circle opacity="0.5" cx="173.9" cy="13.6" r="2.6" fill="#5f5f5f"/>
<circle opacity="0.5" cx="79.1" cy="193.8" r="3.8" fill="#5f5f5f"/>
<circle opacity="0.5" cx="156.6" cy="146.2" r="3.7" fill="#5f5f5f"/>
<circle opacity="0.5" cx="154.8" cy="25.3" r="2.1" fill="#1e1e1e"/>
<circle opacity="0.5" cx="162.4" cy="131.2" r="3.2" fill="#191919"/>
<circle opacity="0.5" cx="100.9" cy="184.7" r="2.0" fill="#5f5f5f"/>
<circle opacity="0.5" cx="52.7" cy="86.2" r="2.6" fill="#1e1e1e"/>
<circle opacity="0.5" cx="109.0" cy="175.2" r="3.2" fill="#1e1e1e"/>
<circle opacity="0.5" cx="108.4" cy="151.1" r="2.6" fill="#464646"/>
<circle opacity="0.5" cx="140.2" cy="101.7" r="4.2" fill="#5f5f5f"/>
<circle opacity="0.5" cx="210.5" cy="144.4" r="2.6" fill="#191919"/>
<circle opacity="0.5" cx="174.4" cy="37.0" r="2.1" fill="#1e1e1e"/>
<circle opacity="0.5" cx="158.1" cy="118.6" r="2.9" fill="#5f5f5f"/>
<circle opacity="0.5" cx="93.9" cy="112.9" r="4.3" fill="#5f5f5f"/>
<circle opacity="0.5" cx="115.3" cy="80.8" r="2.4" fill="#191919"/>
<circle opacity="0.5" cx="70.1" cy="168.5" r="3.6" fill="#1e1e1e"/>
<circle opacity="0.5" cx="172.1" cy="94.4" r="3.7" fill="#464646"/>
<circle opacity="0.5" cx="199.4" cy="121.0" r="3.2" fill="#191919"/>
<circle opacity="0.5" cx="90.5" cy="128.1" r="2.2" fill="#191919"/>
<circle opacity="0.5" cx="177.0" cy="122.7" r="4.0" fill="#5f5f5f"/>
<circle opacity="0.5" cx="167.6" cy="96.8" r="4.2" fill="#1e1e1e"/>
<circle opacity="0.5" cx="137.9" cy="88.1" r="4.4" fill="#1e1e1e"/>
<circle opacity="0.5" cx="98.0" cy="94.4" r="2.5" fill="#1e1e1e"/>
<rect x="3" y="6" width="300" height="228" fill="#000" filter="url(#grain)" opacity="0.25"/>
</g>
<text x="22.6" y="46.6" font-size="32" fill="#fff" textLength="14.6" lengthAdjust="spacingAndGlyphs">a</text>
<text x="217.7" y="190.6" font-size="23.5" fill="#fff" textLength="70.7" lengthAdjust="spacingAndGlyphs">200 nm</text>
<rect x="234" y="200.8" width="37.7" height="4.9" fill="#fff"/>
<text x="19.5" y="220.7" font-size="24" fill="#ff1010" textLength="164.0" lengthAdjust="spacingAndGlyphs">Without additive</text>
<g clip-path="url(#cpB)">
<rect x="307" y="6" width="305" height="230" fill="#909090"/>
<rect x="307" y="6" width="305" height="230" fill="#000" filter="url(#grain)" opacity="0.3"/>
<polygon points="520,100 560,110 611,150 611,236 545,236 553,194 545,140" fill="url(#fringe2)" opacity="0.25"/>
<mask id="mCr" maskUnits="userSpaceOnUse" x="300" y="0" width="320" height="240"><polygon points="307.0,6.0 466.0,6.0 488.0,62.0 504.0,86.0 528.0,115.0 538.0,136.0 549.0,170.0 554.0,194.0 548.0,236.0 406.0,236.0 376.0,193.0 307.0,138.0" fill="#fff" filter="url(#blur2)"/><polygon points="307.0,6.0 473.0,6.0 495.0,62.0 511.0,86.0 535.0,115.0 545.0,136.0 556.0,170.0 561.0,194.0 555.0,236.0 413.0,236.0 376.0,193.0 307.0,138.0" fill="#fff" opacity="0.35" filter="url(#blur4)"/></mask>
<rect x="307" y="6" width="305" height="230" fill="url(#fringe)" mask="url(#mCr)"/>
<g filter="url(#blur4)"><path d="M330,80 C370,120 420,170 470,236" stroke="#3a3a3a" stroke-width="18" fill="none" opacity="0.35"/><path d="M400,6 C430,60 460,110 500,200" stroke="#404040" stroke-width="10" fill="none" opacity="0.3"/><path d="M470,6 C485,50 505,95 548,170" stroke="#d8d8d8" stroke-width="16" fill="none" opacity="0.3"/><path d="M318,150 C350,175 380,200 410,236" stroke="#a0a0a0" stroke-width="10" fill="none" opacity="0.35"/></g>
<rect x="307" y="6" width="120" height="110" fill="#666" filter="url(#tex2)" mask="url(#mB)" opacity="0.85"/>
</g>
<text x="330.6" y="47.2" font-size="30" fill="#fff" textLength="16.5" lengthAdjust="spacingAndGlyphs">b</text>
<text x="420.8" y="83.2" font-size="23.5" fill="#f2b50a" textLength="76.4" lengthAdjust="spacingAndGlyphs">0.24 nm</text>
<text x="435.0" y="111.2" font-size="23" fill="#f2b50a" textLength="48.0" lengthAdjust="spacingAndGlyphs">(100)</text>
<g stroke="#f2b50a" stroke-width="1.5" fill="none"><line x1="374.1" y1="101.2" x2="398.4" y2="80.8"/><line x1="376.7" y1="104.4" x2="400.4" y2="83.7"/></g>
<g stroke="#f2b50a" stroke-width="1.6"><line x1="364.2" y1="73.2" x2="378" y2="84.5"/><line x1="409.6" y1="111.7" x2="396.5" y2="100.2"/></g>
<g fill="#f2b50a"><polygon points="384,89.4 374.8,86.3 379.2,80.9"/><polygon points="390.8,95.2 399.9,98.5 395.3,103.7"/></g>
<text x="535.1" y="190.7" font-size="21.3" fill="#fff" textLength="46.2" lengthAdjust="spacingAndGlyphs">5 nm</text>
<rect x="518.4" y="205" width="77.3" height="4.9" fill="#fff"/>
<text x="317.1" y="221.0" font-size="24.5" fill="#ff1010" textLength="164.1" lengthAdjust="spacingAndGlyphs">Without additive</text>
<g clip-path="url(#cpC)">
<rect x="618" y="9" width="300" height="226" fill="#a6a6a6"/>
<polygon points="618,9 618,18 660,26 700,38 735,55 740,40 700,20 650,9" fill="#b2b2b2"/>
<polygon points="618,18 660,26 700,38 740,56 800,95 830,125 858,165 876,200 890,235 618,235" fill="#bcbcbc"/>
<path d="M618,36 C650,42 690,54 717,76 L796,100 L858,192 C866,205 874,218 879,235 L618,235Z" fill="#e7e7e7"/>
<polygon points="715.5,60.7 722.0,50.0 735.0,40.0 743.8,38.3 760.0,40.0 779.3,46.5 788.0,62.0 792.0,80.0 795.8,89.1 793.5,98.6 810.0,117.0 826.6,136.4 848.0,162.0 866.8,190.8 862.0,200.0 840.0,199.0 820.0,197.0 798.0,195.5 770.0,194.0 739.0,195.5 725.0,202.0 710.0,200.0 694.2,195.5 684.7,181.3 684.0,150.0 688.0,120.0 691.8,98.6 700.0,88.0 712.0,70.0" fill="url(#gPc)" filter="url(#blur2)"/>
<ellipse cx="735.0" cy="112.0" rx="38.0" ry="30.0" fill="url(#sb2)"/>
<ellipse cx="758.0" cy="145.0" rx="38.0" ry="26.0" fill="url(#sb3)" transform="rotate(30 758 145)"/>
<ellipse cx="752.0" cy="65.0" rx="30.0" ry="22.0" fill="url(#sb4)"/>
<ellipse cx="708.0" cy="174.0" rx="34.0" ry="26.0" fill="url(#sb5)"/>
<ellipse cx="760.0" cy="188.0" rx="30.0" ry="12.0" fill="url(#sb6)"/>
<ellipse cx="845.0" cy="188.0" rx="16.0" ry="7.0" fill="url(#sb7)" transform="rotate(35 845 188)"/>
<rect x="618" y="9" width="300" height="226" fill="#000" filter="url(#grain)" opacity="0.12"/>
</g>
<text x="638.1" y="41.3" font-size="31" fill="#fff" textLength="12.6" lengthAdjust="spacingAndGlyphs">c</text>
<text x="832.9" y="197.1" font-size="23" fill="#fff" textLength="70.6" lengthAdjust="spacingAndGlyphs">200 nm</text>
<rect x="848.2" y="211" width="38.6" height="5" fill="#fff"/>
<text x="634.4" y="223.7" font-size="24.5" fill="#ff1010" textLength="150.4" lengthAdjust="spacingAndGlyphs">With 0.1 M PPi</text>
<g clip-path="url(#cpD)">
<rect x="927" y="8" width="301" height="226" fill="#777" filter="url(#tex)"/>
<path d="M1228.0,86.0 C1225.0,88.7 1216.0,96.3 1210.0,102.0 C1204.0,107.7 1197.7,114.3 1192.0,120.0 C1186.3,125.7 1181.0,130.7 1176.0,136.0 C1171.0,141.3 1166.3,146.7 1162.0,152.0 C1157.7,157.3 1153.7,162.7 1150.0,168.0 C1146.3,173.3 1143.7,178.8 1140.0,184.0 C1136.3,189.2 1134.0,194.8 1128.0,199.0 C1122.0,203.2 1113.7,206.5 1104.0,209.0 C1094.3,211.5 1082.3,212.8 1070.0,214.0 C1057.7,215.2 1053.8,215.7 1030.0,216.0 C1006.2,216.3 944.2,216.0 927.0,216.0 L927,234 L1228,234Z" fill="#a9a9a9"/>
<path d="M1228.0,86.0 C1225.0,88.7 1216.0,96.3 1210.0,102.0 C1204.0,107.7 1197.7,114.3 1192.0,120.0 C1186.3,125.7 1181.0,130.7 1176.0,136.0 C1171.0,141.3 1166.3,146.7 1162.0,152.0 C1157.7,157.3 1153.7,162.7 1150.0,168.0 C1146.3,173.3 1143.7,178.8 1140.0,184.0 C1136.3,189.2 1134.0,194.8 1128.0,199.0 C1122.0,203.2 1113.7,206.5 1104.0,209.0 C1094.3,211.5 1082.3,212.8 1070.0,214.0 C1057.7,215.2 1053.8,215.7 1030.0,216.0 C1006.2,216.3 944.2,216.0 927.0,216.0 L927,234 L1228,234Z" fill="#000" filter="url(#grain)" opacity="0.3"/>
<path d="M1234.0,92.0 C1231.0,94.7 1222.0,102.3 1216.0,108.0 C1210.0,113.7 1203.7,120.3 1198.0,126.0 C1192.3,131.7 1187.0,136.7 1182.0,142.0 C1177.0,147.3 1172.3,152.7 1168.0,158.0 C1163.7,163.3 1159.7,168.7 1156.0,174.0 C1152.3,179.3 1149.7,184.8 1146.0,190.0 C1142.3,195.2 1140.0,200.8 1134.0,205.0 C1128.0,209.2 1119.7,212.5 1110.0,215.0 C1100.3,217.5 1088.3,218.8 1076.0,220.0 C1063.7,221.2 1059.8,221.7 1036.0,222.0 C1012.2,222.3 950.2,222.0 933.0,222.0" fill="none" stroke="#888" stroke-width="12" filter="url(#tex)" opacity="0.45"/>
<path d="M1228.0,86.0 C1225.0,88.7 1216.0,96.3 1210.0,102.0 C1204.0,107.7 1197.7,114.3 1192.0,120.0 C1186.3,125.7 1181.0,130.7 1176.0,136.0 C1171.0,141.3 1166.3,146.7 1162.0,152.0 C1157.7,157.3 1153.7,162.7 1150.0,168.0 C1146.3,173.3 1143.7,178.8 1140.0,184.0 C1136.3,189.2 1134.0,194.8 1128.0,199.0 C1122.0,203.2 1113.7,206.5 1104.0,209.0 C1094.3,211.5 1082.3,212.8 1070.0,214.0 C1057.7,215.2 1053.8,215.7 1030.0,216.0 C1006.2,216.3 944.2,216.0 927.0,216.0" fill="none" stroke="#555" stroke-width="4" opacity="0.35" filter="url(#blur1)"/>
<path d="M1239.0,97.0 C1236.0,99.7 1227.0,107.3 1221.0,113.0 C1215.0,118.7 1208.7,125.3 1203.0,131.0 C1197.3,136.7 1192.0,141.7 1187.0,147.0 C1182.0,152.3 1177.3,157.7 1173.0,163.0 C1168.7,168.3 1164.7,173.7 1161.0,179.0 C1157.3,184.3 1154.7,189.8 1151.0,195.0 C1147.3,200.2 1145.0,205.8 1139.0,210.0 C1133.0,214.2 1124.7,217.5 1115.0,220.0 C1105.3,222.5 1093.3,223.8 1081.0,225.0 C1068.7,226.2 1064.8,226.7 1041.0,227.0 C1017.2,227.3 955.2,227.0 938.0,227.0" fill="none" stroke="#c4c4c4" stroke-width="2" opacity="0.45" filter="url(#blur1)"/>
</g>
<text x="953.6" y="50.0" font-size="30.5" fill="#fff" textLength="15.1" lengthAdjust="spacingAndGlyphs">d</text>
<g fill="none" stroke="#f2b50a" stroke-width="1.7" stroke-dasharray="3.2 1.2">
<circle cx="1004.2" cy="49.1" r="4.9"/>
<circle cx="1015" cy="66.1" r="4.9"/>
<circle cx="1112" cy="27.5" r="4.9"/>
<circle cx="990.8" cy="100.6" r="4.9"/>
<circle cx="1039.8" cy="103" r="4.9"/>
<circle cx="955.2" cy="136.5" r="4.9"/>
<circle cx="1007.1" cy="137.7" r="4.9"/>
</g>
<g fill="none" stroke="#f2b50a" stroke-width="1.6" stroke-dasharray="4.5 2.8"><path d="M1010,48.5 L1031,48.3 M1021,66.5 L1038,67"/><path d="M1109.5,32.5 L1103,47"/></g>
<g fill="#f2b50a"><polygon points="1043.9,47.9 1029.2,43.8 1033.2,48.1 1029.2,52.5"/><polygon points="1050.7,67.8 1036.5,62.7 1040.5,67.2 1036.5,71.8"/><polygon points="1099,54.2 1100.7,39.4 1103.5,43.5 1109.7,42.8"/></g>
<text x="1050.6" y="78.2" font-size="26.5" fill="#f2b50a" textLength="173.4" lengthAdjust="spacingAndGlyphs">Lattice vacancy</text>
<text x="1146.1" y="193.6" font-size="22.5" fill="#fff" textLength="47.1" lengthAdjust="spacingAndGlyphs">5 nm</text>
<rect x="1133.3" y="208.4" width="77.2" height="4.6" fill="#fff"/>
<text x="950.5" y="223.7" font-size="24.5" fill="#ff1010" textLength="150.0" lengthAdjust="spacingAndGlyphs">With 0.1 M PPi</text>
<g clip-path="url(#cpG1)">
<rect x="8" y="502.5" width="142.5" height="122" fill="#060606"/>
<path d="M8.0,502.5 L87.0,502.5 L91.2,512.5 L104.7,516.5 L120.3,525.5 L130.7,537.5 L132.8,548.5 L127.6,558.5 L112.0,566.5 L91.2,574.5 L76.6,585.5 L54.8,605.5 L39.2,624.5 L8.0,624.5Z" fill="#666" filter="url(#blur2)"/>
<ellipse cx="14.0" cy="508.5" rx="36.0" ry="22.0" fill="url(#sb8)"/>
<ellipse cx="44.0" cy="535.5" rx="34.0" ry="12.0" fill="url(#sb9)"/>
<ellipse cx="80.0" cy="523.5" rx="21.0" ry="23.0" fill="url(#sb10)"/>
<ellipse cx="114.0" cy="546.5" rx="22.0" ry="30.0" fill="url(#sb11)"/>
<ellipse cx="38.0" cy="570.5" rx="30.0" ry="30.0" fill="url(#sb12)"/>
<ellipse cx="24.0" cy="612.5" rx="18.0" ry="18.0" fill="url(#sb13)"/>
<path d="M8.0,502.5 L87.0,502.5 L91.2,512.5 L104.7,516.5 L120.3,525.5 L130.7,537.5 L132.8,548.5 L127.6,558.5 L112.0,566.5 L91.2,574.5 L76.6,585.5 L54.8,605.5 L39.2,624.5 L8.0,624.5Z" fill="#000" filter="url(#speck)" opacity="0.2"/>
</g>
<text x="20.1" y="539.3" font-size="32" fill="#fff" textLength="15.6" lengthAdjust="spacingAndGlyphs">g</text>
<text x="71.2" y="597.4" font-size="23" fill="#fff" textLength="70.3" lengthAdjust="spacingAndGlyphs">250 nm</text>
<rect x="90.3" y="608.1" width="35.6" height="4.6" fill="#fff"/>
<g clip-path="url(#cpG2)">
<rect x="159.4" y="502.5" width="140" height="122" fill="#000"/>
<path d="M160.4,502.5 L236.4,502.5 L240.4,512.5 L253.4,516.5 L268.4,525.5 L278.4,537.5 L280.4,548.5 L275.4,558.5 L260.4,566.5 L240.4,574.5 L226.4,585.5 L205.4,605.5 L190.4,624.5 L160.4,624.5Z" fill="#c40808" filter="url(#blur1)"/>
<ellipse cx="239.4" cy="537.5" rx="30.0" ry="30.0" fill="url(#sb14)"/>
<ellipse cx="179.4" cy="517.5" rx="25.0" ry="18.0" fill="url(#sb15)"/>
<path d="M160.4,502.5 L236.4,502.5 L240.4,512.5 L253.4,516.5 L268.4,525.5 L278.4,537.5 L280.4,548.5 L275.4,558.5 L260.4,566.5 L240.4,574.5 L226.4,585.5 L205.4,605.5 L190.4,624.5 L160.4,624.5Z" fill="#000" filter="url(#speck)" opacity="0.5"/>
</g>
<text x="255.3" y="611.7" font-size="25.5" fill="#fff" textLength="36.2" lengthAdjust="spacingAndGlyphs">Mn</text>
<g clip-path="url(#cpG3)">
<rect x="8.5" y="632.4" width="142" height="122" fill="#403c00"/>
<rect x="8.5" y="632.4" width="142" height="122" fill="#000" filter="url(#speck)" opacity="0.75"/>
<path d="M9.5,632.4 L85.5,632.4 L89.5,642.4 L102.5,646.4 L117.5,655.4 L127.5,667.4 L129.5,678.4 L124.5,688.4 L109.5,696.4 L89.5,704.4 L75.5,715.4 L54.5,735.4 L39.5,754.4 L9.5,754.4Z" fill="#cac400" filter="url(#blur1)"/>
<ellipse cx="78.5" cy="664.4" rx="30.0" ry="26.0" fill="url(#sb16)"/>
<path d="M9.5,632.4 L85.5,632.4 L89.5,642.4 L102.5,646.4 L117.5,655.4 L127.5,667.4 L129.5,678.4 L124.5,688.4 L109.5,696.4 L89.5,704.4 L75.5,715.4 L54.5,735.4 L39.5,754.4 L9.5,754.4Z" fill="#000" filter="url(#speck)" opacity="0.35"/>
<rect x="8.5" y="632.4" width="4" height="122" fill="#000" opacity="0.8"/>
</g>
<text x="120.4" y="742.5" font-size="26.5" fill="#fff" textLength="19.0" lengthAdjust="spacingAndGlyphs">O</text>
<g clip-path="url(#cpG4)">
<rect x="159.5" y="632.8" width="140" height="122" fill="#000"/>
<rect x="159.5" y="632.8" width="140" height="122" fill="#0c8a18" filter="url(#speckS)" opacity="0.8"/>
<path d="M160.5,634.8 L236.5,634.8 L240.5,644.8 L253.5,648.8 L268.5,657.8 L278.5,669.8 L280.5,680.8 L275.5,690.8 L260.5,698.8 L240.5,706.8 L226.5,717.8 L205.5,737.8 L190.5,756.8 L160.5,756.8Z" fill="#00a810" filter="url(#blur1)"/>
<ellipse cx="231.5" cy="664.8" rx="28.0" ry="24.0" fill="url(#sb17)"/>
<path d="M160.5,634.8 L236.5,634.8 L240.5,644.8 L253.5,648.8 L268.5,657.8 L278.5,669.8 L280.5,680.8 L275.5,690.8 L260.5,698.8 L240.5,706.8 L226.5,717.8 L205.5,737.8 L190.5,756.8 L160.5,756.8Z" fill="#000" filter="url(#speck)" opacity="0.5"/>
</g>
<text x="265.9" y="739.3" font-size="26.5" fill="#fff" textLength="15.4" lengthAdjust="spacingAndGlyphs">P</text>
<rect x="323.3" y="507.9" width="350.7" height="248.2" fill="url(#jBlue)"/>
<rect x="674" y="507.6" width="196" height="248" fill="url(#jMid)"/>
<rect x="870" y="508.5" width="349.5" height="246.5" fill="url(#jPink)"/>
<rect x="323.3" y="507.9" width="350.7" height="248.2" fill="none" stroke="#1f7fd0" stroke-width="2.1" stroke-dasharray="8.9 6.3"/>
<rect x="870" y="508.5" width="349.5" height="246.5" fill="none" stroke="#ee1c24" stroke-width="2.1" stroke-dasharray="8.9 6.2"/>
<text x="307.6" y="524.6" font-size="31" fill="#000">j</text>
<text x="332.2" y="529.4" font-size="18.5" fill="#2a7fd0" textLength="136.6" lengthAdjust="spacingAndGlyphs">Without additive</text>
<text x="340.9" y="570.0" font-size="14.5" fill="#222" textLength="91.1" lengthAdjust="spacingAndGlyphs">[Mn (H<tspan font-size="9.5" dy="2.5">2</tspan><tspan dy="-2.5">O)</tspan><tspan font-size="9.5" dy="2.5">6</tspan><tspan dy="-2.5">]</tspan><tspan font-size="9.5" dy="-6">2+</tspan></text>
<line x1="386.6" y1="603.9" x2="392.5" y2="597.4" stroke="#f0c4c4" stroke-width="1.7"/><line x1="386.6" y1="603.9" x2="390.7" y2="611.7" stroke="#f0c4c4" stroke-width="1.7"/><circle cx="392.5" cy="597.4" r="2.0" fill="url(#gWh)" stroke="#e8b0b0" stroke-width="0.5"/><circle cx="390.7" cy="611.7" r="2.0" fill="url(#gWh)" stroke="#e8b0b0" stroke-width="0.5"/><circle cx="386.6" cy="603.9" r="3.3" fill="url(#gRd)"/>
<line x1="378.6" y1="616.6" x2="387.2" y2="618.5" stroke="#f0c4c4" stroke-width="1.7"/><line x1="378.6" y1="616.6" x2="374.0" y2="624.1" stroke="#f0c4c4" stroke-width="1.7"/><circle cx="387.2" cy="618.5" r="2.0" fill="url(#gWh)" stroke="#e8b0b0" stroke-width="0.5"/><circle cx="374.0" cy="624.1" r="2.0" fill="url(#gWh)" stroke="#e8b0b0" stroke-width="0.5"/><circle cx="378.6" cy="616.6" r="3.3" fill="url(#gRd)"/>
<line x1="363.7" y1="616.1" x2="366.4" y2="624.5" stroke="#f0c4c4" stroke-width="1.7"/><line x1="363.7" y1="616.1" x2="354.9" y2="615.8" stroke="#f0c4c4" stroke-width="1.7"/><circle cx="366.4" cy="624.5" r="2.0" fill="url(#gWh)" stroke="#e8b0b0" stroke-width="0.5"/><circle cx="354.9" cy="615.8" r="2.0" fill="url(#gWh)" stroke="#e8b0b0" stroke-width="0.5"/><circle cx="363.7" cy="616.1" r="3.3" fill="url(#gRd)"/>
<line x1="356.6" y1="602.9" x2="350.7" y2="609.4" stroke="#f0c4c4" stroke-width="1.7"/><line x1="356.6" y1="602.9" x2="352.5" y2="595.1" stroke="#f0c4c4" stroke-width="1.7"/><circle cx="350.7" cy="609.4" r="2.0" fill="url(#gWh)" stroke="#e8b0b0" stroke-width="0.5"/><circle cx="352.5" cy="595.1" r="2.0" fill="url(#gWh)" stroke="#e8b0b0" stroke-width="0.5"/><circle cx="356.6" cy="602.9" r="3.3" fill="url(#gRd)"/>
<line x1="364.6" y1="590.2" x2="356.0" y2="588.3" stroke="#f0c4c4" stroke-width="1.7"/><line x1="364.6" y1="590.2" x2="369.2" y2="582.7" stroke="#f0c4c4" stroke-width="1.7"/><circle cx="356.0" cy="588.3" r="2.0" fill="url(#gWh)" stroke="#e8b0b0" stroke-width="0.5"/><circle cx="369.2" cy="582.7" r="2.0" fill="url(#gWh)" stroke="#e8b0b0" stroke-width="0.5"/><circle cx="364.6" cy="590.2" r="3.3" fill="url(#gRd)"/>
<line x1="379.5" y1="590.7" x2="376.8" y2="582.3" stroke="#f0c4c4" stroke-width="1.7"/><line x1="379.5" y1="590.7" x2="388.3" y2="591.0" stroke="#f0c4c4" stroke-width="1.7"/><circle cx="376.8" cy="582.3" r="2.0" fill="url(#gWh)" stroke="#e8b0b0" stroke-width="0.5"/><circle cx="388.3" cy="591.0" r="2.0" fill="url(#gWh)" stroke="#e8b0b0" stroke-width="0.5"/><circle cx="379.5" cy="590.7" r="3.3" fill="url(#gRd)"/>
<circle cx="371.6" cy="603.4" r="4.7" fill="url(#gPu)"/>
<line x1="451.4" y1="592.5" x2="457.3" y2="586.0" stroke="#f0c4c4" stroke-width="1.7"/><line x1="451.4" y1="592.5" x2="455.5" y2="600.3" stroke="#f0c4c4" stroke-width="1.7"/><circle cx="457.3" cy="586.0" r="2.0" fill="url(#gWh)" stroke="#e8b0b0" stroke-width="0.5"/><circle cx="455.5" cy="600.3" r="2.0" fill="url(#gWh)" stroke="#e8b0b0" stroke-width="0.5"/><circle cx="451.4" cy="592.5" r="3.3" fill="url(#gRd)"/>
<line x1="443.4" y1="605.2" x2="452.0" y2="607.1" stroke="#f0c4c4" stroke-width="1.7"/><line x1="443.4" y1="605.2" x2="438.8" y2="612.7" stroke="#f0c4c4" stroke-width="1.7"/><circle cx="452.0" cy="607.1" r="2.0" fill="url(#gWh)" stroke="#e8b0b0" stroke-width="0.5"/><circle cx="438.8" cy="612.7" r="2.0" fill="url(#gWh)" stroke="#e8b0b0" stroke-width="0.5"/><circle cx="443.4" cy="605.2" r="3.3" fill="url(#gRd)"/>
<line x1="428.5" y1="604.7" x2="431.2" y2="613.1" stroke="#f0c4c4" stroke-width="1.7"/><line x1="428.5" y1="604.7" x2="419.7" y2="604.4" stroke="#f0c4c4" stroke-width="1.7"/><circle cx="431.2" cy="613.1" r="2.0" fill="url(#gWh)" stroke="#e8b0b0" stroke-width="0.5"/><circle cx="419.7" cy="604.4" r="2.0" fill="url(#gWh)" stroke="#e8b0b0" stroke-width="0.5"/><circle cx="428.5" cy="604.7" r="3.3" fill="url(#gRd)"/>
<line x1="421.4" y1="591.5" x2="415.5" y2="598.0" stroke="#f0c4c4" stroke-width="1.7"/><line x1="421.4" y1="591.5" x2="417.3" y2="583.7" stroke="#f0c4c4" stroke-width="1.7"/><circle cx="415.5" cy="598.0" r="2.0" fill="url(#gWh)" stroke="#e8b0b0" stroke-width="0.5"/><circle cx="417.3" cy="583.7" r="2.0" fill="url(#gWh)" stroke="#e8b0b0" stroke-width="0.5"/><circle cx="421.4" cy="591.5" r="3.3" fill="url(#gRd)"/>
<line x1="429.4" y1="578.8" x2="420.8" y2="576.9" stroke="#f0c4c4" stroke-width="1.7"/><line x1="429.4" y1="578.8" x2="434.0" y2="571.3" stroke="#f0c4c4" stroke-width="1.7"/><circle cx="420.8" cy="576.9" r="2.0" fill="url(#gWh)" stroke="#e8b0b0" stroke-width="0.5"/><circle cx="434.0" cy="571.3" r="2.0" fill="url(#gWh)" stroke="#e8b0b0" stroke-width="0.5"/><circle cx="429.4" cy="578.8" r="3.3" fill="url(#gRd)"/>
<line x1="444.3" y1="579.3" x2="441.6" y2="570.9" stroke="#f0c4c4" stroke-width="1.7"/><line x1="444.3" y1="579.3" x2="453.1" y2="579.6" stroke="#f0c4c4" stroke-width="1.7"/><circle cx="441.6" cy="570.9" r="2.0" fill="url(#gWh)" stroke="#e8b0b0" stroke-width="0.5"/><circle cx="453.1" cy="579.6" r="2.0" fill="url(#gWh)" stroke="#e8b0b0" stroke-width="0.5"/><circle cx="444.3" cy="579.3" r="3.3" fill="url(#gRd)"/>
<circle cx="436.4" cy="592.0" r="4.7" fill="url(#gPu)"/>
<line x1="389.1" y1="695.6" x2="395.0" y2="689.1" stroke="#f0c4c4" stroke-width="1.7"/><line x1="389.1" y1="695.6" x2="393.2" y2="703.4" stroke="#f0c4c4" stroke-width="1.7"/><circle cx="395.0" cy="689.1" r="2.0" fill="url(#gWh)" stroke="#e8b0b0" stroke-width="0.5"/><circle cx="393.2" cy="703.4" r="2.0" fill="url(#gWh)" stroke="#e8b0b0" stroke-width="0.5"/><circle cx="389.1" cy="695.6" r="3.3" fill="url(#gRd)"/>
<line x1="381.1" y1="708.3" x2="389.7" y2="710.2" stroke="#f0c4c4" stroke-width="1.7"/><line x1="381.1" y1="708.3" x2="376.5" y2="715.8" stroke="#f0c4c4" stroke-width="1.7"/><circle cx="389.7" cy="710.2" r="2.0" fill="url(#gWh)" stroke="#e8b0b0" stroke-width="0.5"/><circle cx="376.5" cy="715.8" r="2.0" fill="url(#gWh)" stroke="#e8b0b0" stroke-width="0.5"/><circle cx="381.1" cy="708.3" r="3.3" fill="url(#gRd)"/>
<line x1="366.2" y1="707.8" x2="368.9" y2="716.2" stroke="#f0c4c4" stroke-width="1.7"/><line x1="366.2" y1="707.8" x2="357.4" y2="707.5" stroke="#f0c4c4" stroke-width="1.7"/><circle cx="368.9" cy="716.2" r="2.0" fill="url(#gWh)" stroke="#e8b0b0" stroke-width="0.5"/><circle cx="357.4" cy="707.5" r="2.0" fill="url(#gWh)" stroke="#e8b0b0" stroke-width="0.5"/><circle cx="366.2" cy="707.8" r="3.3" fill="url(#gRd)"/>
<line x1="359.1" y1="694.6" x2="353.2" y2="701.1" stroke="#f0c4c4" stroke-width="1.7"/><line x1="359.1" y1="694.6" x2="355.0" y2="686.8" stroke="#f0c4c4" stroke-width="1.7"/><circle cx="353.2" cy="701.1" r="2.0" fill="url(#gWh)" stroke="#e8b0b0" stroke-width="0.5"/><circle cx="355.0" cy="686.8" r="2.0" fill="url(#gWh)" stroke="#e8b0b0" stroke-width="0.5"/><circle cx="359.1" cy="694.6" r="3.3" fill="url(#gRd)"/>
<line x1="367.1" y1="681.9" x2="358.5" y2="680.0" stroke="#f0c4c4" stroke-width="1.7"/><line x1="367.1" y1="681.9" x2="371.7" y2="674.4" stroke="#f0c4c4" stroke-width="1.7"/><circle cx="358.5" cy="680.0" r="2.0" fill="url(#gWh)" stroke="#e8b0b0" stroke-width="0.5"/><circle cx="371.7" cy="674.4" r="2.0" fill="url(#gWh)" stroke="#e8b0b0" stroke-width="0.5"/><circle cx="367.1" cy="681.9" r="3.3" fill="url(#gRd)"/>
<line x1="382.0" y1="682.4" x2="379.3" y2="674.0" stroke="#f0c4c4" stroke-width="1.7"/><line x1="382.0" y1="682.4" x2="390.8" y2="682.7" stroke="#f0c4c4" stroke-width="1.7"/><circle cx="379.3" cy="674.0" r="2.0" fill="url(#gWh)" stroke="#e8b0b0" stroke-width="0.5"/><circle cx="390.8" cy="682.7" r="2.0" fill="url(#gWh)" stroke="#e8b0b0" stroke-width="0.5"/><circle cx="382.0" cy="682.4" r="3.3" fill="url(#gRd)"/>
<circle cx="374.1" cy="695.1" r="4.7" fill="url(#gBl)"/>
<line x1="449.4" y1="672.0" x2="455.3" y2="665.5" stroke="#f0c4c4" stroke-width="1.7"/><line x1="449.4" y1="672.0" x2="453.5" y2="679.8" stroke="#f0c4c4" stroke-width="1.7"/><circle cx="455.3" cy="665.5" r="2.0" fill="url(#gWh)" stroke="#e8b0b0" stroke-width="0.5"/><circle cx="453.5" cy="679.8" r="2.0" fill="url(#gWh)" stroke="#e8b0b0" stroke-width="0.5"/><circle cx="449.4" cy="672.0" r="3.3" fill="url(#gRd)"/>
<line x1="441.4" y1="684.7" x2="450.0" y2="686.6" stroke="#f0c4c4" stroke-width="1.7"/><line x1="441.4" y1="684.7" x2="436.8" y2="692.2" stroke="#f0c4c4" stroke-width="1.7"/><circle cx="450.0" cy="686.6" r="2.0" fill="url(#gWh)" stroke="#e8b0b0" stroke-width="0.5"/><circle cx="436.8" cy="692.2" r="2.0" fill="url(#gWh)" stroke="#e8b0b0" stroke-width="0.5"/><circle cx="441.4" cy="684.7" r="3.3" fill="url(#gRd)"/>
<line x1="426.5" y1="684.2" x2="429.2" y2="692.6" stroke="#f0c4c4" stroke-width="1.7"/><line x1="426.5" y1="684.2" x2="417.7" y2="683.9" stroke="#f0c4c4" stroke-width="1.7"/><circle cx="429.2" cy="692.6" r="2.0" fill="url(#gWh)" stroke="#e8b0b0" stroke-width="0.5"/><circle cx="417.7" cy="683.9" r="2.0" fill="url(#gWh)" stroke="#e8b0b0" stroke-width="0.5"/><circle cx="426.5" cy="684.2" r="3.3" fill="url(#gRd)"/>
<line x1="419.4" y1="671.0" x2="413.5" y2="677.5" stroke="#f0c4c4" stroke-width="1.7"/><line x1="419.4" y1="671.0" x2="415.3" y2="663.2" stroke="#f0c4c4" stroke-width="1.7"/><circle cx="413.5" cy="677.5" r="2.0" fill="url(#gWh)" stroke="#e8b0b0" stroke-width="0.5"/><circle cx="415.3" cy="663.2" r="2.0" fill="url(#gWh)" stroke="#e8b0b0" stroke-width="0.5"/><circle cx="419.4" cy="671.0" r="3.3" fill="url(#gRd)"/>
<line x1="427.4" y1="658.3" x2="418.8" y2="656.4" stroke="#f0c4c4" stroke-width="1.7"/><line x1="427.4" y1="658.3" x2="432.0" y2="650.8" stroke="#f0c4c4" stroke-width="1.7"/><circle cx="418.8" cy="656.4" r="2.0" fill="url(#gWh)" stroke="#e8b0b0" stroke-width="0.5"/><circle cx="432.0" cy="650.8" r="2.0" fill="url(#gWh)" stroke="#e8b0b0" stroke-width="0.5"/><circle cx="427.4" cy="658.3" r="3.3" fill="url(#gRd)"/>
<line x1="442.3" y1="658.8" x2="439.6" y2="650.4" stroke="#f0c4c4" stroke-width="1.7"/><line x1="442.3" y1="658.8" x2="451.1" y2="659.1" stroke="#f0c4c4" stroke-width="1.7"/><circle cx="439.6" cy="650.4" r="2.0" fill="url(#gWh)" stroke="#e8b0b0" stroke-width="0.5"/><circle cx="451.1" cy="659.1" r="2.0" fill="url(#gWh)" stroke="#e8b0b0" stroke-width="0.5"/><circle cx="442.3" cy="658.8" r="3.3" fill="url(#gRd)"/>
<circle cx="434.4" cy="671.5" r="4.7" fill="url(#gBl)"/>
<path d="M371,630 C356,634 350,650 358,660 C362,665 366,666 369,666" fill="none" stroke="#000" stroke-width="3.2" stroke-linecap="butt"/>
<polygon points="366,660 375,666.5 366,672" fill="#000"/>
<text x="367.8" y="649.7" font-size="17.5" fill="#111" textLength="53.8" lengthAdjust="spacingAndGlyphs">Charge</text>
<path d="M451,697 C452,710 462,716 470,714 C476,712 479,706 480,700" fill="none" stroke="#000" stroke-width="3.2" stroke-linecap="butt"/>
<polygon points="474.5,702 480.5,693 485.5,703" fill="#000"/>
<text x="397.9" y="736.8" font-size="17.8" fill="#111" textLength="139.9" lengthAdjust="spacingAndGlyphs">Disproportionation</text>
<rect x="478.9" y="524.8" width="126.2" height="69.6" fill="none" stroke="#111" stroke-width="1.9" stroke-dasharray="5.2 2.8"/>
<text x="485.8" y="545.1" font-size="15" fill="#111" textLength="116.3" lengthAdjust="spacingAndGlyphs">Crystalline MnO<tspan font-size="10" dy="3">2</tspan></text>
<circle cx="515.0" cy="549.5" r="3.2" fill="url(#gCb)"/>
<circle cx="520.1" cy="550.1" r="3.2" fill="url(#gCb)"/>
<circle cx="525.2" cy="549.5" r="3.2" fill="url(#gCb)"/>
<circle cx="530.3" cy="550.1" r="3.2" fill="url(#gCb)"/>
<circle cx="535.4" cy="549.5" r="3.2" fill="url(#gCb)"/>
<circle cx="540.5" cy="550.1" r="3.2" fill="url(#gCb)"/>
<circle cx="545.6" cy="549.5" r="3.2" fill="url(#gCb)"/>
<circle cx="550.7" cy="550.1" r="3.2" fill="url(#gCb)"/>
<circle cx="555.8" cy="549.5" r="3.2" fill="url(#gCb)"/>
<circle cx="560.9" cy="550.1" r="3.2" fill="url(#gCb)"/>
<circle cx="566.0" cy="549.5" r="3.2" fill="url(#gCb)"/>
<circle cx="571.1" cy="550.1" r="3.2" fill="url(#gCb)"/>
<circle cx="516.2" cy="551.1" r="3.2" fill="url(#gCb)"/>
<circle cx="521.3" cy="551.7" r="3.2" fill="url(#gCb)"/>
<circle cx="526.4" cy="551.1" r="3.2" fill="url(#gCb)"/>
<circle cx="531.5" cy="551.7" r="3.2" fill="url(#gCb)"/>
<circle cx="536.6" cy="551.1" r="3.2" fill="url(#gCb)"/>
<circle cx="541.7" cy="551.7" r="3.2" fill="url(#gCb)"/>
<circle cx="546.8" cy="551.1" r="3.2" fill="url(#gCb)"/>
<circle cx="551.9" cy="551.7" r="3.2" fill="url(#gCb)"/>
<circle cx="557.0" cy="551.1" r="3.2" fill="url(#gCb)"/>
<circle cx="562.1" cy="551.7" r="3.2" fill="url(#gCb)"/>
<circle cx="567.2" cy="551.1" r="3.2" fill="url(#gCb)"/>
<circle cx="572.3" cy="551.7" r="3.2" fill="url(#gCb)"/>
<circle cx="517.4" cy="552.7" r="3.2" fill="url(#gCb)"/>
<circle cx="522.5" cy="553.3" r="3.2" fill="url(#gCb)"/>
<circle cx="527.6" cy="552.7" r="3.2" fill="url(#gCb)"/>
<circle cx="532.7" cy="553.3" r="3.2" fill="url(#gCb)"/>
<circle cx="537.8" cy="552.7" r="3.2" fill="url(#gCb)"/>
<circle cx="542.9" cy="553.3" r="3.2" fill="url(#gCb)"/>
<circle cx="548.0" cy="552.7" r="3.2" fill="url(#gCb)"/>
<circle cx="553.1" cy="553.3" r="3.2" fill="url(#gCb)"/>
<circle cx="558.2" cy="552.7" r="3.2" fill="url(#gCb)"/>
<circle cx="563.3" cy="553.3" r="3.2" fill="url(#gCb)"/>
<circle cx="568.4" cy="552.7" r="3.2" fill="url(#gCb)"/>
<circle cx="573.5" cy="553.3" r="3.2" fill="url(#gCb)"/>
<circle cx="514.5" cy="553.5" r="3.2" fill="url(#gCb)"/>
<circle cx="519.4" cy="554.6" r="3.2" fill="url(#gCb)"/>
<circle cx="524.2" cy="555.6" r="3.2" fill="url(#gCb)"/>
<circle cx="529.1" cy="556.7" r="3.2" fill="url(#gCb)"/>
<circle cx="533.9" cy="557.8" r="3.2" fill="url(#gCb)"/>
<circle cx="538.8" cy="558.9" r="3.2" fill="url(#gCb)"/>
<circle cx="543.6" cy="559.9" r="3.2" fill="url(#gCb)"/>
<circle cx="548.5" cy="561.0" r="3.2" fill="url(#gCb)"/>
<circle cx="553.1" cy="559.9" r="3.2" fill="url(#gCb)"/>
<circle cx="557.7" cy="558.8" r="3.2" fill="url(#gCb)"/>
<circle cx="562.3" cy="557.7" r="3.2" fill="url(#gCb)"/>
<circle cx="566.9" cy="556.6" r="3.2" fill="url(#gCb)"/>
<circle cx="571.5" cy="555.5" r="3.2" fill="url(#gCb)"/>
<circle cx="514.5" cy="556.1" r="3.2" fill="url(#gCb)"/>
<circle cx="519.4" cy="557.2" r="3.2" fill="url(#gCb)"/>
<circle cx="524.2" cy="558.2" r="3.2" fill="url(#gCb)"/>
<circle cx="529.1" cy="559.3" r="3.2" fill="url(#gCb)"/>
<circle cx="533.9" cy="560.4" r="3.2" fill="url(#gCb)"/>
<circle cx="538.8" cy="561.5" r="3.2" fill="url(#gCb)"/>
<circle cx="543.6" cy="562.5" r="3.2" fill="url(#gCb)"/>
<circle cx="548.5" cy="563.6" r="3.2" fill="url(#gCb)"/>
<circle cx="553.1" cy="562.5" r="3.2" fill="url(#gCb)"/>
<circle cx="557.7" cy="561.4" r="3.2" fill="url(#gCb)"/>
<circle cx="562.3" cy="560.3" r="3.2" fill="url(#gCb)"/>
<circle cx="566.9" cy="559.2" r="3.2" fill="url(#gCb)"/>
<circle cx="571.5" cy="558.1" r="3.2" fill="url(#gCb)"/>
<circle cx="519.3" cy="551.3" r="1.9" fill="url(#gPk)"/>
<circle cx="525.0" cy="552.6" r="1.9" fill="url(#gPk)"/>
<circle cx="530.7" cy="553.8" r="1.9" fill="url(#gPk)"/>
<circle cx="536.3" cy="555.1" r="1.9" fill="url(#gPk)"/>
<circle cx="542.0" cy="556.3" r="1.9" fill="url(#gPk)"/>
<circle cx="514.5" cy="560.1" r="3.2" fill="url(#gCb)"/>
<circle cx="519.4" cy="561.2" r="3.2" fill="url(#gCb)"/>
<circle cx="524.2" cy="562.2" r="3.2" fill="url(#gCb)"/>
<circle cx="529.1" cy="563.3" r="3.2" fill="url(#gCb)"/>
<circle cx="533.9" cy="564.4" r="3.2" fill="url(#gCb)"/>
<circle cx="538.8" cy="565.5" r="3.2" fill="url(#gCb)"/>
<circle cx="543.6" cy="566.5" r="3.2" fill="url(#gCb)"/>
<circle cx="548.5" cy="567.6" r="3.2" fill="url(#gCb)"/>
<circle cx="553.1" cy="566.5" r="3.2" fill="url(#gCb)"/>
<circle cx="557.7" cy="565.4" r="3.2" fill="url(#gCb)"/>
<circle cx="562.3" cy="564.3" r="3.2" fill="url(#gCb)"/>
<circle cx="566.9" cy="563.2" r="3.2" fill="url(#gCb)"/>
<circle cx="571.5" cy="562.1" r="3.2" fill="url(#gCb)"/>
<circle cx="514.5" cy="562.7" r="3.2" fill="url(#gCb)"/>
<circle cx="519.4" cy="563.8" r="3.2" fill="url(#gCb)"/>
<circle cx="524.2" cy="564.8" r="3.2" fill="url(#gCb)"/>
<circle cx="529.1" cy="565.9" r="3.2" fill="url(#gCb)"/>
<circle cx="533.9" cy="567.0" r="3.2" fill="url(#gCb)"/>
<circle cx="538.8" cy="568.1" r="3.2" fill="url(#gCb)"/>
<circle cx="543.6" cy="569.1" r="3.2" fill="url(#gCb)"/>
<circle cx="548.5" cy="570.2" r="3.2" fill="url(#gCb)"/>
<circle cx="553.1" cy="569.1" r="3.2" fill="url(#gCb)"/>
<circle cx="557.7" cy="568.0" r="3.2" fill="url(#gCb)"/>
<circle cx="562.3" cy="566.9" r="3.2" fill="url(#gCb)"/>
<circle cx="566.9" cy="565.8" r="3.2" fill="url(#gCb)"/>
<circle cx="571.5" cy="564.7" r="3.2" fill="url(#gCb)"/>
<circle cx="519.3" cy="557.9" r="1.9" fill="url(#gPk)"/>
<circle cx="525.0" cy="559.2" r="1.9" fill="url(#gPk)"/>
<circle cx="530.7" cy="560.4" r="1.9" fill="url(#gPk)"/>
<circle cx="536.3" cy="561.7" r="1.9" fill="url(#gPk)"/>
<circle cx="542.0" cy="562.9" r="1.9" fill="url(#gPk)"/>
<circle cx="514.5" cy="566.7" r="3.2" fill="url(#gCb)"/>
<circle cx="519.4" cy="567.8" r="3.2" fill="url(#gCb)"/>
<circle cx="524.2" cy="568.8" r="3.2" fill="url(#gCb)"/>
<circle cx="529.1" cy="569.9" r="3.2" fill="url(#gCb)"/>
<circle cx="533.9" cy="571.0" r="3.2" fill="url(#gCb)"/>
<circle cx="538.8" cy="572.1" r="3.2" fill="url(#gCb)"/>
<circle cx="543.6" cy="573.1" r="3.2" fill="url(#gCb)"/>
<circle cx="548.5" cy="574.2" r="3.2" fill="url(#gCb)"/>
<circle cx="553.1" cy="573.1" r="3.2" fill="url(#gCb)"/>
<circle cx="557.7" cy="572.0" r="3.2" fill="url(#gCb)"/>
<circle cx="562.3" cy="570.9" r="3.2" fill="url(#gCb)"/>
<circle cx="566.9" cy="569.8" r="3.2" fill="url(#gCb)"/>
<circle cx="571.5" cy="568.7" r="3.2" fill="url(#gCb)"/>
<circle cx="514.5" cy="569.3" r="3.2" fill="url(#gCb)"/>
<circle cx="519.4" cy="570.4" r="3.2" fill="url(#gCb)"/>
<circle cx="524.2" cy="571.4" r="3.2" fill="url(#gCb)"/>
<circle cx="529.1" cy="572.5" r="3.2" fill="url(#gCb)"/>
<circle cx="533.9" cy="573.6" r="3.2" fill="url(#gCb)"/>
<circle cx="538.8" cy="574.7" r="3.2" fill="url(#gCb)"/>
<circle cx="543.6" cy="575.7" r="3.2" fill="url(#gCb)"/>
<circle cx="548.5" cy="576.8" r="3.2" fill="url(#gCb)"/>
<circle cx="553.1" cy="575.7" r="3.2" fill="url(#gCb)"/>
<circle cx="557.7" cy="574.6" r="3.2" fill="url(#gCb)"/>
<circle cx="562.3" cy="573.5" r="3.2" fill="url(#gCb)"/>
<circle cx="566.9" cy="572.4" r="3.2" fill="url(#gCb)"/>
<circle cx="571.5" cy="571.3" r="3.2" fill="url(#gCb)"/>
<circle cx="519.3" cy="564.5" r="1.9" fill="url(#gPk)"/>
<circle cx="525.0" cy="565.8" r="1.9" fill="url(#gPk)"/>
<circle cx="530.7" cy="567.0" r="1.9" fill="url(#gPk)"/>
<circle cx="536.3" cy="568.3" r="1.9" fill="url(#gPk)"/>
<circle cx="542.0" cy="569.5" r="1.9" fill="url(#gPk)"/>
<circle cx="514.5" cy="573.3" r="3.2" fill="url(#gCb)"/>
<circle cx="519.4" cy="574.4" r="3.2" fill="url(#gCb)"/>
<circle cx="524.2" cy="575.4" r="3.2" fill="url(#gCb)"/>
<circle cx="529.1" cy="576.5" r="3.2" fill="url(#gCb)"/>
<circle cx="533.9" cy="577.6" r="3.2" fill="url(#gCb)"/>
<circle cx="538.8" cy="578.7" r="3.2" fill="url(#gCb)"/>
<circle cx="543.6" cy="579.7" r="3.2" fill="url(#gCb)"/>
<circle cx="548.5" cy="580.8" r="3.2" fill="url(#gCb)"/>
<circle cx="553.1" cy="579.7" r="3.2" fill="url(#gCb)"/>
<circle cx="557.7" cy="578.6" r="3.2" fill="url(#gCb)"/>
<circle cx="562.3" cy="577.5" r="3.2" fill="url(#gCb)"/>
<circle cx="566.9" cy="576.4" r="3.2" fill="url(#gCb)"/>
<circle cx="571.5" cy="575.3" r="3.2" fill="url(#gCb)"/>
<circle cx="514.5" cy="575.9" r="3.2" fill="url(#gCb)"/>
<circle cx="519.4" cy="577.0" r="3.2" fill="url(#gCb)"/>
<circle cx="524.2" cy="578.0" r="3.2" fill="url(#gCb)"/>
<circle cx="529.1" cy="579.1" r="3.2" fill="url(#gCb)"/>
<circle cx="533.9" cy="580.2" r="3.2" fill="url(#gCb)"/>
<circle cx="538.8" cy="581.3" r="3.2" fill="url(#gCb)"/>
<circle cx="543.6" cy="582.3" r="3.2" fill="url(#gCb)"/>
<circle cx="548.5" cy="583.4" r="3.2" fill="url(#gCb)"/>
<circle cx="553.1" cy="582.3" r="3.2" fill="url(#gCb)"/>
<circle cx="557.7" cy="581.2" r="3.2" fill="url(#gCb)"/>
<circle cx="562.3" cy="580.1" r="3.2" fill="url(#gCb)"/>
<circle cx="566.9" cy="579.0" r="3.2" fill="url(#gCb)"/>
<circle cx="571.5" cy="577.9" r="3.2" fill="url(#gCb)"/>
<circle cx="519.3" cy="571.1" r="1.9" fill="url(#gPk)"/>
<circle cx="525.0" cy="572.4" r="1.9" fill="url(#gPk)"/>
<circle cx="530.7" cy="573.6" r="1.9" fill="url(#gPk)"/>
<circle cx="536.3" cy="574.9" r="1.9" fill="url(#gPk)"/>
<circle cx="542.0" cy="576.1" r="1.9" fill="url(#gPk)"/>
<circle cx="514.5" cy="579.9" r="3.2" fill="url(#gCb)"/>
<circle cx="519.4" cy="581.0" r="3.2" fill="url(#gCb)"/>
<circle cx="524.2" cy="582.0" r="3.2" fill="url(#gCb)"/>
<circle cx="529.1" cy="583.1" r="3.2" fill="url(#gCb)"/>
<circle cx="533.9" cy="584.2" r="3.2" fill="url(#gCb)"/>
<circle cx="538.8" cy="585.3" r="3.2" fill="url(#gCb)"/>
<circle cx="543.6" cy="586.3" r="3.2" fill="url(#gCb)"/>
<circle cx="548.5" cy="587.4" r="3.2" fill="url(#gCb)"/>
<circle cx="553.1" cy="586.3" r="3.2" fill="url(#gCb)"/>
<circle cx="557.7" cy="585.2" r="3.2" fill="url(#gCb)"/>
<circle cx="562.3" cy="584.1" r="3.2" fill="url(#gCb)"/>
<circle cx="566.9" cy="583.0" r="3.2" fill="url(#gCb)"/>
<circle cx="571.5" cy="581.9" r="3.2" fill="url(#gCb)"/>
<circle cx="514.5" cy="582.5" r="3.2" fill="url(#gCb)"/>
<circle cx="519.4" cy="583.6" r="3.2" fill="url(#gCb)"/>
<circle cx="524.2" cy="584.6" r="3.2" fill="url(#gCb)"/>
<circle cx="529.1" cy="585.7" r="3.2" fill="url(#gCb)"/>
<circle cx="533.9" cy="586.8" r="3.2" fill="url(#gCb)"/>
<circle cx="538.8" cy="587.9" r="3.2" fill="url(#gCb)"/>
<circle cx="543.6" cy="588.9" r="3.2" fill="url(#gCb)"/>
<circle cx="548.5" cy="590.0" r="3.2" fill="url(#gCb)"/>
<circle cx="553.1" cy="588.9" r="3.2" fill="url(#gCb)"/>
<circle cx="557.7" cy="587.8" r="3.2" fill="url(#gCb)"/>
<circle cx="562.3" cy="586.7" r="3.2" fill="url(#gCb)"/>
<circle cx="566.9" cy="585.6" r="3.2" fill="url(#gCb)"/>
<circle cx="571.5" cy="584.5" r="3.2" fill="url(#gCb)"/>
<circle cx="519.3" cy="577.7" r="1.9" fill="url(#gPk)"/>
<circle cx="525.0" cy="579.0" r="1.9" fill="url(#gPk)"/>
<circle cx="530.7" cy="580.2" r="1.9" fill="url(#gPk)"/>
<circle cx="536.3" cy="581.5" r="1.9" fill="url(#gPk)"/>
<circle cx="542.0" cy="582.7" r="1.9" fill="url(#gPk)"/>
<path d="M534,617 L544.5,597.5" stroke="#111" stroke-width="1.4" stroke-dasharray="3.5 2" fill="none" marker-end="url(#ahK)"/>
<circle cx="531.1" cy="632.3" r="13.6" fill="none" stroke="#111" stroke-width="1.4" stroke-dasharray="4.5 2.4"/>
<circle cx="530.8" cy="631.4" r="7.6" fill="url(#gBr)"/>
<circle cx="560.5" cy="640.1" r="7.6" fill="url(#gBr)"/>
<circle cx="501.2" cy="650.6" r="7.6" fill="url(#gBr)"/>
<circle cx="537.8" cy="668.0" r="7.6" fill="url(#gBr)"/>
<circle cx="568.5" cy="680.3" r="7.6" fill="url(#gBr)"/>
<circle cx="505.6" cy="685.6" r="7.6" fill="url(#gBr)"/>
<circle cx="527.3" cy="711.8" r="7.6" fill="url(#gBr)"/>
<circle cx="558.7" cy="715.3" r="7.6" fill="url(#gBr)"/>
<line x1="574.5" y1="618.5" x2="606.5" y2="618.5" stroke="#111" stroke-width="1.5" stroke-dasharray="3.6 2.2" marker-end="url(#ahK)"/>
<line x1="572.5" y1="645.2" x2="606.5" y2="645.2" stroke="#111" stroke-width="1.5" stroke-dasharray="3.6 2.2" marker-end="url(#ahK)"/>
<line x1="579" y1="678.2" x2="606.5" y2="678.2" stroke="#111" stroke-width="1.5" stroke-dasharray="3.6 2.2" marker-end="url(#ahK)"/>
<line x1="573.4" y1="714.3" x2="606.5" y2="714.3" stroke="#111" stroke-width="1.5" stroke-dasharray="3.6 2.2" marker-end="url(#ahK)"/>
<text x="622.7" y="636.6" font-size="17" fill="#111" textLength="164.4" lengthAdjust="spacingAndGlyphs" text-anchor="middle" transform="rotate(-90 622.7 636.6)">Deposited on electrode</text>
<rect x="637.3" y="513" width="24.4" height="241.5" fill="url(#gEl)" stroke="#2a3a6a" stroke-width="0.6"/>
<text x="655.0" y="636.5" font-size="16.2" fill="#111" textLength="67.0" lengthAdjust="spacingAndGlyphs" text-anchor="middle" transform="rotate(-90 655.0 636.5)">Electrode</text>
<circle cx="634.4" cy="518.2" r="4.2" fill="url(#gBr)"/>
<circle cx="661.0" cy="520.3" r="4.2" fill="url(#gBr)"/>
<circle cx="642.6" cy="521.8" r="4.2" fill="url(#gBr)"/>
<circle cx="653.3" cy="520.6" r="4.2" fill="url(#gBr)"/>
<circle cx="635.2" cy="525.6" r="4.2" fill="url(#gBr)"/>
<circle cx="661.3" cy="527.8" r="4.2" fill="url(#gBr)"/>
<circle cx="642.8" cy="528.4" r="4.2" fill="url(#gBr)"/>
<circle cx="651.9" cy="528.1" r="4.2" fill="url(#gBr)"/>
<circle cx="635.3" cy="534.0" r="4.2" fill="url(#gBr)"/>
<circle cx="661.7" cy="534.8" r="4.2" fill="url(#gBr)"/>
<circle cx="643.1" cy="536.7" r="4.2" fill="url(#gBr)"/>
<circle cx="653.0" cy="535.1" r="4.2" fill="url(#gBr)"/>
<circle cx="635.4" cy="539.8" r="4.2" fill="url(#gBr)"/>
<circle cx="661.4" cy="542.9" r="4.2" fill="url(#gBr)"/>
<circle cx="643.5" cy="543.0" r="4.2" fill="url(#gBr)"/>
<circle cx="652.4" cy="540.8" r="4.2" fill="url(#gBr)"/>
<circle cx="635.5" cy="548.5" r="4.2" fill="url(#gBr)"/>
<circle cx="661.3" cy="549.4" r="4.2" fill="url(#gBr)"/>
<circle cx="644.3" cy="550.9" r="4.2" fill="url(#gBr)"/>
<circle cx="653.3" cy="549.5" r="4.2" fill="url(#gBr)"/>
<circle cx="634.8" cy="554.8" r="4.2" fill="url(#gBr)"/>
<circle cx="661.4" cy="556.9" r="4.2" fill="url(#gBr)"/>
<circle cx="642.8" cy="557.6" r="4.2" fill="url(#gBr)"/>
<circle cx="653.1" cy="555.1" r="4.2" fill="url(#gBr)"/>
<circle cx="634.1" cy="562.5" r="4.2" fill="url(#gBr)"/>
<circle cx="660.8" cy="564.3" r="4.2" fill="url(#gBr)"/>
<circle cx="643.4" cy="564.9" r="4.2" fill="url(#gBr)"/>
<circle cx="653.5" cy="562.6" r="4.2" fill="url(#gBr)"/>
<circle cx="634.7" cy="568.8" r="4.2" fill="url(#gBr)"/>
<circle cx="661.4" cy="571.0" r="4.2" fill="url(#gBr)"/>
<circle cx="643.2" cy="572.9" r="4.2" fill="url(#gBr)"/>
<circle cx="652.1" cy="570.5" r="4.2" fill="url(#gBr)"/>
<circle cx="635.4" cy="575.8" r="4.2" fill="url(#gBr)"/>
<circle cx="660.5" cy="578.1" r="4.2" fill="url(#gBr)"/>
<circle cx="641.5" cy="579.6" r="4.2" fill="url(#gBr)"/>
<circle cx="656.2" cy="577.6" r="4.2" fill="url(#gBr)"/>
<circle cx="634.4" cy="583.5" r="4.2" fill="url(#gBr)"/>
<circle cx="660.7" cy="585.7" r="4.2" fill="url(#gBr)"/>
<circle cx="640.1" cy="586.8" r="4.2" fill="url(#gBr)"/>
<circle cx="656.4" cy="584.8" r="4.2" fill="url(#gBr)"/>
<circle cx="635.4" cy="591.9" r="4.2" fill="url(#gBr)"/>
<circle cx="661.6" cy="593.9" r="4.2" fill="url(#gBr)"/>
<circle cx="640.0" cy="594.0" r="4.2" fill="url(#gBr)"/>
<circle cx="655.6" cy="592.0" r="4.2" fill="url(#gBr)"/>
<circle cx="635.5" cy="598.8" r="4.2" fill="url(#gBr)"/>
<circle cx="661.1" cy="601.1" r="4.2" fill="url(#gBr)"/>
<circle cx="641.2" cy="601.2" r="4.2" fill="url(#gBr)"/>
<circle cx="656.6" cy="599.2" r="4.2" fill="url(#gBr)"/>
<circle cx="634.5" cy="604.8" r="4.2" fill="url(#gBr)"/>
<circle cx="661.1" cy="606.7" r="4.2" fill="url(#gBr)"/>
<circle cx="634.6" cy="613.5" r="4.2" fill="url(#gBr)"/>
<circle cx="660.9" cy="613.6" r="4.2" fill="url(#gBr)"/>
<circle cx="634.1" cy="619.1" r="4.2" fill="url(#gBr)"/>
<circle cx="661.7" cy="621.5" r="4.2" fill="url(#gBr)"/>
<circle cx="634.5" cy="626.2" r="4.2" fill="url(#gBr)"/>
<circle cx="662.0" cy="628.8" r="4.2" fill="url(#gBr)"/>
<circle cx="634.3" cy="633.3" r="4.2" fill="url(#gBr)"/>
<circle cx="660.5" cy="635.5" r="4.2" fill="url(#gBr)"/>
<circle cx="635.1" cy="640.7" r="4.2" fill="url(#gBr)"/>
<circle cx="660.5" cy="643.4" r="4.2" fill="url(#gBr)"/>
<circle cx="634.4" cy="649.6" r="4.2" fill="url(#gBr)"/>
<circle cx="660.6" cy="650.7" r="4.2" fill="url(#gBr)"/>
<circle cx="635.2" cy="655.6" r="4.2" fill="url(#gBr)"/>
<circle cx="662.0" cy="657.8" r="4.2" fill="url(#gBr)"/>
<circle cx="634.4" cy="662.8" r="4.2" fill="url(#gBr)"/>
<circle cx="660.5" cy="664.8" r="4.2" fill="url(#gBr)"/>
<circle cx="634.4" cy="671.0" r="4.2" fill="url(#gBr)"/>
<circle cx="661.7" cy="672.2" r="4.2" fill="url(#gBr)"/>
<circle cx="634.1" cy="676.9" r="4.2" fill="url(#gBr)"/>
<circle cx="660.8" cy="678.8" r="4.2" fill="url(#gBr)"/>
<circle cx="634.4" cy="685.3" r="4.2" fill="url(#gBr)"/>
<circle cx="660.6" cy="685.7" r="4.2" fill="url(#gBr)"/>
<circle cx="635.5" cy="691.9" r="4.2" fill="url(#gBr)"/>
<circle cx="662.0" cy="693.6" r="4.2" fill="url(#gBr)"/>
<circle cx="644.3" cy="695.1" r="4.2" fill="url(#gBr)"/>
<circle cx="653.1" cy="693.3" r="4.2" fill="url(#gBr)"/>
<circle cx="634.8" cy="698.2" r="4.2" fill="url(#gBr)"/>
<circle cx="660.7" cy="701.7" r="4.2" fill="url(#gBr)"/>
<circle cx="644.3" cy="702.8" r="4.2" fill="url(#gBr)"/>
<circle cx="652.2" cy="700.3" r="4.2" fill="url(#gBr)"/>
<circle cx="635.3" cy="706.5" r="4.2" fill="url(#gBr)"/>
<circle cx="661.7" cy="708.3" r="4.2" fill="url(#gBr)"/>
<circle cx="643.8" cy="709.6" r="4.2" fill="url(#gBr)"/>
<circle cx="652.0" cy="708.0" r="4.2" fill="url(#gBr)"/>
<circle cx="635.5" cy="712.5" r="4.2" fill="url(#gBr)"/>
<circle cx="662.0" cy="716.3" r="4.2" fill="url(#gBr)"/>
<circle cx="643.8" cy="715.5" r="4.2" fill="url(#gBr)"/>
<circle cx="653.3" cy="713.7" r="4.2" fill="url(#gBr)"/>
<circle cx="635.5" cy="720.9" r="4.2" fill="url(#gBr)"/>
<circle cx="660.5" cy="721.9" r="4.2" fill="url(#gBr)"/>
<circle cx="643.8" cy="723.7" r="4.2" fill="url(#gBr)"/>
<circle cx="653.0" cy="722.5" r="4.2" fill="url(#gBr)"/>
<circle cx="634.3" cy="726.8" r="4.2" fill="url(#gBr)"/>
<circle cx="661.9" cy="728.8" r="4.2" fill="url(#gBr)"/>
<circle cx="644.3" cy="730.0" r="4.2" fill="url(#gBr)"/>
<circle cx="653.1" cy="729.4" r="4.2" fill="url(#gBr)"/>
<circle cx="635.4" cy="735.1" r="4.2" fill="url(#gBr)"/>
<circle cx="661.8" cy="736.4" r="4.2" fill="url(#gBr)"/>
<circle cx="643.8" cy="737.7" r="4.2" fill="url(#gBr)"/>
<circle cx="653.3" cy="736.5" r="4.2" fill="url(#gBr)"/>
<circle cx="634.8" cy="742.3" r="4.2" fill="url(#gBr)"/>
<circle cx="660.4" cy="743.3" r="4.2" fill="url(#gBr)"/>
<circle cx="643.7" cy="745.2" r="4.2" fill="url(#gBr)"/>
<circle cx="653.2" cy="743.4" r="4.2" fill="url(#gBr)"/>
<circle cx="634.2" cy="749.1" r="4.2" fill="url(#gBr)"/>
<circle cx="653.2" cy="749.6" r="4.2" fill="url(#gBr)"/>
<circle cx="706.5" cy="537.0" r="4.8" fill="url(#gPu)"/>
<text x="721.8" y="542.8" font-size="16" fill="#111" textLength="37.0" lengthAdjust="spacingAndGlyphs">Mn<tspan font-size="10" dy="-6">2+</tspan></text>
<circle cx="783.3" cy="536.5" r="4.8" fill="url(#gBl)"/>
<text x="797.8" y="542.8" font-size="16" fill="#111" textLength="36.8" lengthAdjust="spacingAndGlyphs">Mn<tspan font-size="10" dy="-6">3+</tspan></text>
<line x1="710.7" y1="580.9" x2="705.2" y2="588.0" stroke="#f0c4c4" stroke-width="1.7"/><line x1="710.7" y1="580.9" x2="705.2" y2="573.8" stroke="#f0c4c4" stroke-width="1.7"/><circle cx="705.2" cy="588.0" r="2.0" fill="url(#gWh)" stroke="#e8b0b0" stroke-width="0.5"/><circle cx="705.2" cy="573.8" r="2.0" fill="url(#gWh)" stroke="#e8b0b0" stroke-width="0.5"/><circle cx="710.7" cy="580.9" r="3.3" fill="url(#gRd)"/>
<text x="727.0" y="586.0" font-size="16" fill="#111" textLength="31.2" lengthAdjust="spacingAndGlyphs">H<tspan font-size="10.5" dy="3">2</tspan><tspan dy="-3">O</tspan></text>
<line x1="783.3" y1="579.7" x2="783.3" y2="591.7" stroke="#b06080" stroke-width="1.8"/>
<line x1="783.3" y1="579.7" x2="771.3" y2="579.7" stroke="#b06080" stroke-width="1.8"/>
<line x1="783.3" y1="579.7" x2="783.3" y2="567.7" stroke="#b06080" stroke-width="1.8"/>
<line x1="783.3" y1="579.7" x2="795.3" y2="579.7" stroke="#b06080" stroke-width="1.8"/>
<line x1="795.3" y1="579.7" x2="800.6" y2="576.8" stroke="#eee" stroke-width="1.4"/>
<circle cx="800.6" cy="576.8" r="1.8" fill="url(#gWh)"/>
<circle cx="783.3" cy="591.7" r="3.1" fill="url(#gRd)"/>
<circle cx="771.3" cy="579.7" r="3.1" fill="url(#gRd)"/>
<circle cx="783.3" cy="567.7" r="3.1" fill="url(#gRd)"/>
<circle cx="795.3" cy="579.7" r="3.1" fill="url(#gRd)"/>
<circle cx="783.3" cy="579.7" r="3.6" fill="url(#gLv)"/>
<text x="809.0" y="585.1" font-size="16" fill="#111" textLength="51.2" lengthAdjust="spacingAndGlyphs">HPO<tspan font-size="10.5" dy="3">4</tspan><tspan font-size="10.5" dy="-10">2-</tspan></text>
<circle cx="709.4" cy="629.2" r="4.6" fill="url(#gYe)"/>
<text x="730.9" y="635.5" font-size="16" fill="#111">P</text>
<circle cx="778.2" cy="627.5" r="4.6" fill="url(#gGr)"/>
<text x="803.0" y="635.8" font-size="16" fill="#111">O</text>
<circle cx="705.4" cy="683.6" r="7.8" fill="url(#gBr)"/>
<text x="723.9" y="688.9" font-size="16.3" fill="#111" textLength="130.0" lengthAdjust="spacingAndGlyphs">Crystalline MnO<tspan font-size="11" dy="3.5">2</tspan></text>
<circle cx="705.4" cy="726.3" r="7.8" fill="url(#gGy)"/>
<text x="722.9" y="731.9" font-size="16.3" fill="#111" textLength="134.5" lengthAdjust="spacingAndGlyphs">Amorphous MnO<tspan font-size="11" dy="3.5">2</tspan></text>
<text x="882.7" y="529.0" font-size="18.5" fill="#ee1111" textLength="125.1" lengthAdjust="spacingAndGlyphs">With 0.1 M PPi</text>
<text x="887.2" y="561.8" font-size="14.5" fill="#222" textLength="139.2" lengthAdjust="spacingAndGlyphs">[Mn(HPO<tspan font-size="9.5" dy="2.5">4</tspan><tspan dy="-2.5">)</tspan><tspan font-size="9.5" dy="2.5">2</tspan><tspan dy="-2.5">(H</tspan><tspan font-size="9.5" dy="2.5">2</tspan><tspan dy="-2.5">O)</tspan><tspan font-size="9.5" dy="2.5">2</tspan><tspan dy="-2.5">]</tspan><tspan font-size="9.5" dy="-6">2-</tspan></text>
<line x1="912.7" y1="592.0" x2="920.8" y2="600.1" stroke="#b06080" stroke-width="1.8"/>
<line x1="912.7" y1="592.0" x2="904.6" y2="600.1" stroke="#b06080" stroke-width="1.8"/>
<line x1="912.7" y1="592.0" x2="904.6" y2="583.9" stroke="#b06080" stroke-width="1.8"/>
<line x1="912.7" y1="592.0" x2="920.8" y2="583.9" stroke="#b06080" stroke-width="1.8"/>
<line x1="904.6" y1="600.1" x2="898.7" y2="601.2" stroke="#eee" stroke-width="1.4"/>
<circle cx="898.7" cy="601.2" r="1.8" fill="url(#gWh)"/>
<circle cx="920.8" cy="600.1" r="3.1" fill="url(#gRd)"/>
<circle cx="904.6" cy="600.1" r="3.1" fill="url(#gRd)"/>
<circle cx="904.6" cy="583.9" r="3.1" fill="url(#gRd)"/>
<circle cx="920.8" cy="583.9" r="3.1" fill="url(#gRd)"/>
<circle cx="912.7" cy="592.0" r="3.6" fill="url(#gLv)"/>
<line x1="961.7" y1="589.0" x2="969.8" y2="597.1" stroke="#b06080" stroke-width="1.8"/>
<line x1="961.7" y1="589.0" x2="953.6" y2="597.1" stroke="#b06080" stroke-width="1.8"/>
<line x1="961.7" y1="589.0" x2="953.6" y2="580.9" stroke="#b06080" stroke-width="1.8"/>
<line x1="961.7" y1="589.0" x2="969.8" y2="580.9" stroke="#b06080" stroke-width="1.8"/>
<line x1="969.8" y1="580.9" x2="975.7" y2="579.8" stroke="#eee" stroke-width="1.4"/>
<circle cx="975.7" cy="579.8" r="1.8" fill="url(#gWh)"/>
<circle cx="969.8" cy="597.1" r="3.1" fill="url(#gRd)"/>
<circle cx="953.6" cy="597.1" r="3.1" fill="url(#gRd)"/>
<circle cx="953.6" cy="580.9" r="3.1" fill="url(#gRd)"/>
<circle cx="969.8" cy="580.9" r="3.1" fill="url(#gRd)"/>
<circle cx="961.7" cy="589.0" r="3.6" fill="url(#gLv)"/>
<line x1="935.7" y1="573.0" x2="927.5" y2="570.8" stroke="#f0c4c4" stroke-width="1.7"/><line x1="935.7" y1="573.0" x2="943.9" y2="570.8" stroke="#f0c4c4" stroke-width="1.7"/><circle cx="927.5" cy="570.8" r="2.0" fill="url(#gWh)" stroke="#e8b0b0" stroke-width="0.5"/><circle cx="943.9" cy="570.8" r="2.0" fill="url(#gWh)" stroke="#e8b0b0" stroke-width="0.5"/><circle cx="935.7" cy="573.0" r="3.3" fill="url(#gRd)"/>
<line x1="940.7" y1="606.0" x2="948.9" y2="608.2" stroke="#f0c4c4" stroke-width="1.7"/><line x1="940.7" y1="606.0" x2="932.5" y2="608.2" stroke="#f0c4c4" stroke-width="1.7"/><circle cx="948.9" cy="608.2" r="2.0" fill="url(#gWh)" stroke="#e8b0b0" stroke-width="0.5"/><circle cx="932.5" cy="608.2" r="2.0" fill="url(#gWh)" stroke="#e8b0b0" stroke-width="0.5"/><circle cx="940.7" cy="606.0" r="3.3" fill="url(#gRd)"/>
<circle cx="937.7" cy="591.0" r="4.5" fill="url(#gPu)"/>
<line x1="924.3" y1="666.2" x2="932.4" y2="674.3" stroke="#b06080" stroke-width="1.8"/>
<line x1="924.3" y1="666.2" x2="916.2" y2="674.3" stroke="#b06080" stroke-width="1.8"/>
<line x1="924.3" y1="666.2" x2="916.2" y2="658.1" stroke="#b06080" stroke-width="1.8"/>
<line x1="924.3" y1="666.2" x2="932.4" y2="658.1" stroke="#b06080" stroke-width="1.8"/>
<line x1="916.2" y1="674.3" x2="910.3" y2="675.4" stroke="#eee" stroke-width="1.4"/>
<circle cx="910.3" cy="675.4" r="1.8" fill="url(#gWh)"/>
<circle cx="932.4" cy="674.3" r="3.1" fill="url(#gRd)"/>
<circle cx="916.2" cy="674.3" r="3.1" fill="url(#gRd)"/>
<circle cx="916.2" cy="658.1" r="3.1" fill="url(#gRd)"/>
<circle cx="932.4" cy="658.1" r="3.1" fill="url(#gRd)"/>
<circle cx="924.3" cy="666.2" r="3.6" fill="url(#gLv)"/>
<line x1="973.3" y1="663.2" x2="981.4" y2="671.3" stroke="#b06080" stroke-width="1.8"/>
<line x1="973.3" y1="663.2" x2="965.2" y2="671.3" stroke="#b06080" stroke-width="1.8"/>
<line x1="973.3" y1="663.2" x2="965.2" y2="655.1" stroke="#b06080" stroke-width="1.8"/>
<line x1="973.3" y1="663.2" x2="981.4" y2="655.1" stroke="#b06080" stroke-width="1.8"/>
<line x1="981.4" y1="655.1" x2="987.3" y2="654.0" stroke="#eee" stroke-width="1.4"/>
<circle cx="987.3" cy="654.0" r="1.8" fill="url(#gWh)"/>
<circle cx="981.4" cy="671.3" r="3.1" fill="url(#gRd)"/>
<circle cx="965.2" cy="671.3" r="3.1" fill="url(#gRd)"/>
<circle cx="965.2" cy="655.1" r="3.1" fill="url(#gRd)"/>
<circle cx="981.4" cy="655.1" r="3.1" fill="url(#gRd)"/>
<circle cx="973.3" cy="663.2" r="3.6" fill="url(#gLv)"/>
<line x1="947.3" y1="647.2" x2="939.1" y2="645.0" stroke="#f0c4c4" stroke-width="1.7"/><line x1="947.3" y1="647.2" x2="955.5" y2="645.0" stroke="#f0c4c4" stroke-width="1.7"/><circle cx="939.1" cy="645.0" r="2.0" fill="url(#gWh)" stroke="#e8b0b0" stroke-width="0.5"/><circle cx="955.5" cy="645.0" r="2.0" fill="url(#gWh)" stroke="#e8b0b0" stroke-width="0.5"/><circle cx="947.3" cy="647.2" r="3.3" fill="url(#gRd)"/>
<line x1="952.3" y1="680.2" x2="960.5" y2="682.4" stroke="#f0c4c4" stroke-width="1.7"/><line x1="952.3" y1="680.2" x2="944.1" y2="682.4" stroke="#f0c4c4" stroke-width="1.7"/><circle cx="960.5" cy="682.4" r="2.0" fill="url(#gWh)" stroke="#e8b0b0" stroke-width="0.5"/><circle cx="944.1" cy="682.4" r="2.0" fill="url(#gWh)" stroke="#e8b0b0" stroke-width="0.5"/><circle cx="952.3" cy="680.2" r="3.3" fill="url(#gRd)"/>
<circle cx="949.3" cy="665.2" r="4.5" fill="url(#gBl)"/>
<path d="M909.5,614.5 C895,618 890,632 897,642 C901,647 905,648 908,648" fill="none" stroke="#000" stroke-width="3.2" stroke-linecap="butt"/>
<polygon points="905,642 914,648.7 905,654" fill="#000"/>
<text x="907.1" y="634.8" font-size="17.5" fill="#111" textLength="53.1" lengthAdjust="spacingAndGlyphs">Charge</text>
<path d="M994,674.5 C995,686 1003,692 1012,691 C1020,690 1024,684 1026,679" fill="none" stroke="#000" stroke-width="3.2" stroke-linecap="butt"/>
<polygon points="1020.5,681 1028,671 1032.5,682.5" fill="#000"/>
<text x="894.8" y="707.8" font-size="17.8" fill="#111" textLength="138.9" lengthAdjust="spacingAndGlyphs">Disproportionation</text>
<ellipse cx="940.4" cy="734" rx="37.7" ry="16.9" fill="none" stroke="#1c2f6a" stroke-width="1.6" stroke-dasharray="5 3"/>
<circle cx="916.2" cy="730.6" r="4.6" fill="url(#gYe)"/>
<circle cx="930.5" cy="742.0" r="4.6" fill="url(#gYe)"/>
<circle cx="946.0" cy="729.0" r="4.6" fill="url(#gGr)"/>
<circle cx="958.3" cy="742.9" r="4.6" fill="url(#gGr)"/>
<path d="M982,739 C994,738 999,728 996,717" fill="none" stroke="#1c2f6a" stroke-width="2.4"/>
<polygon points="991.5,719 995.5,710 1000,719" fill="#1c2f6a"/>
<text x="1004.9" y="742.0" font-size="17" fill="#1f3a86" textLength="53.6" lengthAdjust="spacingAndGlyphs">Doping</text>
<rect x="1053.3" y="520.1" width="133.5" height="68.2" fill="none" stroke="#111" stroke-width="1.9" stroke-dasharray="5.2 2.8"/>
<text x="1061.3" y="535.5" font-size="15" fill="#111" textLength="120.6" lengthAdjust="spacingAndGlyphs">Amorphous MnO<tspan font-size="10" dy="3">2</tspan></text>
<circle cx="1097.9" cy="542.3" r="4.1" fill="url(#gCb)"/>
<circle cx="1131.7" cy="542.6" r="4.1" fill="url(#gCb)"/>
<circle cx="1094.0" cy="542.8" r="2.3" fill="url(#gPk)"/>
<circle cx="1140.4" cy="543.2" r="4.1" fill="url(#gCb)"/>
<circle cx="1099.1" cy="543.6" r="4.1" fill="url(#gCb)"/>
<circle cx="1134.8" cy="543.8" r="3.9" fill="url(#gCb)"/>
<circle cx="1138.9" cy="543.8" r="2.3" fill="url(#gPk)"/>
<circle cx="1095.1" cy="543.9" r="4.2" fill="url(#gCb)"/>
<circle cx="1100.0" cy="544.0" r="2.3" fill="url(#gPk)"/>
<circle cx="1131.5" cy="544.1" r="4.3" fill="url(#gCb)"/>
<circle cx="1140.0" cy="544.4" r="2.3" fill="url(#gPk)"/>
<circle cx="1122.6" cy="544.7" r="2.3" fill="url(#gPk)"/>
<circle cx="1146.9" cy="545.0" r="4.0" fill="url(#gCb)"/>
<circle cx="1124.8" cy="545.3" r="2.3" fill="url(#gPk)"/>
<circle cx="1098.2" cy="545.8" r="3.4" fill="url(#gCb)"/>
<circle cx="1124.0" cy="546.0" r="3.4" fill="url(#gCb)"/>
<circle cx="1149.1" cy="546.2" r="3.9" fill="url(#gCb)"/>
<circle cx="1107.7" cy="546.4" r="4.1" fill="url(#gCb)"/>
<circle cx="1090.7" cy="547.3" r="2.3" fill="url(#gPk)"/>
<circle cx="1100.7" cy="547.3" r="3.7" fill="url(#gCb)"/>
<circle cx="1147.8" cy="547.3" r="4.1" fill="url(#gCb)"/>
<circle cx="1123.9" cy="547.8" r="3.4" fill="url(#gCb)"/>
<circle cx="1131.6" cy="548.3" r="3.8" fill="url(#gCb)"/>
<circle cx="1124.7" cy="548.6" r="3.3" fill="url(#gCb)"/>
<circle cx="1128.8" cy="548.8" r="2.3" fill="url(#gPk)"/>
<circle cx="1109.1" cy="549.1" r="3.4" fill="url(#gCb)"/>
<circle cx="1103.3" cy="549.2" r="4.0" fill="url(#gCb)"/>
<circle cx="1144.0" cy="549.3" r="4.0" fill="url(#gCb)"/>
<circle cx="1143.9" cy="549.7" r="3.9" fill="url(#gCb)"/>
<circle cx="1120.5" cy="549.7" r="2.3" fill="url(#gPk)"/>
<circle cx="1116.7" cy="550.3" r="4.2" fill="url(#gCb)"/>
<circle cx="1129.4" cy="550.4" r="4.2" fill="url(#gCb)"/>
<circle cx="1131.0" cy="550.5" r="4.2" fill="url(#gCb)"/>
<circle cx="1110.3" cy="550.9" r="3.5" fill="url(#gCb)"/>
<circle cx="1132.2" cy="551.2" r="3.9" fill="url(#gCb)"/>
<circle cx="1126.7" cy="551.3" r="4.3" fill="url(#gCb)"/>
<circle cx="1115.1" cy="551.3" r="3.5" fill="url(#gCb)"/>
<circle cx="1103.2" cy="551.5" r="3.5" fill="url(#gCb)"/>
<circle cx="1104.1" cy="551.6" r="2.3" fill="url(#gPk)"/>
<circle cx="1134.5" cy="551.9" r="3.4" fill="url(#gCb)"/>
<circle cx="1142.8" cy="552.1" r="2.3" fill="url(#gPk)"/>
<circle cx="1114.1" cy="552.1" r="4.1" fill="url(#gCb)"/>
<circle cx="1139.7" cy="552.5" r="2.3" fill="url(#gPk)"/>
<circle cx="1102.1" cy="552.5" r="4.1" fill="url(#gCb)"/>
<circle cx="1097.0" cy="552.7" r="4.1" fill="url(#gCb)"/>
<circle cx="1109.0" cy="552.8" r="4.1" fill="url(#gCb)"/>
<circle cx="1101.3" cy="553.2" r="3.8" fill="url(#gCb)"/>
<circle cx="1149.3" cy="553.7" r="3.6" fill="url(#gCb)"/>
<circle cx="1103.8" cy="553.7" r="4.0" fill="url(#gCb)"/>
<circle cx="1111.0" cy="553.8" r="3.9" fill="url(#gCb)"/>
<circle cx="1135.0" cy="553.8" r="4.1" fill="url(#gCb)"/>
<circle cx="1129.1" cy="553.9" r="3.6" fill="url(#gCb)"/>
<circle cx="1133.4" cy="553.9" r="3.9" fill="url(#gCb)"/>
<circle cx="1120.8" cy="554.0" r="3.3" fill="url(#gCb)"/>
<circle cx="1149.3" cy="554.2" r="2.3" fill="url(#gPk)"/>
<circle cx="1106.7" cy="554.5" r="4.0" fill="url(#gCb)"/>
<circle cx="1094.9" cy="554.6" r="2.3" fill="url(#gPk)"/>
<circle cx="1133.3" cy="554.6" r="3.6" fill="url(#gCb)"/>
<circle cx="1090.0" cy="554.7" r="4.0" fill="url(#gCb)"/>
<circle cx="1116.7" cy="554.8" r="3.3" fill="url(#gCb)"/>
<circle cx="1098.7" cy="554.9" r="3.7" fill="url(#gCb)"/>
<circle cx="1142.2" cy="555.0" r="3.6" fill="url(#gCb)"/>
<circle cx="1089.6" cy="555.0" r="2.3" fill="url(#gPk)"/>
<circle cx="1121.1" cy="555.1" r="4.2" fill="url(#gCb)"/>
<circle cx="1137.4" cy="556.0" r="3.9" fill="url(#gCb)"/>
<circle cx="1136.3" cy="556.5" r="3.7" fill="url(#gCb)"/>
<circle cx="1099.8" cy="556.6" r="4.1" fill="url(#gCb)"/>
<circle cx="1146.4" cy="557.0" r="3.5" fill="url(#gCb)"/>
<circle cx="1112.1" cy="557.0" r="3.4" fill="url(#gCb)"/>
<circle cx="1133.6" cy="557.0" r="3.5" fill="url(#gCb)"/>
<circle cx="1097.5" cy="557.1" r="2.3" fill="url(#gPk)"/>
<circle cx="1151.6" cy="557.4" r="3.8" fill="url(#gCb)"/>
<circle cx="1149.3" cy="557.4" r="3.4" fill="url(#gCb)"/>
<circle cx="1092.9" cy="557.6" r="3.7" fill="url(#gCb)"/>
<circle cx="1089.7" cy="557.7" r="4.1" fill="url(#gCb)"/>
<circle cx="1105.3" cy="557.7" r="3.4" fill="url(#gCb)"/>
<circle cx="1130.3" cy="557.7" r="3.9" fill="url(#gCb)"/>
<circle cx="1096.5" cy="557.7" r="2.3" fill="url(#gPk)"/>
<circle cx="1097.8" cy="558.0" r="3.9" fill="url(#gCb)"/>
<circle cx="1153.6" cy="558.2" r="4.0" fill="url(#gCb)"/>
<circle cx="1109.3" cy="558.3" r="3.4" fill="url(#gCb)"/>
<circle cx="1089.2" cy="558.4" r="4.1" fill="url(#gCb)"/>
<circle cx="1120.5" cy="558.4" r="3.8" fill="url(#gCb)"/>
<circle cx="1091.7" cy="558.6" r="2.3" fill="url(#gPk)"/>
<circle cx="1104.1" cy="559.1" r="4.0" fill="url(#gCb)"/>
<circle cx="1128.4" cy="559.2" r="3.5" fill="url(#gCb)"/>
<circle cx="1107.0" cy="559.4" r="3.7" fill="url(#gCb)"/>
<circle cx="1099.4" cy="559.5" r="3.7" fill="url(#gCb)"/>
<circle cx="1107.8" cy="559.5" r="3.6" fill="url(#gCb)"/>
<circle cx="1152.1" cy="559.9" r="2.3" fill="url(#gPk)"/>
<circle cx="1136.3" cy="560.0" r="2.3" fill="url(#gPk)"/>
<circle cx="1124.0" cy="560.1" r="3.8" fill="url(#gCb)"/>
<circle cx="1096.5" cy="560.1" r="4.0" fill="url(#gCb)"/>
<circle cx="1141.1" cy="560.2" r="4.1" fill="url(#gCb)"/>
<circle cx="1130.8" cy="561.1" r="3.9" fill="url(#gCb)"/>
<circle cx="1122.7" cy="561.2" r="4.2" fill="url(#gCb)"/>
<circle cx="1112.7" cy="561.3" r="2.3" fill="url(#gPk)"/>
<circle cx="1108.8" cy="561.5" r="2.3" fill="url(#gPk)"/>
<circle cx="1109.1" cy="562.4" r="3.4" fill="url(#gCb)"/>
<circle cx="1094.6" cy="562.4" r="3.6" fill="url(#gCb)"/>
<circle cx="1129.8" cy="562.5" r="3.5" fill="url(#gCb)"/>
<circle cx="1105.1" cy="562.6" r="3.6" fill="url(#gCb)"/>
<circle cx="1131.8" cy="562.9" r="3.6" fill="url(#gCb)"/>
<circle cx="1105.3" cy="563.2" r="2.3" fill="url(#gPk)"/>
<circle cx="1114.1" cy="563.2" r="2.3" fill="url(#gPk)"/>
<circle cx="1142.7" cy="563.4" r="3.9" fill="url(#gCb)"/>
<circle cx="1144.1" cy="563.4" r="3.5" fill="url(#gCb)"/>
<circle cx="1134.2" cy="563.5" r="4.3" fill="url(#gCb)"/>
<circle cx="1139.3" cy="563.5" r="3.6" fill="url(#gCb)"/>
<circle cx="1118.7" cy="563.5" r="3.3" fill="url(#gCb)"/>
<circle cx="1120.2" cy="563.6" r="2.3" fill="url(#gPk)"/>
<circle cx="1136.9" cy="564.4" r="3.9" fill="url(#gCb)"/>
<circle cx="1116.5" cy="564.4" r="4.2" fill="url(#gCb)"/>
<circle cx="1117.8" cy="564.5" r="3.9" fill="url(#gCb)"/>
<circle cx="1151.3" cy="565.0" r="3.5" fill="url(#gCb)"/>
<circle cx="1115.2" cy="565.1" r="2.3" fill="url(#gPk)"/>
<circle cx="1123.2" cy="565.1" r="2.3" fill="url(#gPk)"/>
<circle cx="1102.2" cy="565.4" r="3.9" fill="url(#gCb)"/>
<circle cx="1116.5" cy="565.9" r="3.5" fill="url(#gCb)"/>
<circle cx="1121.0" cy="566.1" r="3.9" fill="url(#gCb)"/>
<circle cx="1131.4" cy="566.1" r="3.4" fill="url(#gCb)"/>
<circle cx="1111.2" cy="566.3" r="3.8" fill="url(#gCb)"/>
<circle cx="1148.2" cy="566.3" r="3.4" fill="url(#gCb)"/>
<circle cx="1121.7" cy="566.4" r="3.9" fill="url(#gCb)"/>
<circle cx="1130.3" cy="566.5" r="3.6" fill="url(#gCb)"/>
<circle cx="1100.3" cy="566.6" r="2.3" fill="url(#gPk)"/>
<circle cx="1124.9" cy="566.8" r="4.0" fill="url(#gCb)"/>
<circle cx="1113.6" cy="567.1" r="4.1" fill="url(#gCb)"/>
<circle cx="1138.6" cy="567.3" r="3.8" fill="url(#gCb)"/>
<circle cx="1102.2" cy="567.3" r="4.0" fill="url(#gCb)"/>
<circle cx="1101.1" cy="567.3" r="3.7" fill="url(#gCb)"/>
<circle cx="1145.9" cy="567.3" r="3.8" fill="url(#gCb)"/>
<circle cx="1126.8" cy="567.6" r="3.5" fill="url(#gCb)"/>
<circle cx="1142.5" cy="567.6" r="4.0" fill="url(#gCb)"/>
<circle cx="1092.3" cy="567.7" r="3.9" fill="url(#gCb)"/>
<circle cx="1125.2" cy="567.9" r="3.6" fill="url(#gCb)"/>
<circle cx="1151.5" cy="568.0" r="3.7" fill="url(#gCb)"/>
<circle cx="1130.8" cy="568.0" r="4.3" fill="url(#gCb)"/>
<circle cx="1123.6" cy="568.1" r="3.8" fill="url(#gCb)"/>
<circle cx="1142.0" cy="568.1" r="4.1" fill="url(#gCb)"/>
<circle cx="1105.7" cy="568.3" r="4.1" fill="url(#gCb)"/>
<circle cx="1092.2" cy="568.3" r="3.6" fill="url(#gCb)"/>
<circle cx="1102.1" cy="568.8" r="2.3" fill="url(#gPk)"/>
<circle cx="1146.2" cy="568.9" r="3.9" fill="url(#gCb)"/>
<circle cx="1133.2" cy="569.1" r="4.2" fill="url(#gCb)"/>
<circle cx="1137.8" cy="569.2" r="3.7" fill="url(#gCb)"/>
<circle cx="1101.1" cy="569.2" r="2.3" fill="url(#gPk)"/>
<circle cx="1090.3" cy="569.3" r="3.7" fill="url(#gCb)"/>
<circle cx="1130.8" cy="569.4" r="2.3" fill="url(#gPk)"/>
<circle cx="1132.2" cy="569.7" r="2.3" fill="url(#gPk)"/>
<circle cx="1110.9" cy="569.8" r="3.8" fill="url(#gCb)"/>
<circle cx="1117.0" cy="569.8" r="3.7" fill="url(#gCb)"/>
<circle cx="1127.6" cy="570.1" r="3.6" fill="url(#gCb)"/>
<circle cx="1133.4" cy="570.2" r="3.7" fill="url(#gCb)"/>
<circle cx="1099.2" cy="570.5" r="4.1" fill="url(#gCb)"/>
<circle cx="1114.9" cy="570.5" r="4.2" fill="url(#gCb)"/>
<circle cx="1151.1" cy="571.3" r="3.9" fill="url(#gCb)"/>
<circle cx="1143.1" cy="571.3" r="4.2" fill="url(#gCb)"/>
<circle cx="1113.3" cy="571.4" r="3.3" fill="url(#gCb)"/>
<circle cx="1099.7" cy="571.6" r="3.5" fill="url(#gCb)"/>
<circle cx="1099.9" cy="571.6" r="4.0" fill="url(#gCb)"/>
<circle cx="1100.4" cy="571.7" r="3.6" fill="url(#gCb)"/>
<circle cx="1092.7" cy="571.8" r="3.5" fill="url(#gCb)"/>
<circle cx="1121.5" cy="571.8" r="2.3" fill="url(#gPk)"/>
<circle cx="1118.0" cy="572.0" r="4.0" fill="url(#gCb)"/>
<circle cx="1127.9" cy="572.1" r="3.7" fill="url(#gCb)"/>
<circle cx="1094.5" cy="572.3" r="2.3" fill="url(#gPk)"/>
<circle cx="1141.9" cy="572.6" r="3.7" fill="url(#gCb)"/>
<circle cx="1139.5" cy="572.6" r="3.6" fill="url(#gCb)"/>
<circle cx="1127.7" cy="572.9" r="4.3" fill="url(#gCb)"/>
<circle cx="1140.2" cy="573.6" r="4.3" fill="url(#gCb)"/>
<circle cx="1129.0" cy="573.6" r="3.9" fill="url(#gCb)"/>
<circle cx="1108.4" cy="573.8" r="4.2" fill="url(#gCb)"/>
<circle cx="1144.6" cy="574.0" r="3.6" fill="url(#gCb)"/>
<circle cx="1122.0" cy="574.1" r="4.0" fill="url(#gCb)"/>
<circle cx="1147.5" cy="574.1" r="3.4" fill="url(#gCb)"/>
<circle cx="1105.9" cy="574.4" r="4.2" fill="url(#gCb)"/>
<circle cx="1129.7" cy="574.4" r="2.3" fill="url(#gPk)"/>
<circle cx="1152.1" cy="574.5" r="3.7" fill="url(#gCb)"/>
<circle cx="1111.4" cy="574.6" r="3.9" fill="url(#gCb)"/>
<circle cx="1110.8" cy="575.1" r="3.5" fill="url(#gCb)"/>
<circle cx="1139.8" cy="575.2" r="4.1" fill="url(#gCb)"/>
<circle cx="1105.3" cy="575.6" r="2.3" fill="url(#gPk)"/>
<circle cx="1103.1" cy="575.7" r="4.2" fill="url(#gCb)"/>
<circle cx="1116.7" cy="575.9" r="3.7" fill="url(#gCb)"/>
<circle cx="1124.1" cy="576.1" r="3.3" fill="url(#gCb)"/>
<circle cx="1140.5" cy="576.1" r="3.5" fill="url(#gCb)"/>
<circle cx="1136.7" cy="576.3" r="3.7" fill="url(#gCb)"/>
<circle cx="1094.1" cy="576.3" r="3.7" fill="url(#gCb)"/>
<circle cx="1119.5" cy="576.3" r="3.5" fill="url(#gCb)"/>
<circle cx="1123.0" cy="576.4" r="4.0" fill="url(#gCb)"/>
<circle cx="1143.5" cy="576.4" r="3.7" fill="url(#gCb)"/>
<circle cx="1114.8" cy="576.6" r="3.5" fill="url(#gCb)"/>
<circle cx="1098.5" cy="576.6" r="3.6" fill="url(#gCb)"/>
<circle cx="1140.5" cy="576.8" r="3.5" fill="url(#gCb)"/>
<circle cx="1093.8" cy="576.9" r="3.9" fill="url(#gCb)"/>
<circle cx="1093.3" cy="576.9" r="4.0" fill="url(#gCb)"/>
<circle cx="1134.8" cy="577.0" r="3.5" fill="url(#gCb)"/>
<circle cx="1129.6" cy="577.2" r="3.8" fill="url(#gCb)"/>
<circle cx="1126.8" cy="577.4" r="3.6" fill="url(#gCb)"/>
<circle cx="1129.9" cy="578.1" r="4.2" fill="url(#gCb)"/>
<circle cx="1105.1" cy="578.2" r="4.1" fill="url(#gCb)"/>
<circle cx="1149.1" cy="578.3" r="3.4" fill="url(#gCb)"/>
<circle cx="1099.5" cy="578.5" r="2.3" fill="url(#gPk)"/>
<circle cx="1151.7" cy="578.5" r="2.3" fill="url(#gPk)"/>
<circle cx="1144.1" cy="578.7" r="3.9" fill="url(#gCb)"/>
<circle cx="1139.7" cy="578.8" r="3.9" fill="url(#gCb)"/>
<circle cx="1140.3" cy="579.5" r="2.3" fill="url(#gPk)"/>
<circle cx="1094.0" cy="579.9" r="4.2" fill="url(#gCb)"/>
<circle cx="1105.8" cy="579.9" r="3.3" fill="url(#gCb)"/>
<circle cx="1120.9" cy="580.5" r="4.1" fill="url(#gCb)"/>
<circle cx="1151.7" cy="580.6" r="4.1" fill="url(#gCb)"/>
<circle cx="1132.9" cy="580.8" r="4.3" fill="url(#gCb)"/>
<circle cx="1097.1" cy="581.0" r="3.6" fill="url(#gCb)"/>
<circle cx="1096.0" cy="581.1" r="2.3" fill="url(#gPk)"/>
<circle cx="1153.2" cy="581.2" r="2.3" fill="url(#gPk)"/>
<circle cx="1130.6" cy="581.2" r="3.8" fill="url(#gCb)"/>
<circle cx="1101.2" cy="581.5" r="2.3" fill="url(#gPk)"/>
<circle cx="1096.5" cy="581.8" r="4.1" fill="url(#gCb)"/>
<circle cx="1108.7" cy="582.2" r="3.4" fill="url(#gCb)"/>
<circle cx="1102.1" cy="582.3" r="4.2" fill="url(#gCb)"/>
<circle cx="1113.7" cy="582.4" r="3.9" fill="url(#gCb)"/>
<circle cx="1150.8" cy="582.5" r="3.7" fill="url(#gCb)"/>
<circle cx="1111.3" cy="582.6" r="3.7" fill="url(#gCb)"/>
<circle cx="1115.4" cy="583.1" r="3.4" fill="url(#gCb)"/>
<circle cx="1142.6" cy="583.5" r="3.6" fill="url(#gCb)"/>
<circle cx="1114.9" cy="583.6" r="3.7" fill="url(#gCb)"/>
<circle cx="1124.8" cy="583.7" r="2.3" fill="url(#gPk)"/>
<circle cx="1147.4" cy="583.8" r="3.6" fill="url(#gCb)"/>
<circle cx="1102.4" cy="584.0" r="4.0" fill="url(#gCb)"/>
<text x="988.3" y="607.5" font-size="15" fill="#f0904a" textLength="144.3" lengthAdjust="spacingAndGlyphs">Electrostatic interplay</text>
<line x1="1049.0" y1="626.6" x2="1067.2" y2="625.5" stroke="#f08c3c" stroke-width="1.3" marker-start="url(#ahO)" marker-end="url(#ahO)"/>
<line x1="1113.5" y1="624.8" x2="1086.2" y2="624.9" stroke="#f08c3c" stroke-width="1.3" marker-start="url(#ahO)" marker-end="url(#ahO)"/>
<line x1="1041.8" y1="636.3" x2="1045.8" y2="652.8" stroke="#f08c3c" stroke-width="1.3" marker-start="url(#ahO)" marker-end="url(#ahO)"/>
<line x1="1082.0" y1="632.9" x2="1091.2" y2="646.7" stroke="#f08c3c" stroke-width="1.3" marker-start="url(#ahO)" marker-end="url(#ahO)"/>
<line x1="1116.7" y1="631.8" x2="1102.8" y2="647.5" stroke="#f08c3c" stroke-width="1.3" marker-start="url(#ahO)" marker-end="url(#ahO)"/>
<line x1="1128.5" y1="632.4" x2="1140.3" y2="649.0" stroke="#f08c3c" stroke-width="1.3" marker-start="url(#ahO)" marker-end="url(#ahO)"/>
<line x1="1087.1" y1="656.0" x2="1057.5" y2="660.6" stroke="#f08c3c" stroke-width="1.3" marker-start="url(#ahO)" marker-end="url(#ahO)"/>
<line x1="1106.0" y1="655.0" x2="1136.3" y2="656.3" stroke="#f08c3c" stroke-width="1.3" marker-start="url(#ahO)" marker-end="url(#ahO)"/>
<line x1="1056.2" y1="666.9" x2="1074.7" y2="678.2" stroke="#f08c3c" stroke-width="1.3" marker-start="url(#ahO)" marker-end="url(#ahO)"/>
<line x1="1092.4" y1="663.2" x2="1086.9" y2="674.5" stroke="#f08c3c" stroke-width="1.3" marker-start="url(#ahO)" marker-end="url(#ahO)"/>
<line x1="1102.3" y1="662.1" x2="1114.4" y2="678.1" stroke="#f08c3c" stroke-width="1.3" marker-start="url(#ahO)" marker-end="url(#ahO)"/>
<line x1="1092.3" y1="683.7" x2="1110.7" y2="685.0" stroke="#f08c3c" stroke-width="1.3" marker-start="url(#ahO)" marker-end="url(#ahO)"/>
<line x1="1139.5" y1="663.8" x2="1126.5" y2="678.5" stroke="#f08c3c" stroke-width="1.3" marker-start="url(#ahO)" marker-end="url(#ahO)"/>
<circle cx="1039.5" cy="627.1" r="7.8" fill="url(#gGy)"/>
<circle cx="1076.7" cy="625.0" r="7.8" fill="url(#gGy)"/>
<circle cx="1123.0" cy="624.7" r="7.8" fill="url(#gGy)"/>
<circle cx="1048.1" cy="662.0" r="7.8" fill="url(#gGy)"/>
<circle cx="1096.5" cy="654.6" r="7.8" fill="url(#gGy)"/>
<circle cx="1145.8" cy="656.7" r="7.8" fill="url(#gGy)"/>
<circle cx="1082.8" cy="683.1" r="7.8" fill="url(#gGy)"/>
<circle cx="1120.2" cy="685.6" r="7.8" fill="url(#gGy)"/>
<circle cx="1123" cy="624.7" r="13.7" fill="none" stroke="#111" stroke-width="1.4" stroke-dasharray="4.5 2.4"/>
<path d="M1128,611 L1136,595" stroke="#111" stroke-width="1.4" stroke-dasharray="3.5 2" fill="none" marker-end="url(#ahK)"/>
<path d="M1140.5,672 C1143,685 1152,690 1166,695" fill="none" stroke="#e8141c" stroke-width="1.5" marker-end="url(#ahR)"/>
<text x="1043.3" y="719.0" font-size="17" fill="#ee1111" textLength="152.2" lengthAdjust="spacingAndGlyphs">Flow with electrolyte</text>
<line x1="1161.7" y1="639.1" x2="1194" y2="639.1" stroke="#111" stroke-width="1.5" stroke-dasharray="3.6 2.2" marker-end="url(#ahK)"/>
<g stroke="#3a2a6a" stroke-width="5.2" stroke-linecap="round"><line x1="1172.0" y1="634.1" x2="1182.0" y2="644.1"/><line x1="1172.0" y1="644.1" x2="1182.0" y2="634.1"/></g>
<g stroke="#f01818" stroke-width="3.4" stroke-linecap="round"><line x1="1172.0" y1="634.1" x2="1182.0" y2="644.1"/><line x1="1172.0" y1="644.1" x2="1182.0" y2="634.1"/></g>
<line x1="1161.7" y1="666.0" x2="1194" y2="666.0" stroke="#111" stroke-width="1.5" stroke-dasharray="3.6 2.2" marker-end="url(#ahK)"/>
<g stroke="#3a2a6a" stroke-width="5.2" stroke-linecap="round"><line x1="1172.0" y1="661.0" x2="1182.0" y2="671.0"/><line x1="1172.0" y1="671.0" x2="1182.0" y2="661.0"/></g>
<g stroke="#f01818" stroke-width="3.4" stroke-linecap="round"><line x1="1172.0" y1="661.0" x2="1182.0" y2="671.0"/><line x1="1172.0" y1="671.0" x2="1182.0" y2="661.0"/></g>
<rect x="1196.3" y="513" width="21.2" height="242.2" fill="url(#gEl)" stroke="#2a3a6a" stroke-width="0.6"/>
<text x="1212.3" y="631.3" font-size="16.2" fill="#111" textLength="66.5" lengthAdjust="spacingAndGlyphs" text-anchor="middle" transform="rotate(-90 1212.3 631.3)">Electrode</text>
</svg>
</body></html>
